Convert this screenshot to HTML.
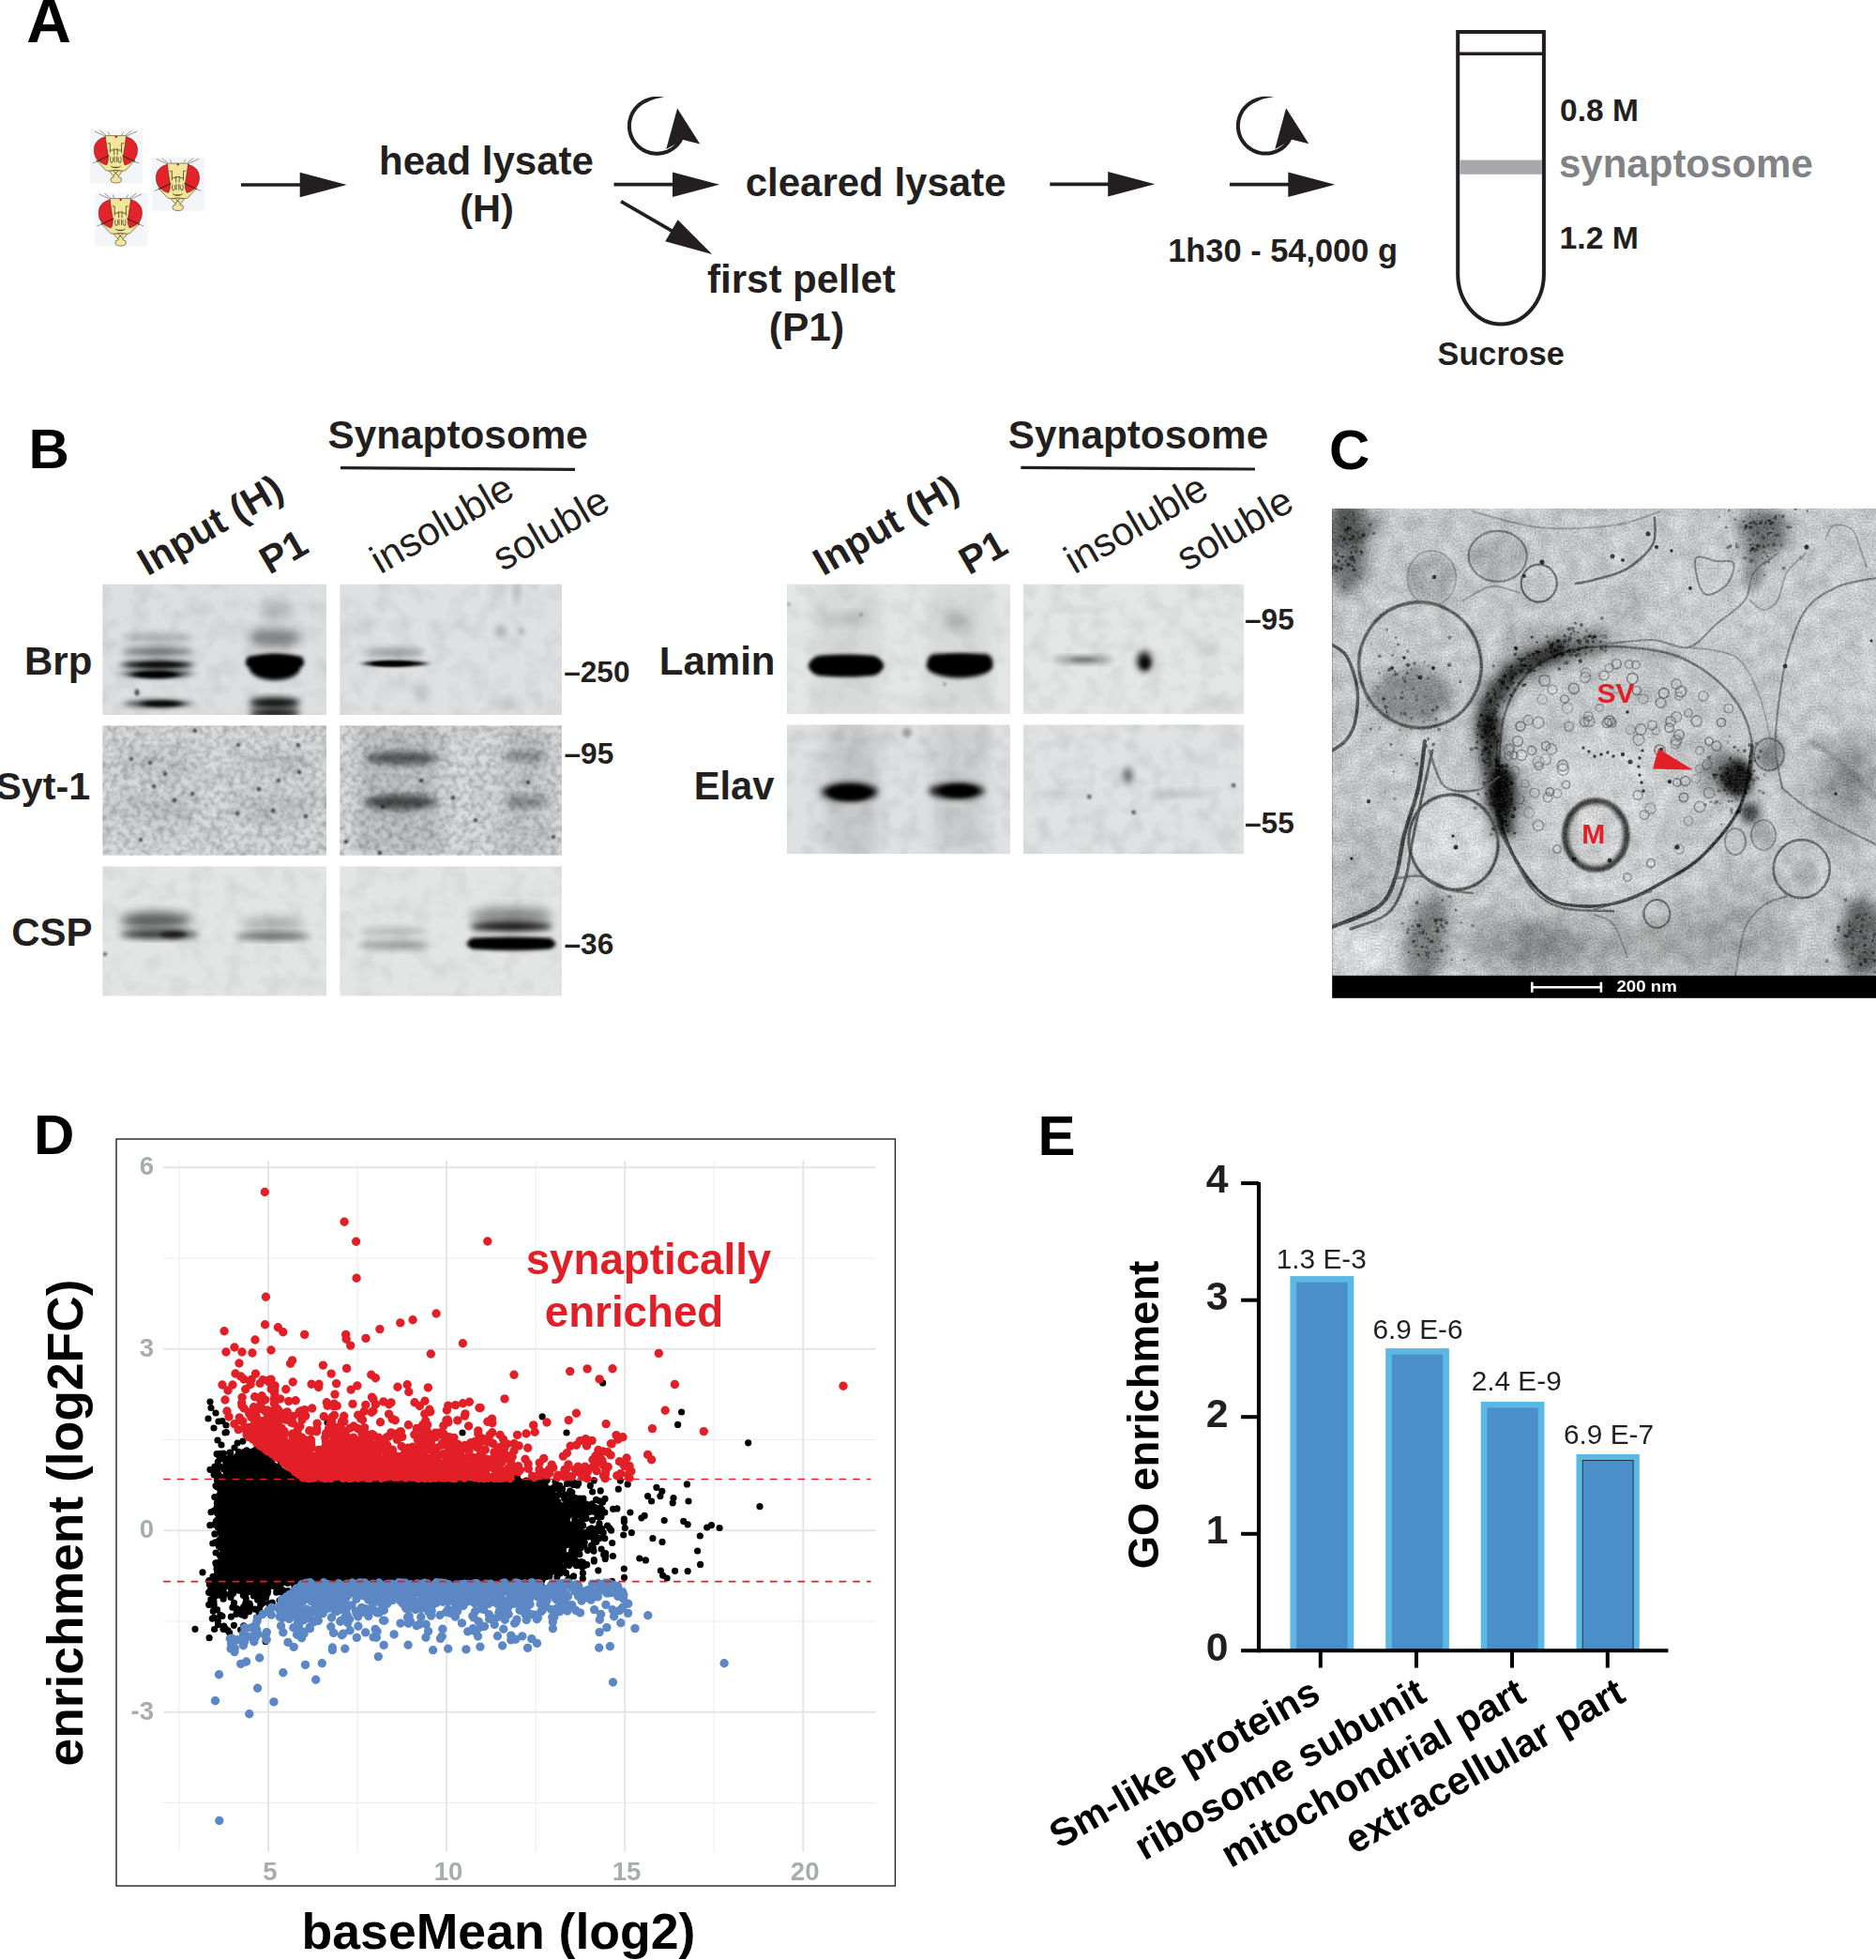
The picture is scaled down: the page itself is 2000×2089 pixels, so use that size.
<!DOCTYPE html>
<html><head><meta charset="utf-8"><title>Figure</title>
<style>
html,body{margin:0;padding:0;background:#fff;overflow:hidden;}
svg{display:block;font-family:"Liberation Sans",sans-serif;}
</style></head><body>
<svg width="2000" height="2089" viewBox="0 0 2000 2089">
<defs><filter id="b1" x="-50%" y="-50%" width="200%" height="200%"><feGaussianBlur stdDeviation="1.2"/></filter><filter id="b2" x="-50%" y="-50%" width="200%" height="200%"><feGaussianBlur stdDeviation="2.2"/></filter><filter id="b3" x="-50%" y="-50%" width="200%" height="200%"><feGaussianBlur stdDeviation="3.5"/></filter><filter id="b5" x="-50%" y="-50%" width="200%" height="200%"><feGaussianBlur stdDeviation="5.5"/></filter><filter id="b8" x="-50%" y="-50%" width="200%" height="200%"><feGaussianBlur stdDeviation="8"/></filter><filter id="b2x" x="-50%" y="-100%" width="200%" height="300%"><feGaussianBlur stdDeviation="4 1.8"/></filter><filter id="b3x" x="-50%" y="-100%" width="200%" height="300%"><feGaussianBlur stdDeviation="5 2.6"/></filter><filter id="nz" x="0" y="0" width="100%" height="100%">
<feTurbulence type="fractalNoise" baseFrequency="0.16" numOctaves="2" seed="7" result="t"/>
<feColorMatrix in="t" type="matrix" values="0 0 0 0 0  0 0 0 0 0  0 0 0 0 0  1.5 0 0 0 -0.55"/>
</filter><filter id="nz2" x="0" y="0" width="100%" height="100%">
<feTurbulence type="fractalNoise" baseFrequency="0.05" numOctaves="2" seed="3" result="t"/>
<feColorMatrix in="t" type="matrix" values="0 0 0 0 0  0 0 0 0 0  0 0 0 0 0  1.2 0 0 0 -0.5"/>
</filter><filter id="emn" x="0" y="0" width="100%" height="100%" color-interpolation-filters="sRGB">
<feTurbulence type="fractalNoise" baseFrequency="0.55" numOctaves="2" seed="11" result="t"/>
<feColorMatrix in="t" type="matrix" values="1 0 0 0 0  1 0 0 0 0  1 0 0 0 0  0 0 0 0 1" result="n"/>
<feTurbulence type="fractalNoise" baseFrequency="0.06" numOctaves="2" seed="5" result="t2"/>
<feColorMatrix in="t2" type="matrix" values="1 0 0 0 0  1 0 0 0 0  1 0 0 0 0  0 0 0 0 1" result="n2"/>
<feComposite in="SourceGraphic" in2="n" operator="arithmetic" k1="0" k2="1" k3="0.34" k4="-0.17" result="a"/>
<feComposite in="a" in2="n2" operator="arithmetic" k1="0" k2="1" k3="0.2" k4="-0.10"/>
</filter><filter id="e05" x="-50%" y="-50%" width="200%" height="200%"><feGaussianBlur stdDeviation="0.6"/></filter><filter id="e1" x="-50%" y="-50%" width="200%" height="200%"><feGaussianBlur stdDeviation="1.1"/></filter><filter id="e2" x="-50%" y="-50%" width="200%" height="200%"><feGaussianBlur stdDeviation="2.2"/></filter><filter id="e4" x="-50%" y="-50%" width="200%" height="200%"><feGaussianBlur stdDeviation="4"/></filter><filter id="e7" x="-50%" y="-50%" width="200%" height="200%"><feGaussianBlur stdDeviation="7"/></filter><filter id="e12" x="-50%" y="-50%" width="200%" height="200%"><feGaussianBlur stdDeviation="12"/></filter><filter id="e20" x="-50%" y="-50%" width="200%" height="200%"><feGaussianBlur stdDeviation="20"/></filter><clipPath id="emclip"><rect x="1420.2" y="542" width="580" height="498"/></clipPath></defs>
<rect width="2000" height="2089" fill="#fff"/>
<text x="28.2" y="44.5" font-size="66" font-weight="bold" fill="#000" text-anchor="start" >A</text><g transform="translate(96.1,138.1)"><rect width="56.2" height="57.2" fill="#f4f5f9"/><path d="M15.5,6.8 L4.7,1.8 M16.9,6.1 L10.4,1.1 M39.1,6.8 L49.9,1.8 M37.7,6.1 L44.2,1.1 M6.8,34.2 L2.5,35.8 M47.8,34.2 L52.1,35.8 M21,6 L19,2.5 M33.6,6 L35.6,2.5" stroke="#444" stroke-width="0.55" fill="none"/><path d="M16.2,6.5 L38.5,6.5 L40,20 L47.8,33 L37.8,43.5 L34.5,44.2 L29.6,50.5 L33,51.6 Q35,56.8 27.6,57 Q20.4,56.8 22.2,51.6 L25.6,50.5 L20.1,44.2 L16.8,43.5 L6.8,33 L14.6,20 Z" fill="#f3e59a" stroke="#3a3a2a" stroke-width="0.6"/><path d="M16.2,7.6 Q5.5,10.5 4.3,19.5 Q3.4,28.5 9,33.5 Q13,37 17.6,37.8 Q20.5,32 18.6,24 Q17,14 16.2,7.6 Z" fill="#e2232a" stroke="#3a1515" stroke-width="0.5"/><path d="M38.4,7.6 Q49.1,10.5 50.3,19.5 Q51.2,28.5 45.6,33.5 Q41.6,37 37,37.8 Q34.1,32 36,24 Q37.6,14 38.4,7.6 Z" fill="#e2232a" stroke="#3a1515" stroke-width="0.5"/><path d="M21.2,14.7 V24.8 M33.4,14.7 V24.8 M21.2,14.7 H18.5 M33.4,14.7 H36.1 M24.6,20.9 H30 M25.6,20.9 V27 M29,20.9 V27 M21.2,22 H25 M29.6,22 H33.4" stroke="#2a2a1a" stroke-width="0.7" fill="none"/><path d="M20.5,27.7 L6.8,34.2 M34.1,27.7 L47.8,34.2" stroke="#1a1a1a" stroke-width="0.9" fill="none"/><path d="M22,29 Q20.5,33 22.5,35.5 Q25,35 24.5,29.5 M26,28.5 V35 M28.6,28.5 V35 M32.6,29 Q34.1,33 32.1,35.5 Q29.6,35 30.1,29.5 M21.9,39 Q27.3,42.5 32.7,39 M24.5,40.2 H30.1 M24.8,43.8 L30,49.3 M29.8,43.8 L24.6,49.3 M20.1,44.2 Q27.3,42.5 34.5,44.2" stroke="#2a2a1a" stroke-width="0.7" fill="none"/><circle cx="27.6" cy="7.8" r="1.1" fill="#8e1b1b"/></g><g transform="translate(162.1,167.6)"><rect width="56.2" height="57.2" fill="#f4f5f9"/><path d="M15.5,6.8 L4.7,1.8 M16.9,6.1 L10.4,1.1 M39.1,6.8 L49.9,1.8 M37.7,6.1 L44.2,1.1 M6.8,34.2 L2.5,35.8 M47.8,34.2 L52.1,35.8 M21,6 L19,2.5 M33.6,6 L35.6,2.5" stroke="#444" stroke-width="0.55" fill="none"/><path d="M16.2,6.5 L38.5,6.5 L40,20 L47.8,33 L37.8,43.5 L34.5,44.2 L29.6,50.5 L33,51.6 Q35,56.8 27.6,57 Q20.4,56.8 22.2,51.6 L25.6,50.5 L20.1,44.2 L16.8,43.5 L6.8,33 L14.6,20 Z" fill="#f3e59a" stroke="#3a3a2a" stroke-width="0.6"/><path d="M16.2,7.6 Q5.5,10.5 4.3,19.5 Q3.4,28.5 9,33.5 Q13,37 17.6,37.8 Q20.5,32 18.6,24 Q17,14 16.2,7.6 Z" fill="#e2232a" stroke="#3a1515" stroke-width="0.5"/><path d="M38.4,7.6 Q49.1,10.5 50.3,19.5 Q51.2,28.5 45.6,33.5 Q41.6,37 37,37.8 Q34.1,32 36,24 Q37.6,14 38.4,7.6 Z" fill="#e2232a" stroke="#3a1515" stroke-width="0.5"/><path d="M21.2,14.7 V24.8 M33.4,14.7 V24.8 M21.2,14.7 H18.5 M33.4,14.7 H36.1 M24.6,20.9 H30 M25.6,20.9 V27 M29,20.9 V27 M21.2,22 H25 M29.6,22 H33.4" stroke="#2a2a1a" stroke-width="0.7" fill="none"/><path d="M20.5,27.7 L6.8,34.2 M34.1,27.7 L47.8,34.2" stroke="#1a1a1a" stroke-width="0.9" fill="none"/><path d="M22,29 Q20.5,33 22.5,35.5 Q25,35 24.5,29.5 M26,28.5 V35 M28.6,28.5 V35 M32.6,29 Q34.1,33 32.1,35.5 Q29.6,35 30.1,29.5 M21.9,39 Q27.3,42.5 32.7,39 M24.5,40.2 H30.1 M24.8,43.8 L30,49.3 M29.8,43.8 L24.6,49.3 M20.1,44.2 Q27.3,42.5 34.5,44.2" stroke="#2a2a1a" stroke-width="0.7" fill="none"/><circle cx="27.6" cy="7.8" r="1.1" fill="#8e1b1b"/></g><g transform="translate(101,205.1)"><rect width="56.2" height="57.2" fill="#f4f5f9"/><path d="M15.5,6.8 L4.7,1.8 M16.9,6.1 L10.4,1.1 M39.1,6.8 L49.9,1.8 M37.7,6.1 L44.2,1.1 M6.8,34.2 L2.5,35.8 M47.8,34.2 L52.1,35.8 M21,6 L19,2.5 M33.6,6 L35.6,2.5" stroke="#444" stroke-width="0.55" fill="none"/><path d="M16.2,6.5 L38.5,6.5 L40,20 L47.8,33 L37.8,43.5 L34.5,44.2 L29.6,50.5 L33,51.6 Q35,56.8 27.6,57 Q20.4,56.8 22.2,51.6 L25.6,50.5 L20.1,44.2 L16.8,43.5 L6.8,33 L14.6,20 Z" fill="#f3e59a" stroke="#3a3a2a" stroke-width="0.6"/><path d="M16.2,7.6 Q5.5,10.5 4.3,19.5 Q3.4,28.5 9,33.5 Q13,37 17.6,37.8 Q20.5,32 18.6,24 Q17,14 16.2,7.6 Z" fill="#e2232a" stroke="#3a1515" stroke-width="0.5"/><path d="M38.4,7.6 Q49.1,10.5 50.3,19.5 Q51.2,28.5 45.6,33.5 Q41.6,37 37,37.8 Q34.1,32 36,24 Q37.6,14 38.4,7.6 Z" fill="#e2232a" stroke="#3a1515" stroke-width="0.5"/><path d="M21.2,14.7 V24.8 M33.4,14.7 V24.8 M21.2,14.7 H18.5 M33.4,14.7 H36.1 M24.6,20.9 H30 M25.6,20.9 V27 M29,20.9 V27 M21.2,22 H25 M29.6,22 H33.4" stroke="#2a2a1a" stroke-width="0.7" fill="none"/><path d="M20.5,27.7 L6.8,34.2 M34.1,27.7 L47.8,34.2" stroke="#1a1a1a" stroke-width="0.9" fill="none"/><path d="M22,29 Q20.5,33 22.5,35.5 Q25,35 24.5,29.5 M26,28.5 V35 M28.6,28.5 V35 M32.6,29 Q34.1,33 32.1,35.5 Q29.6,35 30.1,29.5 M21.9,39 Q27.3,42.5 32.7,39 M24.5,40.2 H30.1 M24.8,43.8 L30,49.3 M29.8,43.8 L24.6,49.3 M20.1,44.2 Q27.3,42.5 34.5,44.2" stroke="#2a2a1a" stroke-width="0.7" fill="none"/><circle cx="27.6" cy="7.8" r="1.1" fill="#8e1b1b"/></g><line x1="257" y1="197" x2="323.7" y2="197" stroke="#231f20" stroke-width="3.7"/><polygon points="369.7,197 319.7,183.7 319.7,210.3" fill="#231f20"/><text x="518.5" y="185.8" font-size="42" font-weight="bold" fill="#231f20" text-anchor="middle" >head lysate</text><text x="519" y="236" font-size="41.5" font-weight="bold" fill="#231f20" text-anchor="middle" >(H)</text><polygon points="709.0,104.1 707.5,103.7 705.9,103.4 704.4,103.1 702.8,103.0 701.2,102.9 699.7,102.9 698.1,102.9 696.6,103.1 695.0,103.3 693.5,103.6 691.9,104.0 690.4,104.4 689.0,105.0 687.5,105.6 686.1,106.2 684.7,107.0 683.4,107.8 682.1,108.7 680.8,109.6 679.6,110.6 678.5,111.7 677.4,112.8 676.3,113.9 675.3,115.2 674.4,116.4 673.6,117.7 672.8,119.1 672.0,120.5 671.4,121.9 670.8,123.4 670.3,124.9 669.9,126.4 669.5,127.9 669.2,129.4 669.0,131.0 668.9,132.5 668.9,134.1 668.9,135.7 669.0,137.2 669.2,138.8 669.4,140.3 669.8,141.9 670.2,143.4 670.7,144.9 671.2,146.3 671.9,147.8 672.6,149.2 673.4,150.5 674.2,151.9 675.1,153.1 676.1,154.4 677.1,155.5 678.2,156.7 679.3,157.7 680.5,158.8 681.8,159.7 683.1,160.6 684.4,161.4 685.8,162.2 687.2,162.9 688.6,163.5 690.1,164.0 691.6,164.5 693.1,164.9 694.6,165.2 696.2,165.5 697.7,165.6 699.3,165.7 700.9,165.7 702.4,165.7 704.0,165.5 705.5,165.3 707.1,165.0 708.6,164.6 710.1,164.2 711.6,163.7 713.0,163.1 714.4,162.4 715.8,161.6 717.2,160.8 718.5,160.0 719.7,159.0 720.9,158.0 722.1,157.0 723.2,155.9 724.2,154.7 725.2,153.5 726.2,152.2 727.0,150.9 727.8,149.5 724.3,147.6 723.6,148.8 722.8,149.9 722.0,151.0 721.2,152.1 720.2,153.1 719.3,154.1 718.3,155.0 717.2,155.8 716.1,156.7 715.0,157.4 713.8,158.1 712.6,158.8 711.4,159.4 710.1,159.9 708.8,160.3 707.5,160.7 706.2,161.1 704.9,161.3 703.5,161.5 702.2,161.6 700.8,161.7 699.4,161.7 698.1,161.6 696.7,161.5 695.4,161.3 694.0,161.0 692.7,160.6 691.4,160.2 690.1,159.7 688.9,159.2 687.6,158.6 686.4,157.9 685.3,157.2 684.2,156.4 683.1,155.6 682.0,154.7 681.0,153.8 680.1,152.8 679.2,151.8 678.4,150.7 677.6,149.6 676.8,148.4 676.2,147.3 675.5,146.0 675.0,144.8 674.5,143.5 674.1,142.2 673.7,140.9 673.4,139.6 673.2,138.2 673.0,136.9 672.9,135.5 672.9,134.1 672.9,132.8 673.1,131.4 673.2,130.1 673.5,128.7 673.8,127.4 674.2,126.1 674.6,124.8 675.1,123.5 675.7,122.3 676.3,121.1 677.0,119.9 677.7,118.7 678.6,117.6 679.4,116.6 680.3,115.6 681.3,114.6 682.3,113.7 683.3,112.8 684.4,112.0 685.6,111.2 686.7,110.5 687.9,109.9 689.2,109.3 690.4,108.7 691.6,108.1 692.9,107.5 694.2,106.9 695.5,106.4 696.9,105.9 698.3,105.4 699.7,105.0 701.2,104.7 702.7,104.5 704.2,104.2 705.8,104.1 707.4,104.1 709.0,104.1" fill="#231f20"/><polygon points="722.1,115.4 710.2,159.0 728.3,148.9 746.3,153.4" fill="#231f20"/><line x1="654.5" y1="196.7" x2="721" y2="196.7" stroke="#231f20" stroke-width="3.7"/><polygon points="767,196.7 717,183.39999999999998 717,210.0" fill="#231f20"/><g transform="translate(662,214.6) rotate(30.1)"><line x1="0" y1="0" x2="66.3" y2="0" stroke="#231f20" stroke-width="3.7"/><polygon points="112.3,0 62.3,-13.3 62.3,13.3" fill="#231f20"/></g><text x="933.6" y="208.7" font-size="42" font-weight="bold" fill="#231f20" text-anchor="middle" >cleared lysate</text><text x="854.4" y="311.9" font-size="42" font-weight="bold" fill="#231f20" text-anchor="middle" >first pellet</text><text x="860" y="362.5" font-size="42.5" font-weight="bold" fill="#231f20" text-anchor="middle" >(P1)</text><line x1="1119.3" y1="196.3" x2="1185.2" y2="196.3" stroke="#231f20" stroke-width="3.7"/><polygon points="1231.2,196.3 1181.2,183.0 1181.2,209.60000000000002" fill="#231f20"/><polygon points="1358.0,104.0 1356.5,103.6 1354.9,103.3 1353.4,103.0 1351.8,102.9 1350.2,102.8 1348.7,102.8 1347.1,102.8 1345.6,103.0 1344.0,103.2 1342.5,103.5 1340.9,103.9 1339.4,104.3 1338.0,104.9 1336.5,105.5 1335.1,106.1 1333.7,106.9 1332.4,107.7 1331.1,108.6 1329.8,109.5 1328.6,110.5 1327.5,111.6 1326.4,112.7 1325.3,113.8 1324.3,115.1 1323.4,116.3 1322.6,117.6 1321.8,119.0 1321.0,120.4 1320.4,121.8 1319.8,123.3 1319.3,124.8 1318.9,126.3 1318.5,127.8 1318.2,129.3 1318.0,130.9 1317.9,132.4 1317.9,134.0 1317.9,135.6 1318.0,137.1 1318.2,138.7 1318.4,140.2 1318.8,141.8 1319.2,143.3 1319.7,144.8 1320.2,146.2 1320.9,147.7 1321.6,149.1 1322.4,150.4 1323.2,151.8 1324.1,153.0 1325.1,154.3 1326.1,155.4 1327.2,156.6 1328.3,157.6 1329.5,158.7 1330.8,159.6 1332.1,160.5 1333.4,161.3 1334.8,162.1 1336.2,162.8 1337.6,163.4 1339.1,163.9 1340.6,164.4 1342.1,164.8 1343.6,165.1 1345.2,165.4 1346.7,165.5 1348.3,165.6 1349.9,165.6 1351.4,165.6 1353.0,165.4 1354.5,165.2 1356.1,164.9 1357.6,164.5 1359.1,164.1 1360.6,163.6 1362.0,163.0 1363.4,162.3 1364.8,161.5 1366.2,160.7 1367.5,159.9 1368.7,158.9 1369.9,157.9 1371.1,156.9 1372.2,155.8 1373.2,154.6 1374.2,153.4 1375.2,152.1 1376.0,150.8 1376.8,149.4 1373.3,147.5 1372.6,148.7 1371.8,149.8 1371.0,150.9 1370.2,152.0 1369.2,153.0 1368.3,154.0 1367.3,154.9 1366.2,155.7 1365.1,156.6 1364.0,157.3 1362.8,158.0 1361.6,158.7 1360.4,159.3 1359.1,159.8 1357.8,160.2 1356.5,160.6 1355.2,161.0 1353.9,161.2 1352.5,161.4 1351.2,161.5 1349.8,161.6 1348.4,161.6 1347.1,161.5 1345.7,161.4 1344.4,161.2 1343.0,160.9 1341.7,160.5 1340.4,160.1 1339.1,159.6 1337.9,159.1 1336.6,158.5 1335.4,157.8 1334.3,157.1 1333.2,156.3 1332.1,155.5 1331.0,154.6 1330.0,153.7 1329.1,152.7 1328.2,151.7 1327.4,150.6 1326.6,149.5 1325.8,148.3 1325.2,147.2 1324.5,145.9 1324.0,144.7 1323.5,143.4 1323.1,142.1 1322.7,140.8 1322.4,139.5 1322.2,138.1 1322.0,136.8 1321.9,135.4 1321.9,134.0 1321.9,132.7 1322.1,131.3 1322.2,130.0 1322.5,128.6 1322.8,127.3 1323.2,126.0 1323.6,124.7 1324.1,123.4 1324.7,122.2 1325.3,121.0 1326.0,119.8 1326.7,118.6 1327.6,117.5 1328.4,116.5 1329.3,115.5 1330.3,114.5 1331.3,113.6 1332.3,112.7 1333.4,111.9 1334.6,111.1 1335.7,110.4 1336.9,109.8 1338.2,109.2 1339.4,108.6 1340.6,108.0 1341.9,107.4 1343.2,106.8 1344.5,106.3 1345.9,105.8 1347.3,105.3 1348.7,104.9 1350.2,104.6 1351.7,104.4 1353.2,104.1 1354.8,104.0 1356.4,104.0 1358.0,104.0" fill="#231f20"/><polygon points="1371.1,115.3 1359.2,158.9 1377.3,148.8 1395.3,153.3" fill="#231f20"/><line x1="1311" y1="196.7" x2="1377.3" y2="196.7" stroke="#231f20" stroke-width="3.7"/><polygon points="1423.3,196.7 1373.3,183.39999999999998 1373.3,210.0" fill="#231f20"/><text x="1367.6" y="278.6" font-size="34.4" font-weight="bold" fill="#231f20" text-anchor="middle" >1h30 - 54,000 g</text><path d="M1554.2,34 H1645.9 V292 A45.85,53.5 0 0 1 1554.2,292 Z" fill="none" stroke="#231f20" stroke-width="4"/><line x1="1554.2" y1="57.3" x2="1645.9" y2="57.3" stroke="#231f20" stroke-width="3.4"/><rect x="1556.2" y="170.6" width="87.7" height="15.2" fill="#a7a9ac"/><text x="1663.1" y="129" font-size="33.5" font-weight="bold" fill="#231f20" text-anchor="start" >0.8 M</text><text x="1662" y="188.7" font-size="42" font-weight="bold" fill="#808285" text-anchor="start" >synaptosome</text><text x="1662.5" y="264.7" font-size="33.8" font-weight="bold" fill="#231f20" text-anchor="start" >1.2 M</text><text x="1600.2" y="388.6" font-size="34.3" font-weight="bold" fill="#231f20" text-anchor="middle" >Sucrose</text><text x="30.5" y="498.7" font-size="60" font-weight="bold" fill="#000" text-anchor="start" >B</text><text x="488.2" y="478" font-size="42.3" font-weight="bold" fill="#231f20" text-anchor="middle" >Synaptosome</text><line x1="363" y1="498.7" x2="613" y2="500.4" stroke="#231f20" stroke-width="3.2"/><text transform="translate(157.2,614.4) rotate(-30)" font-size="41.5" font-weight="bold" fill="#231f20">Input (H)</text><text transform="translate(287.3,613) rotate(-30)" font-size="41.5" font-weight="bold" fill="#231f20">P1</text><text transform="translate(405.5,612.5) rotate(-30)" font-size="42.5" font-weight="normal" fill="#231f20">insoluble</text><text transform="translate(536,609.5) rotate(-30)" font-size="42.5" font-weight="normal" fill="#231f20">soluble</text><text x="98.3" y="718.9" font-size="42" font-weight="bold" fill="#231f20" text-anchor="end" >Brp</text><text x="96.3" y="852.1" font-size="41.3" font-weight="bold" fill="#231f20" text-anchor="end" >Syt-1</text><text x="98.6" y="1008.4" font-size="42" font-weight="bold" fill="#231f20" text-anchor="end" >CSP</text><text x="601.2" y="727.4" font-size="31.6" font-weight="bold" fill="#231f20" text-anchor="start" >–250</text><text x="601.5" y="813.7" font-size="31.6" font-weight="bold" fill="#231f20" text-anchor="start" >–95</text><text x="601.5" y="1017" font-size="31.6" font-weight="bold" fill="#231f20" text-anchor="start" >–36</text><clipPath id="cb1"><rect x="109.2" y="622.5" width="238.8" height="139.5"/></clipPath><g clip-path="url(#cb1)"><rect x="109.2" y="622.5" width="238.8" height="139.5" fill="#dcdee0"/><rect x="109.2" y="622.5" width="238.8" height="139.5" fill="#000" opacity="0.13" filter="url(#nz2)"/><ellipse cx="168" cy="679.5" rx="38" ry="5" fill="#000" opacity="0.22" filter="url(#b3)"/><ellipse cx="168" cy="694.5" rx="38" ry="4.5" fill="#000" opacity="0.5" filter="url(#b3)"/><ellipse cx="168" cy="708.5" rx="38" ry="5" fill="#000" opacity="0.85" filter="url(#b3x)"/><ellipse cx="170" cy="708.5" rx="24" ry="3" fill="#000" opacity="0.6" filter="url(#b2x)"/><ellipse cx="166" cy="719" rx="26" ry="4" fill="#000" opacity="1" filter="url(#b2x)"/><ellipse cx="168" cy="718" rx="38" ry="4.5" fill="#000" opacity="0.6" filter="url(#b3x)"/><ellipse cx="168" cy="750" rx="36" ry="5" fill="#000" opacity="0.55" filter="url(#b3x)"/><ellipse cx="172" cy="750" rx="22" ry="3.5" fill="#000" opacity="0.9" filter="url(#b2x)"/><ellipse cx="146" cy="738" rx="2.5" ry="3.5" fill="#000" opacity="0.6" filter="url(#b1)"/><ellipse cx="293" cy="650" rx="16" ry="12" fill="#000" opacity="0.15" filter="url(#b5)"/><ellipse cx="293" cy="680" rx="28" ry="10" fill="#000" opacity="0.42" filter="url(#b5)"/><ellipse cx="293" cy="706" rx="31" ry="9" fill="#000" opacity="1" filter="url(#b2)"/><ellipse cx="293" cy="712" rx="27" ry="13" fill="#000" opacity="1" filter="url(#b2)"/><rect x="264" y="700" width="58" height="10" rx="0" fill="#000" opacity="1" filter="url(#b2)"/><ellipse cx="293" cy="749" rx="27" ry="5.5" fill="#000" opacity="1" filter="url(#b3)"/><ellipse cx="293" cy="760" rx="27" ry="5" fill="#000" opacity="0.95" filter="url(#b3)"/></g><clipPath id="cb2"><rect x="362.2" y="622.5" width="236.8" height="139.5"/></clipPath><g clip-path="url(#cb2)"><rect x="362.2" y="622.5" width="236.8" height="139.5" fill="#dfe0e2"/><rect x="362.2" y="622.5" width="236.8" height="139.5" fill="#000" opacity="0.13" filter="url(#nz2)"/><ellipse cx="421" cy="695.5" rx="30" ry="5" fill="#000" opacity="0.3" filter="url(#b3)"/><ellipse cx="421" cy="707.3" rx="34" ry="3.2" fill="#000" opacity="1" filter="url(#b2x)"/><ellipse cx="418" cy="707.3" rx="22" ry="2.6" fill="#000" opacity="1" filter="url(#b1)"/><ellipse cx="534" cy="673" rx="6" ry="7" fill="#000" opacity="0.22" filter="url(#b3)"/><ellipse cx="556" cy="673" rx="3" ry="3" fill="#000" opacity="0.2" filter="url(#b2)"/><ellipse cx="551" cy="630" rx="3.5" ry="14" fill="#000" opacity="0.2" filter="url(#b3)"/><ellipse cx="390" cy="665" rx="8" ry="8" fill="#000" opacity="0.1" filter="url(#b5)"/><ellipse cx="450" cy="740" rx="8" ry="10" fill="#000" opacity="0.1" filter="url(#b5)"/><ellipse cx="540" cy="750" rx="20" ry="6" fill="#000" opacity="0.08" filter="url(#b5)"/></g><clipPath id="cb3"><rect x="109.2" y="773.2" width="238.8" height="138.6"/></clipPath><g clip-path="url(#cb3)"><rect x="109.2" y="773.2" width="238.8" height="138.6" fill="#d8dadc"/><rect x="109.2" y="773.2" width="238.8" height="138.6" fill="#000" opacity="0.13" filter="url(#nz2)"/><ellipse cx="168" cy="815" rx="45" ry="14" fill="#000" opacity="0.07" filter="url(#b8)"/><ellipse cx="168" cy="860" rx="45" ry="16" fill="#000" opacity="0.08" filter="url(#b8)"/><ellipse cx="293" cy="815" rx="40" ry="14" fill="#000" opacity="0.06" filter="url(#b8)"/><ellipse cx="293" cy="862" rx="40" ry="16" fill="#000" opacity="0.08" filter="url(#b8)"/><rect x="206.2" y="777.2" width="3.6" height="3.6" fill="#000" opacity="0.75" filter="url(#b1)"/><rect x="158.2" y="811.2" width="3.6" height="3.6" fill="#000" opacity="0.75" filter="url(#b1)"/><rect x="252.2" y="792.2" width="3.6" height="3.6" fill="#000" opacity="0.75" filter="url(#b1)"/><rect x="316.2" y="792.2" width="3.6" height="3.6" fill="#000" opacity="0.75" filter="url(#b1)"/><rect x="317.2" y="821.2" width="3.6" height="3.6" fill="#000" opacity="0.75" filter="url(#b1)"/><rect x="274.2" y="839.2" width="3.6" height="3.6" fill="#000" opacity="0.75" filter="url(#b1)"/><rect x="203.2" y="844.2" width="3.6" height="3.6" fill="#000" opacity="0.75" filter="url(#b1)"/><rect x="184.2" y="851.2" width="3.6" height="3.6" fill="#000" opacity="0.75" filter="url(#b1)"/><rect x="289.2" y="862.2" width="3.6" height="3.6" fill="#000" opacity="0.75" filter="url(#b1)"/><rect x="148.2" y="893.2" width="3.6" height="3.6" fill="#000" opacity="0.75" filter="url(#b1)"/><rect x="324.2" y="868.2" width="3.6" height="3.6" fill="#000" opacity="0.75" filter="url(#b1)"/><rect x="174.2" y="823.2" width="3.6" height="3.6" fill="#000" opacity="0.75" filter="url(#b1)"/><rect x="162.2" y="836.2" width="3.6" height="3.6" fill="#000" opacity="0.75" filter="url(#b1)"/><rect x="251.2" y="865.2" width="3.6" height="3.6" fill="#000" opacity="0.75" filter="url(#b1)"/><rect x="138.2" y="807.2" width="3.6" height="3.6" fill="#000" opacity="0.75" filter="url(#b1)"/><rect x="295.2" y="830.2" width="3.6" height="3.6" fill="#000" opacity="0.75" filter="url(#b1)"/><rect x="109.2" y="773.2" width="238.8" height="138.6" fill="#000" opacity="0.3" filter="url(#nz)"/></g><clipPath id="cb4"><rect x="362.2" y="773.2" width="236.8" height="138.6"/></clipPath><g clip-path="url(#cb4)"><rect x="362.2" y="773.2" width="236.8" height="138.6" fill="#d9dbdd"/><rect x="362.2" y="773.2" width="236.8" height="138.6" fill="#000" opacity="0.13" filter="url(#nz2)"/><rect x="384" y="773" width="86" height="139" rx="0" fill="#000" opacity="0.1" filter="url(#b8)"/><rect x="532" y="773" width="54" height="139" rx="0" fill="#000" opacity="0.07" filter="url(#b8)"/><ellipse cx="427" cy="808" rx="38" ry="7" fill="#000" opacity="0.55" filter="url(#b3)"/><ellipse cx="427" cy="855" rx="38" ry="8" fill="#000" opacity="0.62" filter="url(#b3)"/><ellipse cx="560" cy="806" rx="22" ry="6" fill="#000" opacity="0.3" filter="url(#b3)"/><ellipse cx="560" cy="855" rx="22" ry="7" fill="#000" opacity="0.3" filter="url(#b3)"/><rect x="367.2" y="895.2" width="3.6" height="3.6" fill="#000" opacity="0.8" filter="url(#b1)"/><rect x="406.2" y="858.2" width="3.6" height="3.6" fill="#000" opacity="0.8" filter="url(#b1)"/><rect x="561.2" y="832.2" width="3.6" height="3.6" fill="#000" opacity="0.8" filter="url(#b1)"/><rect x="588.2" y="890.2" width="3.6" height="3.6" fill="#000" opacity="0.8" filter="url(#b1)"/><rect x="505.2" y="872.2" width="3.6" height="3.6" fill="#000" opacity="0.8" filter="url(#b1)"/><rect x="481.2" y="848.2" width="3.6" height="3.6" fill="#000" opacity="0.8" filter="url(#b1)"/><rect x="403.2" y="907.2" width="3.6" height="3.6" fill="#000" opacity="0.8" filter="url(#b1)"/><rect x="447.2" y="830.2" width="3.6" height="3.6" fill="#000" opacity="0.8" filter="url(#b1)"/><rect x="362.2" y="773.2" width="236.8" height="138.6" fill="#000" opacity="0.3" filter="url(#nz)"/></g><clipPath id="cb5"><rect x="109.2" y="923.3" width="238.8" height="138.4"/></clipPath><g clip-path="url(#cb5)"><rect x="109.2" y="923.3" width="238.8" height="138.4" fill="#e3e4e4"/><rect x="109.2" y="923.3" width="238.8" height="138.4" fill="#000" opacity="0.1" filter="url(#nz2)"/><ellipse cx="166" cy="981" rx="38" ry="9" fill="#000" opacity="0.6" filter="url(#b5)"/><ellipse cx="170" cy="996" rx="42" ry="4.5" fill="#000" opacity="0.8" filter="url(#b3)"/><ellipse cx="185" cy="996" rx="14" ry="3.5" fill="#000" opacity="0.7" filter="url(#b2)"/><ellipse cx="291" cy="985" rx="34" ry="8" fill="#000" opacity="0.22" filter="url(#b5)"/><ellipse cx="291" cy="998" rx="40" ry="4" fill="#000" opacity="0.55" filter="url(#b3)"/><rect x="110.0" y="1015.0" width="4" height="4" fill="#000" opacity="0.5" filter="url(#b1)"/></g><clipPath id="cb6"><rect x="362.2" y="923.3" width="236.8" height="138.4"/></clipPath><g clip-path="url(#cb6)"><rect x="362.2" y="923.3" width="236.8" height="138.4" fill="#e3e4e4"/><rect x="362.2" y="923.3" width="236.8" height="138.4" fill="#000" opacity="0.1" filter="url(#nz2)"/><ellipse cx="420" cy="993" rx="36" ry="5" fill="#000" opacity="0.18" filter="url(#b3)"/><ellipse cx="420" cy="1007.5" rx="38" ry="4.5" fill="#000" opacity="0.32" filter="url(#b3)"/><ellipse cx="545" cy="976" rx="44" ry="9" fill="#000" opacity="0.4" filter="url(#b5)"/><ellipse cx="545" cy="987.5" rx="44" ry="5" fill="#000" opacity="0.95" filter="url(#b3)"/><ellipse cx="545" cy="1006" rx="48" ry="6.5" fill="#000" opacity="1" filter="url(#b2)"/><rect x="500" y="1000" width="90" height="11" rx="5" fill="#000" opacity="1" filter="url(#b2)"/></g><text x="1213.5" y="477.5" font-size="42.3" font-weight="bold" fill="#231f20" text-anchor="middle" >Synaptosome</text><line x1="1088.3" y1="498.3" x2="1338" y2="500" stroke="#231f20" stroke-width="3.2"/><text transform="translate(877.5,614.4) rotate(-30)" font-size="41.5" font-weight="bold" fill="#231f20">Input (H)</text><text transform="translate(1033,613.5) rotate(-30)" font-size="41.5" font-weight="bold" fill="#231f20">P1</text><text transform="translate(1145.5,612.5) rotate(-30)" font-size="42.5" font-weight="normal" fill="#231f20">insoluble</text><text transform="translate(1265,609.5) rotate(-30)" font-size="42.5" font-weight="normal" fill="#231f20">soluble</text><text x="826.5" y="718.9" font-size="42" font-weight="bold" fill="#231f20" text-anchor="end" >Lamin</text><text x="825.5" y="852" font-size="41.7" font-weight="bold" fill="#231f20" text-anchor="end" >Elav</text><text x="1327" y="671.3" font-size="31.6" font-weight="bold" fill="#231f20" text-anchor="start" >–95</text><text x="1327" y="888.2" font-size="31.6" font-weight="bold" fill="#231f20" text-anchor="start" >–55</text><clipPath id="cb7"><rect x="838.8" y="622.5" width="238.2" height="138.4"/></clipPath><g clip-path="url(#cb7)"><rect x="838.8" y="622.5" width="238.2" height="138.4" fill="#e4e5e5"/><rect x="838.8" y="622.5" width="238.2" height="138.4" fill="#000" opacity="0.1" filter="url(#nz2)"/><rect x="868" y="622" width="70" height="139" rx="0" fill="#000" opacity="0.05" filter="url(#b8)"/><rect x="990" y="622" width="66" height="139" rx="0" fill="#000" opacity="0.05" filter="url(#b8)"/><ellipse cx="901" cy="660" rx="30" ry="6" fill="#000" opacity="0.12" filter="url(#b5)"/><ellipse cx="1020" cy="662" rx="14" ry="9" fill="#000" opacity="0.2" filter="url(#b5)"/><rect x="864" y="699" width="76" height="21" rx="10" fill="#000" opacity="1" filter="url(#b2)"/><ellipse cx="902" cy="709.5" rx="40" ry="11" fill="#000" opacity="1" filter="url(#b2)"/><rect x="989" y="697" width="69" height="16" rx="8" fill="#000" opacity="1" filter="url(#b2)"/><ellipse cx="1023" cy="710" rx="35" ry="12.5" fill="#000" opacity="1" filter="url(#b2)"/><rect x="839.4" y="642.4" width="3.2" height="3.2" fill="#000" opacity="0.3" filter="url(#b1)"/><rect x="916.4" y="653.4" width="3.2" height="3.2" fill="#000" opacity="0.3" filter="url(#b1)"/><rect x="1005.4" y="727.4" width="3.2" height="3.2" fill="#000" opacity="0.3" filter="url(#b1)"/></g><clipPath id="cb8"><rect x="1091" y="622.5" width="235.2" height="138.4"/></clipPath><g clip-path="url(#cb8)"><rect x="1091" y="622.5" width="235.2" height="138.4" fill="#e4e5e5"/><rect x="1091" y="622.5" width="235.2" height="138.4" fill="#000" opacity="0.12" filter="url(#nz2)"/><ellipse cx="1155" cy="703.2" rx="32" ry="3.5" fill="#000" opacity="0.4" filter="url(#b3)"/><ellipse cx="1155" cy="703.2" rx="14" ry="2.5" fill="#000" opacity="0.3" filter="url(#b2)"/><ellipse cx="1220" cy="705" rx="8" ry="11" fill="#000" opacity="0.85" filter="url(#b3)"/><ellipse cx="1221" cy="707" rx="5" ry="6" fill="#000" opacity="0.8" filter="url(#b2)"/><ellipse cx="1285" cy="690" rx="10" ry="8" fill="#000" opacity="0.1" filter="url(#b5)"/><ellipse cx="1150" cy="650" rx="30" ry="3" fill="#000" opacity="0.06" filter="url(#b3)"/><ellipse cx="1290" cy="750" rx="14" ry="8" fill="#000" opacity="0.08" filter="url(#b5)"/></g><clipPath id="cb9"><rect x="838.8" y="772.2" width="238.2" height="138.1"/></clipPath><g clip-path="url(#cb9)"><rect x="838.8" y="772.2" width="238.2" height="138.1" fill="#dfe0e1"/><rect x="838.8" y="772.2" width="238.2" height="138.1" fill="#000" opacity="0.15" filter="url(#nz2)"/><rect x="880" y="772" width="56" height="139" rx="0" fill="#000" opacity="0.1" filter="url(#b8)"/><rect x="995" y="772" width="56" height="139" rx="0" fill="#000" opacity="0.08" filter="url(#b8)"/><ellipse cx="906" cy="844" rx="30" ry="9.5" fill="#000" opacity="1" filter="url(#b3)"/><ellipse cx="906" cy="845" rx="22" ry="8" fill="#000" opacity="1" filter="url(#b2)"/><ellipse cx="1020" cy="843" rx="30" ry="8" fill="#000" opacity="0.95" filter="url(#b3)"/><ellipse cx="1022" cy="843" rx="20" ry="7" fill="#000" opacity="1" filter="url(#b2)"/><ellipse cx="967" cy="781" rx="5" ry="5" fill="#000" opacity="0.3" filter="url(#b2)"/><ellipse cx="893" cy="785" rx="5" ry="5" fill="#000" opacity="0.12" filter="url(#b3)"/><ellipse cx="985" cy="790" rx="6" ry="5" fill="#000" opacity="0.12" filter="url(#b3)"/></g><clipPath id="cb10"><rect x="1091" y="772.2" width="235.2" height="138.1"/></clipPath><g clip-path="url(#cb10)"><rect x="1091" y="772.2" width="235.2" height="138.1" fill="#e0e1e2"/><rect x="1091" y="772.2" width="235.2" height="138.1" fill="#000" opacity="0.15" filter="url(#nz2)"/><ellipse cx="1202.7" cy="826.3" rx="5" ry="9" fill="#000" opacity="0.5" filter="url(#b3)"/><ellipse cx="1258" cy="846" rx="34" ry="3.5" fill="#000" opacity="0.14" filter="url(#b3)"/><ellipse cx="1140" cy="846" rx="30" ry="3.5" fill="#000" opacity="0.07" filter="url(#b3)"/><rect x="1159.3" y="847.2" width="4" height="4" fill="#000" opacity="0.6" filter="url(#b1)"/><rect x="1206.6" y="863.8" width="4" height="4" fill="#000" opacity="0.6" filter="url(#b1)"/><rect x="1313.1" y="835.0" width="4" height="4" fill="#000" opacity="0.6" filter="url(#b1)"/></g><text x="1417" y="499.5" font-size="60" font-weight="bold" fill="#000" text-anchor="start" >C</text><g clip-path="url(#emclip)"><g filter="url(#emn)"><rect x="1420.2" y="542" width="580" height="498" fill="#c3c5c6"/><ellipse cx="2010" cy="710" rx="100" ry="120" fill="#fff" opacity="0.08" filter="url(#e12)"/><ellipse cx="1790" cy="640" rx="120" ry="60" fill="#fff" opacity="0.08" filter="url(#e20)"/><ellipse cx="1436" cy="585" rx="22" ry="50" fill="#000" opacity="0.42" filter="url(#e7)"/><ellipse cx="1440" cy="560" rx="30" ry="22" fill="#000" opacity="0.3" filter="url(#e7)"/><ellipse cx="1505" cy="742" rx="44" ry="30" fill="#000" opacity="0.3" filter="url(#e7)"/><ellipse cx="1549" cy="897" rx="40" ry="44" fill="#fff" opacity="0.3" filter="url(#e7)"/><ellipse cx="1710" cy="840" rx="70" ry="60" fill="#fff" opacity="0.2" filter="url(#e12)"/><ellipse cx="1720" cy="930" rx="60" ry="25" fill="#fff" opacity="0.15" filter="url(#e7)"/><ellipse cx="1522" cy="1000" rx="22" ry="50" fill="#000" opacity="0.36" filter="url(#e7)" transform="rotate(12 1522 1000)"/><ellipse cx="1455" cy="1015" rx="35" ry="25" fill="#fff" opacity="0.25" filter="url(#e7)"/><ellipse cx="1768" cy="1010" rx="22" ry="25" fill="#fff" opacity="0.35" filter="url(#e7)"/><ellipse cx="1620" cy="1005" rx="60" ry="30" fill="#000" opacity="0.2" filter="url(#e12)"/><ellipse cx="1700" cy="1010" rx="90" ry="28" fill="#000" opacity="0.16" filter="url(#e12)"/><ellipse cx="1830" cy="1000" rx="80" ry="35" fill="#000" opacity="0.16" filter="url(#e12)"/><ellipse cx="1870" cy="950" rx="40" ry="25" fill="#000" opacity="0.08" filter="url(#e12)"/><ellipse cx="1960" cy="860" rx="35" ry="45" fill="#000" opacity="0.12" filter="url(#e12)"/><ellipse cx="1985" cy="1000" rx="24" ry="45" fill="#000" opacity="0.5" filter="url(#e7)"/><ellipse cx="1975" cy="820" rx="30" ry="40" fill="#000" opacity="0.22" filter="url(#e12)"/><ellipse cx="1880" cy="568" rx="26" ry="28" fill="#000" opacity="0.42" filter="url(#e7)"/><ellipse cx="1868" cy="610" rx="12" ry="20" fill="#000" opacity="0.25" filter="url(#e4)"/><ellipse cx="1460" cy="930" rx="30" ry="50" fill="#000" opacity="0.08" filter="url(#e12)"/><ellipse cx="1450" cy="1010" rx="30" ry="25" fill="#fff" opacity="0.2" filter="url(#e7)"/><ellipse cx="1526" cy="616" rx="25" ry="27" fill="#000" opacity="0.13" filter="url(#e4)"/><ellipse cx="1597" cy="593" rx="29" ry="25" fill="#000" opacity="0.1" filter="url(#e4)"/><ellipse cx="1735" cy="645" rx="30" ry="22" fill="#000" opacity="0.08" filter="url(#e7)"/><ellipse cx="1640" cy="690" rx="40" ry="30" fill="#000" opacity="0.08" filter="url(#e7)"/><path d="M1598.0,830.0 C1598.5,811.7 1598.0,783.7 1603.0,765.0 C1608.0,746.3 1617.2,729.7 1628.0,718.0 C1638.8,706.3 1652.7,699.8 1668.0,695.0 C1683.3,690.2 1699.7,688.2 1720.0,689.0 C1740.3,689.8 1769.2,691.5 1790.0,700.0 C1810.8,708.5 1832.0,724.2 1845.0,740.0 C1858.0,755.8 1866.3,775.0 1868.0,795.0 C1869.7,815.0 1863.8,840.5 1855.0,860.0 C1846.2,879.5 1828.3,898.8 1815.0,912.0 C1801.7,925.2 1788.8,931.0 1775.0,939.0 C1761.2,947.0 1746.2,955.5 1732.0,960.0 C1717.8,964.5 1703.7,966.5 1690.0,966.0 C1676.3,965.5 1662.0,964.7 1650.0,957.0 C1638.0,949.3 1626.3,933.7 1618.0,920.0 C1609.7,906.3 1603.3,890.0 1600.0,875.0 C1596.7,860.0 1597.5,848.3 1598.0,830.0Z" fill="none" stroke="#555" stroke-width="2.6" opacity="0.7" filter="url(#e05)" stroke-linecap="round"/><path d="M1868.0,795.0 C1865.8,805.8 1863.8,840.5 1855.0,860.0 C1846.2,879.5 1828.3,898.8 1815.0,912.0 C1801.7,925.2 1788.8,931.0 1775.0,939.0 C1761.2,947.0 1746.2,955.5 1732.0,960.0 C1717.8,964.5 1703.7,966.5 1690.0,966.0 C1676.3,965.5 1662.0,964.7 1650.0,957.0 C1638.0,949.3 1626.3,933.7 1618.0,920.0 C1609.7,906.3 1603.3,890.0 1600.0,875.0 C1596.7,860.0 1598.3,837.5 1598.0,830.0" fill="none" stroke="#3c3c3c" stroke-width="3.4" opacity="0.9" filter="url(#e05)" stroke-linecap="round"/><path d="M1596.0,790.0 C1596.0,803.3 1593.3,850.0 1596.0,870.0 C1598.7,890.0 1605.3,896.7 1612.0,910.0 C1618.7,923.3 1626.7,940.3 1636.0,950.0 C1645.3,959.7 1654.0,964.5 1668.0,968.0 C1682.0,971.5 1711.3,970.5 1720.0,971.0" fill="none" stroke="#555" stroke-width="2.5" opacity="0.8" filter="url(#e05)" stroke-linecap="round"/><path d="M1700.0,684.0 C1693.7,685.3 1676.2,686.7 1662.0,692.0 C1647.8,697.3 1627.5,705.5 1615.0,716.0 C1602.5,726.5 1591.5,741.0 1587.0,755.0 C1582.5,769.0 1586.2,785.3 1588.0,800.0 C1589.8,814.7 1595.3,829.3 1598.0,843.0 C1600.7,856.7 1603.0,875.5 1604.0,882.0" fill="none" stroke="#000" stroke-width="30" opacity="0.38" filter="url(#e7)" stroke-linecap="round"/><path d="M1662.0,692.0 C1654.2,696.0 1627.5,705.5 1615.0,716.0 C1602.5,726.5 1591.5,741.0 1587.0,755.0 C1582.5,769.0 1586.2,785.3 1588.0,800.0 C1589.8,814.7 1595.3,829.3 1598.0,843.0 C1600.7,856.7 1603.0,875.5 1604.0,882.0" fill="none" stroke="#000" stroke-width="16" opacity="0.55" filter="url(#e4)" stroke-linecap="round"/><ellipse cx="1601" cy="843" rx="14" ry="24" fill="#000" opacity="0.75" filter="url(#e4)"/><ellipse cx="1606" cy="845" rx="24" ry="34" fill="#000" opacity="0.22" filter="url(#e7)"/><ellipse cx="1590" cy="775" rx="10" ry="22" fill="#000" opacity="0.5" filter="url(#e4)"/><path d="M1668.0,695.0 C1676.7,694.0 1699.7,688.2 1720.0,689.0 C1740.3,689.8 1778.3,698.2 1790.0,700.0" fill="none" stroke="#000" stroke-width="8" opacity="0.25" filter="url(#e4)" stroke-linecap="round"/><circle cx="1600.4" cy="883.6" r="1.3" fill="#000" opacity="0.46"/><circle cx="1602.1" cy="727.4" r="2.2" fill="#000" opacity="0.44"/><circle cx="1614.7" cy="862.0" r="2.1" fill="#000" opacity="0.59"/><circle cx="1591.6" cy="734.4" r="1.4" fill="#000" opacity="0.46"/><circle cx="1584.2" cy="813.3" r="1.4" fill="#000" opacity="0.42"/><circle cx="1588.0" cy="745.5" r="1.6" fill="#000" opacity="0.33"/><circle cx="1589.0" cy="747.6" r="1.9" fill="#000" opacity="0.34"/><circle cx="1610.1" cy="856.7" r="1.8" fill="#000" opacity="0.33"/><circle cx="1587.7" cy="813.4" r="1.8" fill="#000" opacity="0.38"/><circle cx="1653.7" cy="687.3" r="2.3" fill="#000" opacity="0.38"/><circle cx="1587.8" cy="816.2" r="1.8" fill="#000" opacity="0.54"/><circle cx="1631.3" cy="714.7" r="2.4" fill="#000" opacity="0.40"/><circle cx="1597.6" cy="751.8" r="1.7" fill="#000" opacity="0.36"/><circle cx="1606.0" cy="837.8" r="2.3" fill="#000" opacity="0.57"/><circle cx="1654.1" cy="694.6" r="1.9" fill="#000" opacity="0.33"/><circle cx="1576.4" cy="773.3" r="1.8" fill="#000" opacity="0.50"/><circle cx="1677.7" cy="673.0" r="1.8" fill="#000" opacity="0.37"/><circle cx="1595.0" cy="813.0" r="1.3" fill="#000" opacity="0.33"/><circle cx="1682.2" cy="674.1" r="1.3" fill="#000" opacity="0.48"/><circle cx="1589.1" cy="745.7" r="2.3" fill="#000" opacity="0.46"/><circle cx="1680.2" cy="698.7" r="1.6" fill="#000" opacity="0.51"/><circle cx="1586.0" cy="767.6" r="1.4" fill="#000" opacity="0.35"/><circle cx="1621.8" cy="714.6" r="2.2" fill="#000" opacity="0.54"/><circle cx="1589.4" cy="795.8" r="1.8" fill="#000" opacity="0.56"/><circle cx="1610.9" cy="714.9" r="1.6" fill="#000" opacity="0.51"/><circle cx="1586.0" cy="781.1" r="1.8" fill="#000" opacity="0.29"/><circle cx="1605.9" cy="867.7" r="1.6" fill="#000" opacity="0.47"/><circle cx="1605.3" cy="829.3" r="1.3" fill="#000" opacity="0.58"/><circle cx="1633.2" cy="679.0" r="1.8" fill="#000" opacity="0.54"/><circle cx="1614.7" cy="888.1" r="1.7" fill="#000" opacity="0.51"/><circle cx="1598.6" cy="725.5" r="1.7" fill="#000" opacity="0.52"/><circle cx="1678.2" cy="694.6" r="1.6" fill="#000" opacity="0.48"/><circle cx="1594.9" cy="829.2" r="1.7" fill="#000" opacity="0.36"/><circle cx="1606.8" cy="733.5" r="2.1" fill="#000" opacity="0.56"/><circle cx="1589.7" cy="764.1" r="2.0" fill="#000" opacity="0.28"/><circle cx="1583.8" cy="781.0" r="2.4" fill="#000" opacity="0.42"/><circle cx="1605.4" cy="879.3" r="1.4" fill="#000" opacity="0.54"/><circle cx="1626.4" cy="710.0" r="1.2" fill="#000" opacity="0.51"/><circle cx="1606.8" cy="829.8" r="1.5" fill="#000" opacity="0.56"/><circle cx="1657.8" cy="693.2" r="1.8" fill="#000" opacity="0.48"/><circle cx="1590.5" cy="847.0" r="1.5" fill="#000" opacity="0.57"/><circle cx="1579.1" cy="762.5" r="2.1" fill="#000" opacity="0.58"/><circle cx="1656.4" cy="686.0" r="2.2" fill="#000" opacity="0.33"/><circle cx="1593.9" cy="755.5" r="1.6" fill="#000" opacity="0.42"/><circle cx="1611.5" cy="834.3" r="1.8" fill="#000" opacity="0.58"/><circle cx="1610.9" cy="846.9" r="1.6" fill="#000" opacity="0.44"/><circle cx="1595.1" cy="868.1" r="1.5" fill="#000" opacity="0.34"/><circle cx="1592.2" cy="776.7" r="1.6" fill="#000" opacity="0.54"/><circle cx="1634.7" cy="715.1" r="1.2" fill="#000" opacity="0.31"/><circle cx="1604.6" cy="838.5" r="2.4" fill="#000" opacity="0.40"/><circle cx="1589.4" cy="804.4" r="2.3" fill="#000" opacity="0.26"/><circle cx="1614.4" cy="735.6" r="2.1" fill="#000" opacity="0.25"/><circle cx="1672.1" cy="694.4" r="2.1" fill="#000" opacity="0.51"/><circle cx="1597.7" cy="870.6" r="1.4" fill="#000" opacity="0.56"/><circle cx="1592.3" cy="883.5" r="2.3" fill="#000" opacity="0.45"/><circle cx="1588.9" cy="843.5" r="2.1" fill="#000" opacity="0.47"/><circle cx="1603.5" cy="858.5" r="1.3" fill="#000" opacity="0.36"/><circle cx="1657.5" cy="699.9" r="2.1" fill="#000" opacity="0.57"/><circle cx="1605.3" cy="821.9" r="2.1" fill="#000" opacity="0.58"/><circle cx="1603.7" cy="747.6" r="1.5" fill="#000" opacity="0.28"/><circle cx="1589.2" cy="748.2" r="1.4" fill="#000" opacity="0.59"/><circle cx="1586.2" cy="739.2" r="1.7" fill="#000" opacity="0.59"/><circle cx="1595.1" cy="743.7" r="1.2" fill="#000" opacity="0.49"/><circle cx="1668.0" cy="677.3" r="1.6" fill="#000" opacity="0.50"/><circle cx="1619.2" cy="702.1" r="1.8" fill="#000" opacity="0.36"/><circle cx="1590.9" cy="833.0" r="2.1" fill="#000" opacity="0.43"/><circle cx="1673.5" cy="693.0" r="1.4" fill="#000" opacity="0.57"/><circle cx="1690.7" cy="697.0" r="1.5" fill="#000" opacity="0.31"/><circle cx="1593.5" cy="739.5" r="1.8" fill="#000" opacity="0.28"/><circle cx="1636.0" cy="714.7" r="1.4" fill="#000" opacity="0.48"/><circle cx="1683.0" cy="692.6" r="1.8" fill="#000" opacity="0.51"/><circle cx="1615.2" cy="717.7" r="2.1" fill="#000" opacity="0.46"/><circle cx="1588.1" cy="802.5" r="2.4" fill="#000" opacity="0.41"/><circle cx="1597.4" cy="863.8" r="1.9" fill="#000" opacity="0.45"/><circle cx="1589.7" cy="889.6" r="2.0" fill="#000" opacity="0.31"/><circle cx="1572.5" cy="861.3" r="2.0" fill="#000" opacity="0.33"/><circle cx="1582.6" cy="861.9" r="1.9" fill="#000" opacity="0.42"/><circle cx="1684.3" cy="686.1" r="1.3" fill="#000" opacity="0.57"/><circle cx="1622.4" cy="703.5" r="2.2" fill="#000" opacity="0.55"/><circle cx="1600.5" cy="817.5" r="1.9" fill="#000" opacity="0.51"/><circle cx="1630.3" cy="699.2" r="1.8" fill="#000" opacity="0.48"/><circle cx="1693.9" cy="678.2" r="1.6" fill="#000" opacity="0.57"/><circle cx="1607.4" cy="879.3" r="1.4" fill="#000" opacity="0.48"/><circle cx="1605.3" cy="875.3" r="1.6" fill="#000" opacity="0.50"/><circle cx="1602.3" cy="824.2" r="1.6" fill="#000" opacity="0.59"/><circle cx="1593.9" cy="838.3" r="1.7" fill="#000" opacity="0.53"/><circle cx="1640.1" cy="695.1" r="2.2" fill="#000" opacity="0.47"/><circle cx="1662.3" cy="696.6" r="1.7" fill="#000" opacity="0.27"/><circle cx="1628.7" cy="712.8" r="1.7" fill="#000" opacity="0.34"/><circle cx="1582.2" cy="835.0" r="1.9" fill="#000" opacity="0.43"/><circle cx="1590.6" cy="844.8" r="1.7" fill="#000" opacity="0.49"/><circle cx="1589.2" cy="856.3" r="2.3" fill="#000" opacity="0.38"/><circle cx="1691.2" cy="672.7" r="1.4" fill="#000" opacity="0.31"/><circle cx="1611.6" cy="710.3" r="2.0" fill="#000" opacity="0.46"/><circle cx="1596.9" cy="789.8" r="1.3" fill="#000" opacity="0.60"/><circle cx="1665.6" cy="690.2" r="2.1" fill="#000" opacity="0.44"/><circle cx="1593.2" cy="776.2" r="2.0" fill="#000" opacity="0.47"/><circle cx="1621.7" cy="708.9" r="1.6" fill="#000" opacity="0.41"/><circle cx="1638.3" cy="694.4" r="1.6" fill="#000" opacity="0.58"/><circle cx="1667.1" cy="697.6" r="1.4" fill="#000" opacity="0.53"/><circle cx="1589.1" cy="777.3" r="1.6" fill="#000" opacity="0.29"/><circle cx="1672.0" cy="687.8" r="1.3" fill="#000" opacity="0.32"/><circle cx="1586.2" cy="750.2" r="2.0" fill="#000" opacity="0.28"/><circle cx="1610.7" cy="740.8" r="1.7" fill="#000" opacity="0.32"/><circle cx="1597.7" cy="823.2" r="2.1" fill="#000" opacity="0.57"/><circle cx="1611.7" cy="852.9" r="2.0" fill="#000" opacity="0.38"/><circle cx="1681.8" cy="682.9" r="1.4" fill="#000" opacity="0.48"/><circle cx="1606.1" cy="816.1" r="2.2" fill="#000" opacity="0.55"/><circle cx="1698.0" cy="679.6" r="1.9" fill="#000" opacity="0.40"/><circle cx="1597.9" cy="830.6" r="1.8" fill="#000" opacity="0.45"/><circle cx="1575.1" cy="797.7" r="1.5" fill="#000" opacity="0.31"/><circle cx="1707.9" cy="659.0" r="2.0" fill="#000" opacity="0.36"/><circle cx="1611.1" cy="725.1" r="1.7" fill="#000" opacity="0.52"/><circle cx="1625.6" cy="709.2" r="2.3" fill="#000" opacity="0.60"/><circle cx="1649.0" cy="678.3" r="2.0" fill="#000" opacity="0.29"/><circle cx="1650.5" cy="684.4" r="1.8" fill="#000" opacity="0.37"/><circle cx="1601.0" cy="873.5" r="2.4" fill="#000" opacity="0.47"/><circle cx="1669.1" cy="706.6" r="2.4" fill="#000" opacity="0.26"/><circle cx="1597.8" cy="782.8" r="1.2" fill="#000" opacity="0.51"/><circle cx="1588.3" cy="784.4" r="2.0" fill="#000" opacity="0.54"/><circle cx="1695.5" cy="677.7" r="1.8" fill="#000" opacity="0.46"/><circle cx="1600.0" cy="734.2" r="1.4" fill="#000" opacity="0.30"/><circle cx="1698.7" cy="683.9" r="1.6" fill="#000" opacity="0.50"/><circle cx="1619.3" cy="728.2" r="1.6" fill="#000" opacity="0.27"/><circle cx="1596.7" cy="815.2" r="2.3" fill="#000" opacity="0.44"/><circle cx="1662.1" cy="689.7" r="2.0" fill="#000" opacity="0.50"/><circle cx="1690.9" cy="689.7" r="1.7" fill="#000" opacity="0.54"/><circle cx="1700.6" cy="678.4" r="2.0" fill="#000" opacity="0.31"/><circle cx="1587.9" cy="774.8" r="2.1" fill="#000" opacity="0.46"/><circle cx="1583.1" cy="773.8" r="2.0" fill="#000" opacity="0.30"/><circle cx="1584.7" cy="742.8" r="1.5" fill="#000" opacity="0.50"/><circle cx="1574.7" cy="791.0" r="1.7" fill="#000" opacity="0.42"/><circle cx="1601.2" cy="743.6" r="2.2" fill="#000" opacity="0.25"/><circle cx="1602.8" cy="721.8" r="1.6" fill="#000" opacity="0.31"/><circle cx="1594.2" cy="841.4" r="1.6" fill="#000" opacity="0.32"/><circle cx="1590.8" cy="771.2" r="1.7" fill="#000" opacity="0.50"/><circle cx="1674.9" cy="675.8" r="1.6" fill="#000" opacity="0.44"/><circle cx="1699.9" cy="678.5" r="1.8" fill="#000" opacity="0.56"/><circle cx="1580.1" cy="804.2" r="1.3" fill="#000" opacity="0.55"/><circle cx="1595.8" cy="808.7" r="1.6" fill="#000" opacity="0.53"/><circle cx="1601.8" cy="728.7" r="2.0" fill="#000" opacity="0.40"/><circle cx="1707.0" cy="678.1" r="1.2" fill="#000" opacity="0.32"/><circle cx="1597.5" cy="868.6" r="1.6" fill="#000" opacity="0.40"/><circle cx="1612.5" cy="720.9" r="1.5" fill="#000" opacity="0.28"/><circle cx="1597.1" cy="788.0" r="1.4" fill="#000" opacity="0.44"/><circle cx="1682.8" cy="697.6" r="2.4" fill="#000" opacity="0.33"/><circle cx="1593.2" cy="788.9" r="1.6" fill="#000" opacity="0.46"/><circle cx="1591.5" cy="857.5" r="2.3" fill="#000" opacity="0.35"/><circle cx="1674.7" cy="697.6" r="2.3" fill="#000" opacity="0.42"/><circle cx="1653.1" cy="701.6" r="1.4" fill="#000" opacity="0.46"/><circle cx="1584.3" cy="798.1" r="2.4" fill="#000" opacity="0.53"/><circle cx="1596.2" cy="811.4" r="1.6" fill="#000" opacity="0.53"/><circle cx="1592.3" cy="710.0" r="1.4" fill="#000" opacity="0.43"/><circle cx="1599.0" cy="833.8" r="2.1" fill="#000" opacity="0.34"/><circle cx="1589.7" cy="766.8" r="1.4" fill="#000" opacity="0.55"/><circle cx="1665.6" cy="697.6" r="2.4" fill="#000" opacity="0.51"/><circle cx="1586.1" cy="747.8" r="1.9" fill="#000" opacity="0.51"/><circle cx="1596.2" cy="815.0" r="2.4" fill="#000" opacity="0.57"/><circle cx="1604.3" cy="720.4" r="1.6" fill="#000" opacity="0.60"/><circle cx="1684.8" cy="704.5" r="2.2" fill="#000" opacity="0.58"/><circle cx="1672.5" cy="682.8" r="1.8" fill="#000" opacity="0.35"/><circle cx="1584.1" cy="845.7" r="1.6" fill="#000" opacity="0.41"/><circle cx="1607.6" cy="885.7" r="1.3" fill="#000" opacity="0.59"/><circle cx="1580.4" cy="785.6" r="2.1" fill="#000" opacity="0.59"/><circle cx="1596.0" cy="810.6" r="2.2" fill="#000" opacity="0.52"/><circle cx="1586.1" cy="763.7" r="1.8" fill="#000" opacity="0.54"/><circle cx="1676.5" cy="669.8" r="2.1" fill="#000" opacity="0.39"/><circle cx="1603.4" cy="856.5" r="1.6" fill="#000" opacity="0.34"/><circle cx="1583.5" cy="776.0" r="1.6" fill="#000" opacity="0.30"/><circle cx="1596.5" cy="857.9" r="1.3" fill="#000" opacity="0.43"/><circle cx="1653.4" cy="690.4" r="1.8" fill="#000" opacity="0.43"/><circle cx="1612.0" cy="722.2" r="2.0" fill="#000" opacity="0.60"/><circle cx="1579.2" cy="783.3" r="1.2" fill="#000" opacity="0.28"/><circle cx="1594.6" cy="851.0" r="1.4" fill="#000" opacity="0.48"/><circle cx="1592.9" cy="839.0" r="1.3" fill="#000" opacity="0.29"/><circle cx="1683.9" cy="683.4" r="2.1" fill="#000" opacity="0.55"/><circle cx="1595.1" cy="821.4" r="2.0" fill="#000" opacity="0.31"/><circle cx="1629.0" cy="696.7" r="1.7" fill="#000" opacity="0.33"/><circle cx="1601.9" cy="829.3" r="1.9" fill="#000" opacity="0.32"/><circle cx="1593.5" cy="858.4" r="2.0" fill="#000" opacity="0.31"/><circle cx="1706.3" cy="684.2" r="1.4" fill="#000" opacity="0.53"/><circle cx="1638.7" cy="684.9" r="1.4" fill="#000" opacity="0.47"/><circle cx="1586.6" cy="808.6" r="1.9" fill="#000" opacity="0.45"/><circle cx="1587.3" cy="772.1" r="2.2" fill="#000" opacity="0.29"/><circle cx="1615.5" cy="697.4" r="1.7" fill="#000" opacity="0.58"/><circle cx="1582.9" cy="812.6" r="1.4" fill="#000" opacity="0.52"/><circle cx="1591.6" cy="775.0" r="2.1" fill="#000" opacity="0.30"/><circle cx="1608.6" cy="864.6" r="1.2" fill="#000" opacity="0.38"/><circle cx="1661.4" cy="682.9" r="1.7" fill="#000" opacity="0.48"/><circle cx="1601.8" cy="816.8" r="2.2" fill="#000" opacity="0.60"/><circle cx="1711.3" cy="693.4" r="2.2" fill="#000" opacity="0.33"/><circle cx="1605.0" cy="837.6" r="1.3" fill="#000" opacity="0.51"/><circle cx="1689.8" cy="679.7" r="2.1" fill="#000" opacity="0.36"/><circle cx="1592.4" cy="760.7" r="1.7" fill="#000" opacity="0.49"/><circle cx="1581.7" cy="800.5" r="2.3" fill="#000" opacity="0.48"/><circle cx="1692.1" cy="683.8" r="2.0" fill="#000" opacity="0.55"/><circle cx="1622.2" cy="725.9" r="1.5" fill="#000" opacity="0.38"/><circle cx="1596.4" cy="751.2" r="1.5" fill="#000" opacity="0.31"/><circle cx="1591.0" cy="851.1" r="1.7" fill="#000" opacity="0.45"/><circle cx="1603.3" cy="852.5" r="1.5" fill="#000" opacity="0.45"/><circle cx="1619.9" cy="728.4" r="1.6" fill="#000" opacity="0.46"/><circle cx="1654.1" cy="687.6" r="1.7" fill="#000" opacity="0.30"/><circle cx="1594.7" cy="758.7" r="2.1" fill="#000" opacity="0.33"/><circle cx="1598.7" cy="864.8" r="2.0" fill="#000" opacity="0.56"/><circle cx="1707.4" cy="691.2" r="2.0" fill="#000" opacity="0.46"/><circle cx="1696.7" cy="693.2" r="1.7" fill="#000" opacity="0.35"/><circle cx="1593.7" cy="739.9" r="1.6" fill="#000" opacity="0.39"/><circle cx="1591.4" cy="782.2" r="2.2" fill="#000" opacity="0.51"/><circle cx="1583.5" cy="824.8" r="1.8" fill="#000" opacity="0.30"/><circle cx="1573.1" cy="797.0" r="1.5" fill="#000" opacity="0.50"/><circle cx="1586.7" cy="767.4" r="2.4" fill="#000" opacity="0.45"/><circle cx="1591.9" cy="767.6" r="1.5" fill="#000" opacity="0.53"/><circle cx="1673.7" cy="680.2" r="2.4" fill="#000" opacity="0.41"/><circle cx="1662.4" cy="713.1" r="1.8" fill="#000" opacity="0.53"/><circle cx="1641.5" cy="705.4" r="2.3" fill="#000" opacity="0.41"/><circle cx="1595.5" cy="767.9" r="1.7" fill="#000" opacity="0.34"/><circle cx="1575.0" cy="783.1" r="1.4" fill="#000" opacity="0.49"/><circle cx="1611.3" cy="851.0" r="1.8" fill="#000" opacity="0.47"/><circle cx="1672.6" cy="670.4" r="2.2" fill="#000" opacity="0.48"/><circle cx="1592.9" cy="855.5" r="1.4" fill="#000" opacity="0.51"/><circle cx="1602.3" cy="876.2" r="1.8" fill="#000" opacity="0.57"/><circle cx="1582.4" cy="796.3" r="2.0" fill="#000" opacity="0.36"/><circle cx="1664.6" cy="687.1" r="1.3" fill="#000" opacity="0.27"/><circle cx="1586.2" cy="803.5" r="1.3" fill="#000" opacity="0.26"/><circle cx="1611.5" cy="728.9" r="1.9" fill="#000" opacity="0.37"/><circle cx="1670.9" cy="706.5" r="1.8" fill="#000" opacity="0.34"/><circle cx="1631.5" cy="709.9" r="2.0" fill="#000" opacity="0.45"/><circle cx="1581.6" cy="810.7" r="1.8" fill="#000" opacity="0.42"/><circle cx="1596.1" cy="821.1" r="1.6" fill="#000" opacity="0.49"/><circle cx="1711.8" cy="689.6" r="1.4" fill="#000" opacity="0.52"/><circle cx="1600.5" cy="823.3" r="2.1" fill="#000" opacity="0.28"/><circle cx="1707.4" cy="689.2" r="1.8" fill="#000" opacity="0.32"/><circle cx="1634.3" cy="698.2" r="1.8" fill="#000" opacity="0.36"/><circle cx="1679.3" cy="664.2" r="1.4" fill="#000" opacity="0.47"/><circle cx="1586.7" cy="765.6" r="2.0" fill="#000" opacity="0.44"/><circle cx="1594.4" cy="785.4" r="2.3" fill="#000" opacity="0.44"/><circle cx="1625.4" cy="701.7" r="1.7" fill="#000" opacity="0.33"/><circle cx="1607.0" cy="734.1" r="2.0" fill="#000" opacity="0.28"/><circle cx="1668.2" cy="683.2" r="2.2" fill="#000" opacity="0.47"/><circle cx="1585.8" cy="790.1" r="2.3" fill="#000" opacity="0.56"/><circle cx="1610.2" cy="740.7" r="1.5" fill="#000" opacity="0.35"/><circle cx="1686.1" cy="666.2" r="2.1" fill="#000" opacity="0.45"/><circle cx="1648.0" cy="692.9" r="1.4" fill="#000" opacity="0.54"/><circle cx="1661.1" cy="683.7" r="2.1" fill="#000" opacity="0.55"/><circle cx="1626.1" cy="729.6" r="1.7" fill="#000" opacity="0.43"/><circle cx="1575.8" cy="846.3" r="1.3" fill="#000" opacity="0.53"/><circle cx="1641.8" cy="708.4" r="1.7" fill="#000" opacity="0.55"/><circle cx="1602.1" cy="726.5" r="1.9" fill="#000" opacity="0.58"/><circle cx="1613.6" cy="727.5" r="1.8" fill="#000" opacity="0.38"/><circle cx="1593.9" cy="736.6" r="1.5" fill="#000" opacity="0.37"/><circle cx="1577.2" cy="769.8" r="1.3" fill="#000" opacity="0.59"/><circle cx="1634.1" cy="697.0" r="1.2" fill="#000" opacity="0.50"/><circle cx="1602.0" cy="855.5" r="1.4" fill="#000" opacity="0.59"/><circle cx="1711.1" cy="678.4" r="2.3" fill="#000" opacity="0.27"/><circle cx="1612.1" cy="857.5" r="1.6" fill="#000" opacity="0.33"/><circle cx="1669.1" cy="678.7" r="1.3" fill="#000" opacity="0.29"/><circle cx="1624.0" cy="730.5" r="2.0" fill="#000" opacity="0.53"/><circle cx="1663.1" cy="683.9" r="1.6" fill="#000" opacity="0.29"/><circle cx="1687.0" cy="690.8" r="1.3" fill="#000" opacity="0.29"/><circle cx="1568.7" cy="798.5" r="2.2" fill="#000" opacity="0.38"/><circle cx="1822.4" cy="807.4" r="2.2" fill="#000" opacity="0.34"/><circle cx="1869.4" cy="831.6" r="2.0" fill="#000" opacity="0.33"/><circle cx="1827.5" cy="830.5" r="1.0" fill="#000" opacity="0.49"/><circle cx="1865.7" cy="794.1" r="2.1" fill="#000" opacity="0.48"/><circle cx="1826.9" cy="825.9" r="1.9" fill="#000" opacity="0.48"/><circle cx="1833.5" cy="818.6" r="2.2" fill="#000" opacity="0.32"/><circle cx="1842.0" cy="818.8" r="1.3" fill="#000" opacity="0.21"/><circle cx="1827.8" cy="855.4" r="1.7" fill="#000" opacity="0.21"/><circle cx="1830.4" cy="854.8" r="2.0" fill="#000" opacity="0.33"/><circle cx="1845.3" cy="869.4" r="1.0" fill="#000" opacity="0.34"/><circle cx="1869.7" cy="835.1" r="1.3" fill="#000" opacity="0.20"/><circle cx="1856.8" cy="820.4" r="1.7" fill="#000" opacity="0.25"/><circle cx="1841.2" cy="846.3" r="1.2" fill="#000" opacity="0.32"/><circle cx="1844.4" cy="833.5" r="1.5" fill="#000" opacity="0.47"/><circle cx="1830.8" cy="833.5" r="1.4" fill="#000" opacity="0.23"/><circle cx="1834.1" cy="843.0" r="1.0" fill="#000" opacity="0.27"/><circle cx="1855.9" cy="827.6" r="1.8" fill="#000" opacity="0.35"/><circle cx="1844.1" cy="784.6" r="1.0" fill="#000" opacity="0.48"/><circle cx="1845.9" cy="845.5" r="1.0" fill="#000" opacity="0.37"/><circle cx="1849.6" cy="841.5" r="1.9" fill="#000" opacity="0.45"/><circle cx="1855.3" cy="864.5" r="1.2" fill="#000" opacity="0.48"/><circle cx="1835.5" cy="831.3" r="1.5" fill="#000" opacity="0.41"/><circle cx="1847.0" cy="827.1" r="1.1" fill="#000" opacity="0.32"/><circle cx="1851.8" cy="835.8" r="1.3" fill="#000" opacity="0.30"/><circle cx="1835.1" cy="826.5" r="1.1" fill="#000" opacity="0.39"/><circle cx="1866.2" cy="812.1" r="2.0" fill="#000" opacity="0.45"/><circle cx="1844.7" cy="809.7" r="1.6" fill="#000" opacity="0.21"/><circle cx="1849.2" cy="796.4" r="1.3" fill="#000" opacity="0.30"/><circle cx="1880.0" cy="845.2" r="1.4" fill="#000" opacity="0.47"/><circle cx="1858.3" cy="828.7" r="1.8" fill="#000" opacity="0.35"/><circle cx="1855.7" cy="842.7" r="1.6" fill="#000" opacity="0.25"/><circle cx="1818.2" cy="857.9" r="1.7" fill="#000" opacity="0.41"/><circle cx="1870.8" cy="810.6" r="1.6" fill="#000" opacity="0.47"/><circle cx="1867.1" cy="825.8" r="2.0" fill="#000" opacity="0.45"/><circle cx="1855.7" cy="834.5" r="1.7" fill="#000" opacity="0.26"/><circle cx="1843.9" cy="829.0" r="1.7" fill="#000" opacity="0.47"/><circle cx="1858.5" cy="832.2" r="1.3" fill="#000" opacity="0.22"/><circle cx="1872.6" cy="866.7" r="1.0" fill="#000" opacity="0.30"/><circle cx="1853.1" cy="800.0" r="1.3" fill="#000" opacity="0.39"/><circle cx="1851.4" cy="865.8" r="1.6" fill="#000" opacity="0.40"/><circle cx="1843.2" cy="854.2" r="1.4" fill="#000" opacity="0.44"/><circle cx="1837.3" cy="827.8" r="1.7" fill="#000" opacity="0.26"/><circle cx="1874.6" cy="807.3" r="2.1" fill="#000" opacity="0.40"/><circle cx="1864.5" cy="839.7" r="2.0" fill="#000" opacity="0.33"/><circle cx="1853.4" cy="821.5" r="1.6" fill="#000" opacity="0.49"/><circle cx="1851.5" cy="830.5" r="1.9" fill="#000" opacity="0.28"/><circle cx="1840.8" cy="824.1" r="2.1" fill="#000" opacity="0.45"/><circle cx="1865.2" cy="806.0" r="1.3" fill="#000" opacity="0.48"/><circle cx="1821.9" cy="795.5" r="1.0" fill="#000" opacity="0.37"/><circle cx="1850.9" cy="852.4" r="2.1" fill="#000" opacity="0.20"/><circle cx="1845.9" cy="863.1" r="2.1" fill="#000" opacity="0.34"/><circle cx="1881.0" cy="825.7" r="1.8" fill="#000" opacity="0.23"/><circle cx="1838.1" cy="842.3" r="2.0" fill="#000" opacity="0.32"/><circle cx="1855.1" cy="836.4" r="1.0" fill="#000" opacity="0.23"/><circle cx="1847.3" cy="880.5" r="1.1" fill="#000" opacity="0.23"/><circle cx="1853.6" cy="818.3" r="1.4" fill="#000" opacity="0.45"/><circle cx="1830.9" cy="825.6" r="1.1" fill="#000" opacity="0.47"/><circle cx="1834.2" cy="856.2" r="1.2" fill="#000" opacity="0.23"/><circle cx="1872.6" cy="792.2" r="1.8" fill="#000" opacity="0.34"/><circle cx="1840.5" cy="837.2" r="1.3" fill="#000" opacity="0.28"/><circle cx="1875.5" cy="842.7" r="1.4" fill="#000" opacity="0.29"/><circle cx="1823.6" cy="869.6" r="1.1" fill="#000" opacity="0.29"/><circle cx="1843.2" cy="822.8" r="1.7" fill="#000" opacity="0.20"/><circle cx="1850.9" cy="830.2" r="1.9" fill="#000" opacity="0.45"/><circle cx="1837.3" cy="817.3" r="1.3" fill="#000" opacity="0.33"/><circle cx="1841.9" cy="835.0" r="1.2" fill="#000" opacity="0.26"/><circle cx="1866.0" cy="829.8" r="2.1" fill="#000" opacity="0.37"/><circle cx="1861.3" cy="845.8" r="1.7" fill="#000" opacity="0.48"/><circle cx="1849.5" cy="835.8" r="1.6" fill="#000" opacity="0.25"/><circle cx="1856.5" cy="863.0" r="1.0" fill="#000" opacity="0.35"/><circle cx="1859.0" cy="831.1" r="1.9" fill="#000" opacity="0.32"/><circle cx="1860.6" cy="822.9" r="2.0" fill="#000" opacity="0.26"/><circle cx="1835.9" cy="825.8" r="1.0" fill="#000" opacity="0.33"/><circle cx="1832.2" cy="843.1" r="1.8" fill="#000" opacity="0.41"/><circle cx="1829.1" cy="825.9" r="1.4" fill="#000" opacity="0.49"/><circle cx="1828.4" cy="828.2" r="2.0" fill="#000" opacity="0.45"/><circle cx="1835.4" cy="878.5" r="1.1" fill="#000" opacity="0.42"/><circle cx="1852.8" cy="845.8" r="1.2" fill="#000" opacity="0.50"/><circle cx="1877.1" cy="800.5" r="1.6" fill="#000" opacity="0.46"/><circle cx="1854.6" cy="832.0" r="2.1" fill="#000" opacity="0.47"/><circle cx="1869.9" cy="821.6" r="1.7" fill="#000" opacity="0.39"/><circle cx="1842.1" cy="791.0" r="1.9" fill="#000" opacity="0.22"/><circle cx="1846.4" cy="854.1" r="1.5" fill="#000" opacity="0.34"/><circle cx="1851.2" cy="825.9" r="1.3" fill="#000" opacity="0.47"/><circle cx="1853.6" cy="817.7" r="1.8" fill="#000" opacity="0.48"/><circle cx="1828.4" cy="846.4" r="1.0" fill="#000" opacity="0.23"/><circle cx="1851.4" cy="838.5" r="1.6" fill="#000" opacity="0.33"/><circle cx="1853.6" cy="865.1" r="2.2" fill="#000" opacity="0.50"/><circle cx="1847.5" cy="812.4" r="1.6" fill="#000" opacity="0.24"/><circle cx="1849.4" cy="843.5" r="1.2" fill="#000" opacity="0.44"/><circle cx="1835.3" cy="827.5" r="2.2" fill="#000" opacity="0.49"/><circle cx="1823.9" cy="854.6" r="1.3" fill="#000" opacity="0.37"/><circle cx="1877.8" cy="843.1" r="1.4" fill="#000" opacity="0.21"/><circle cx="1854.3" cy="826.4" r="1.8" fill="#000" opacity="0.33"/><circle cx="1845.3" cy="820.5" r="1.3" fill="#000" opacity="0.44"/><circle cx="1860.0" cy="800.3" r="1.9" fill="#000" opacity="0.47"/><circle cx="1842.0" cy="815.3" r="1.0" fill="#000" opacity="0.39"/><circle cx="1844.5" cy="807.8" r="1.6" fill="#000" opacity="0.45"/><circle cx="1859.4" cy="814.3" r="1.5" fill="#000" opacity="0.28"/><circle cx="1849.1" cy="795.9" r="1.8" fill="#000" opacity="0.31"/><circle cx="1822.2" cy="829.0" r="1.0" fill="#000" opacity="0.29"/><circle cx="1864.7" cy="828.9" r="1.8" fill="#000" opacity="0.48"/><circle cx="1863.9" cy="834.1" r="1.1" fill="#000" opacity="0.34"/><circle cx="1861.5" cy="835.5" r="1.4" fill="#000" opacity="0.45"/><circle cx="1840.8" cy="818.7" r="1.6" fill="#000" opacity="0.43"/><circle cx="1863.0" cy="822.7" r="1.1" fill="#000" opacity="0.44"/><circle cx="1852.7" cy="830.5" r="1.4" fill="#000" opacity="0.40"/><circle cx="1873.8" cy="829.4" r="2.2" fill="#000" opacity="0.28"/><circle cx="1846.2" cy="866.2" r="1.2" fill="#000" opacity="0.39"/><circle cx="1867.9" cy="874.0" r="1.1" fill="#000" opacity="0.49"/><circle cx="1868.0" cy="534.0" r="1.7" fill="#000" opacity="0.31"/><circle cx="1886.7" cy="595.8" r="1.2" fill="#000" opacity="0.45"/><circle cx="1885.2" cy="568.7" r="1.8" fill="#000" opacity="0.47"/><circle cx="1880.8" cy="560.1" r="1.1" fill="#000" opacity="0.24"/><circle cx="1860.7" cy="561.8" r="1.1" fill="#000" opacity="0.46"/><circle cx="1842.2" cy="583.5" r="2.1" fill="#000" opacity="0.36"/><circle cx="1887.1" cy="554.9" r="1.8" fill="#000" opacity="0.23"/><circle cx="1877.2" cy="534.8" r="1.4" fill="#000" opacity="0.30"/><circle cx="1884.3" cy="593.2" r="1.2" fill="#000" opacity="0.32"/><circle cx="1871.0" cy="587.6" r="1.1" fill="#000" opacity="0.34"/><circle cx="1911.0" cy="540.5" r="2.0" fill="#000" opacity="0.27"/><circle cx="1892.7" cy="586.7" r="1.1" fill="#000" opacity="0.33"/><circle cx="1878.3" cy="554.7" r="1.1" fill="#000" opacity="0.26"/><circle cx="1893.0" cy="550.2" r="1.8" fill="#000" opacity="0.29"/><circle cx="1866.6" cy="562.1" r="2.2" fill="#000" opacity="0.28"/><circle cx="1889.9" cy="557.1" r="1.4" fill="#000" opacity="0.41"/><circle cx="1867.8" cy="597.2" r="2.0" fill="#000" opacity="0.20"/><circle cx="1883.4" cy="539.5" r="2.1" fill="#000" opacity="0.45"/><circle cx="1868.5" cy="584.6" r="2.0" fill="#000" opacity="0.44"/><circle cx="1879.3" cy="571.1" r="1.4" fill="#000" opacity="0.31"/><circle cx="1873.6" cy="581.7" r="2.1" fill="#000" opacity="0.36"/><circle cx="1866.5" cy="561.6" r="1.1" fill="#000" opacity="0.35"/><circle cx="1886.2" cy="598.9" r="1.0" fill="#000" opacity="0.45"/><circle cx="1893.1" cy="523.6" r="1.9" fill="#000" opacity="0.46"/><circle cx="1860.8" cy="563.7" r="2.0" fill="#000" opacity="0.24"/><circle cx="1875.0" cy="581.7" r="1.8" fill="#000" opacity="0.35"/><circle cx="1880.2" cy="573.6" r="1.9" fill="#000" opacity="0.38"/><circle cx="1899.2" cy="581.1" r="1.9" fill="#000" opacity="0.26"/><circle cx="1909.1" cy="562.1" r="1.1" fill="#000" opacity="0.50"/><circle cx="1887.9" cy="558.0" r="1.8" fill="#000" opacity="0.44"/><circle cx="1895.7" cy="570.4" r="2.1" fill="#000" opacity="0.33"/><circle cx="1872.1" cy="558.6" r="1.6" fill="#000" opacity="0.38"/><circle cx="1861.2" cy="560.7" r="2.0" fill="#000" opacity="0.34"/><circle cx="1865.3" cy="575.5" r="2.1" fill="#000" opacity="0.23"/><circle cx="1890.1" cy="563.3" r="1.4" fill="#000" opacity="0.33"/><circle cx="1866.3" cy="557.5" r="1.8" fill="#000" opacity="0.46"/><circle cx="1880.7" cy="588.2" r="1.8" fill="#000" opacity="0.27"/><circle cx="1883.6" cy="563.3" r="1.0" fill="#000" opacity="0.28"/><circle cx="1870.0" cy="556.4" r="1.7" fill="#000" opacity="0.49"/><circle cx="1862.1" cy="560.7" r="1.4" fill="#000" opacity="0.36"/><circle cx="1900.8" cy="550.5" r="2.0" fill="#000" opacity="0.42"/><circle cx="1844.8" cy="581.9" r="1.8" fill="#000" opacity="0.43"/><circle cx="1890.9" cy="580.6" r="1.8" fill="#000" opacity="0.37"/><circle cx="1893.5" cy="524.8" r="1.8" fill="#000" opacity="0.47"/><circle cx="1882.6" cy="557.1" r="1.4" fill="#000" opacity="0.42"/><circle cx="1869.1" cy="585.1" r="1.7" fill="#000" opacity="0.47"/><circle cx="1893.0" cy="553.1" r="1.5" fill="#000" opacity="0.30"/><circle cx="1872.8" cy="585.7" r="1.4" fill="#000" opacity="0.49"/><circle cx="1843.3" cy="543.9" r="1.1" fill="#000" opacity="0.43"/><circle cx="1880.9" cy="600.3" r="1.7" fill="#000" opacity="0.38"/><circle cx="1892.2" cy="570.5" r="1.4" fill="#000" opacity="0.21"/><circle cx="1868.8" cy="580.1" r="1.7" fill="#000" opacity="0.29"/><circle cx="1866.2" cy="580.7" r="1.3" fill="#000" opacity="0.49"/><circle cx="1849.6" cy="553.9" r="1.4" fill="#000" opacity="0.29"/><circle cx="1880.2" cy="582.5" r="1.9" fill="#000" opacity="0.40"/><circle cx="1892.2" cy="551.7" r="1.7" fill="#000" opacity="0.27"/><circle cx="1874.9" cy="582.7" r="1.9" fill="#000" opacity="0.28"/><circle cx="1906.4" cy="562.0" r="2.0" fill="#000" opacity="0.40"/><circle cx="1877.1" cy="557.2" r="1.9" fill="#000" opacity="0.47"/><circle cx="1896.6" cy="549.0" r="1.1" fill="#000" opacity="0.37"/><circle cx="1880.8" cy="613.2" r="1.1" fill="#000" opacity="0.45"/><circle cx="1869.4" cy="569.8" r="2.2" fill="#000" opacity="0.20"/><circle cx="1840.2" cy="562.1" r="1.7" fill="#000" opacity="0.39"/><circle cx="1914.2" cy="542.0" r="2.1" fill="#000" opacity="0.49"/><circle cx="1888.1" cy="567.8" r="1.5" fill="#000" opacity="0.30"/><circle cx="1884.1" cy="599.0" r="1.2" fill="#000" opacity="0.46"/><circle cx="1866.0" cy="519.2" r="1.9" fill="#000" opacity="0.38"/><circle cx="1875.1" cy="548.0" r="1.3" fill="#000" opacity="0.30"/><circle cx="1926.7" cy="544.6" r="1.3" fill="#000" opacity="0.38"/><circle cx="1866.3" cy="586.8" r="1.5" fill="#000" opacity="0.49"/><circle cx="1901.6" cy="605.8" r="2.0" fill="#000" opacity="0.37"/><circle cx="1860.2" cy="594.9" r="2.1" fill="#000" opacity="0.23"/><circle cx="1853.4" cy="608.8" r="1.2" fill="#000" opacity="0.21"/><circle cx="1865.5" cy="550.7" r="1.1" fill="#000" opacity="0.23"/><circle cx="1866.5" cy="598.3" r="2.1" fill="#000" opacity="0.25"/><circle cx="1894.7" cy="539.5" r="1.2" fill="#000" opacity="0.21"/><circle cx="1858.9" cy="555.7" r="1.3" fill="#000" opacity="0.34"/><circle cx="1851.0" cy="579.8" r="1.2" fill="#000" opacity="0.38"/><circle cx="1865.0" cy="561.9" r="1.3" fill="#000" opacity="0.37"/><circle cx="1888.7" cy="517.0" r="1.2" fill="#000" opacity="0.45"/><circle cx="1885.9" cy="555.1" r="1.3" fill="#000" opacity="0.46"/><circle cx="1919.7" cy="594.5" r="2.2" fill="#000" opacity="0.29"/><circle cx="1878.6" cy="594.7" r="1.2" fill="#000" opacity="0.32"/><circle cx="1833.2" cy="551.0" r="1.1" fill="#000" opacity="0.44"/><circle cx="1851.9" cy="582.8" r="2.0" fill="#000" opacity="0.37"/><circle cx="1885.9" cy="526.7" r="1.3" fill="#000" opacity="0.22"/><circle cx="1873.9" cy="568.4" r="1.7" fill="#000" opacity="0.30"/><circle cx="1867.2" cy="508.2" r="2.0" fill="#000" opacity="0.27"/><circle cx="1883.0" cy="590.5" r="1.2" fill="#000" opacity="0.24"/><circle cx="1885.5" cy="580.4" r="1.2" fill="#000" opacity="0.48"/><circle cx="1434.5" cy="552.1" r="1.5" fill="#000" opacity="0.27"/><circle cx="1407.8" cy="582.0" r="1.4" fill="#000" opacity="0.27"/><circle cx="1441.7" cy="603.3" r="1.4" fill="#000" opacity="0.37"/><circle cx="1422.3" cy="602.0" r="1.5" fill="#000" opacity="0.31"/><circle cx="1439.0" cy="562.9" r="2.1" fill="#000" opacity="0.40"/><circle cx="1421.0" cy="605.2" r="2.1" fill="#000" opacity="0.43"/><circle cx="1446.1" cy="576.1" r="1.2" fill="#000" opacity="0.39"/><circle cx="1434.0" cy="565.9" r="1.3" fill="#000" opacity="0.38"/><circle cx="1451.1" cy="616.7" r="1.3" fill="#000" opacity="0.30"/><circle cx="1436.4" cy="562.9" r="1.9" fill="#000" opacity="0.23"/><circle cx="1427.2" cy="597.2" r="1.1" fill="#000" opacity="0.39"/><circle cx="1412.8" cy="564.0" r="1.0" fill="#000" opacity="0.41"/><circle cx="1431.1" cy="582.4" r="1.5" fill="#000" opacity="0.28"/><circle cx="1437.7" cy="601.7" r="2.0" fill="#000" opacity="0.48"/><circle cx="1413.5" cy="571.0" r="2.0" fill="#000" opacity="0.32"/><circle cx="1442.0" cy="536.5" r="1.3" fill="#000" opacity="0.43"/><circle cx="1414.4" cy="578.0" r="1.7" fill="#000" opacity="0.36"/><circle cx="1427.7" cy="598.4" r="1.6" fill="#000" opacity="0.40"/><circle cx="1441.7" cy="593.4" r="1.6" fill="#000" opacity="0.44"/><circle cx="1424.5" cy="608.5" r="1.6" fill="#000" opacity="0.40"/><circle cx="1445.6" cy="588.1" r="1.9" fill="#000" opacity="0.34"/><circle cx="1418.5" cy="584.1" r="2.1" fill="#000" opacity="0.37"/><circle cx="1411.9" cy="591.6" r="1.9" fill="#000" opacity="0.32"/><circle cx="1436.0" cy="602.1" r="2.2" fill="#000" opacity="0.23"/><circle cx="1460.7" cy="559.4" r="1.6" fill="#000" opacity="0.40"/><circle cx="1450.0" cy="573.5" r="2.2" fill="#000" opacity="0.25"/><circle cx="1432.2" cy="625.6" r="1.6" fill="#000" opacity="0.23"/><circle cx="1437.8" cy="563.2" r="1.5" fill="#000" opacity="0.32"/><circle cx="1428.1" cy="593.1" r="1.1" fill="#000" opacity="0.42"/><circle cx="1413.4" cy="575.7" r="2.2" fill="#000" opacity="0.29"/><circle cx="1450.0" cy="605.4" r="1.1" fill="#000" opacity="0.24"/><circle cx="1429.9" cy="605.5" r="2.1" fill="#000" opacity="0.36"/><circle cx="1429.8" cy="571.7" r="1.6" fill="#000" opacity="0.35"/><circle cx="1451.8" cy="589.7" r="1.9" fill="#000" opacity="0.28"/><circle cx="1443.6" cy="598.3" r="1.4" fill="#000" opacity="0.46"/><circle cx="1442.9" cy="548.1" r="1.9" fill="#000" opacity="0.22"/><circle cx="1442.0" cy="571.1" r="1.4" fill="#000" opacity="0.39"/><circle cx="1408.8" cy="609.1" r="2.0" fill="#000" opacity="0.43"/><circle cx="1409.8" cy="552.5" r="2.1" fill="#000" opacity="0.39"/><circle cx="1440.2" cy="588.8" r="1.2" fill="#000" opacity="0.47"/><circle cx="1453.6" cy="570.5" r="2.2" fill="#000" opacity="0.44"/><circle cx="1441.8" cy="583.3" r="1.5" fill="#000" opacity="0.28"/><circle cx="1413.1" cy="586.6" r="1.9" fill="#000" opacity="0.50"/><circle cx="1434.6" cy="552.7" r="1.2" fill="#000" opacity="0.35"/><circle cx="1426.2" cy="588.9" r="1.3" fill="#000" opacity="0.40"/><circle cx="1431.9" cy="593.5" r="1.3" fill="#000" opacity="0.39"/><circle cx="1389.8" cy="605.6" r="1.9" fill="#000" opacity="0.28"/><circle cx="1431.0" cy="601.9" r="1.6" fill="#000" opacity="0.32"/><circle cx="1436.4" cy="572.8" r="1.1" fill="#000" opacity="0.22"/><circle cx="1445.4" cy="583.2" r="1.4" fill="#000" opacity="0.24"/><circle cx="1443.5" cy="607.4" r="2.1" fill="#000" opacity="0.44"/><circle cx="1418.5" cy="569.0" r="1.6" fill="#000" opacity="0.25"/><circle cx="1379.1" cy="626.4" r="1.4" fill="#000" opacity="0.49"/><circle cx="1440.7" cy="596.1" r="2.2" fill="#000" opacity="0.34"/><circle cx="1434.5" cy="598.0" r="1.5" fill="#000" opacity="0.31"/><circle cx="1424.8" cy="591.6" r="2.0" fill="#000" opacity="0.44"/><circle cx="1443.2" cy="595.8" r="1.6" fill="#000" opacity="0.36"/><circle cx="1405.4" cy="607.1" r="1.2" fill="#000" opacity="0.43"/><circle cx="1439.5" cy="574.4" r="1.7" fill="#000" opacity="0.41"/><circle cx="1412.1" cy="578.9" r="1.6" fill="#000" opacity="0.30"/><circle cx="1419.0" cy="611.3" r="2.1" fill="#000" opacity="0.40"/><circle cx="1447.1" cy="567.9" r="2.0" fill="#000" opacity="0.20"/><circle cx="1438.1" cy="594.2" r="2.0" fill="#000" opacity="0.25"/><circle cx="1436.2" cy="564.0" r="2.0" fill="#000" opacity="0.23"/><circle cx="1420.5" cy="595.2" r="1.7" fill="#000" opacity="0.30"/><circle cx="1423.1" cy="587.1" r="1.8" fill="#000" opacity="0.22"/><circle cx="1452.0" cy="577.7" r="1.5" fill="#000" opacity="0.32"/><circle cx="1451.1" cy="588.1" r="1.6" fill="#000" opacity="0.44"/><circle cx="1435.4" cy="579.6" r="1.7" fill="#000" opacity="0.34"/><circle cx="1434.9" cy="565.4" r="1.7" fill="#000" opacity="0.31"/><circle cx="1464.4" cy="568.5" r="1.7" fill="#000" opacity="0.40"/><circle cx="1443.3" cy="554.7" r="1.4" fill="#000" opacity="0.39"/><circle cx="1424.7" cy="604.4" r="2.2" fill="#000" opacity="0.47"/><circle cx="1449.2" cy="614.6" r="1.1" fill="#000" opacity="0.39"/><circle cx="1426.6" cy="606.4" r="1.1" fill="#000" opacity="0.36"/><circle cx="1430.2" cy="606.8" r="1.0" fill="#000" opacity="0.43"/><circle cx="1442.6" cy="572.9" r="2.1" fill="#000" opacity="0.43"/><circle cx="1430.6" cy="593.5" r="1.7" fill="#000" opacity="0.39"/><circle cx="1433.2" cy="574.4" r="2.0" fill="#000" opacity="0.46"/><circle cx="1426.2" cy="597.6" r="1.3" fill="#000" opacity="0.38"/><circle cx="1972.0" cy="993.6" r="2.1" fill="#000" opacity="0.45"/><circle cx="1966.5" cy="1007.9" r="1.0" fill="#000" opacity="0.23"/><circle cx="2003.3" cy="1014.1" r="1.5" fill="#000" opacity="0.42"/><circle cx="1980.2" cy="978.1" r="1.1" fill="#000" opacity="0.46"/><circle cx="1975.6" cy="1006.5" r="2.0" fill="#000" opacity="0.27"/><circle cx="1998.7" cy="1036.0" r="1.7" fill="#000" opacity="0.31"/><circle cx="1989.0" cy="998.3" r="1.1" fill="#000" opacity="0.27"/><circle cx="1983.7" cy="1027.9" r="2.1" fill="#000" opacity="0.44"/><circle cx="1988.0" cy="1007.7" r="1.9" fill="#000" opacity="0.47"/><circle cx="1967.6" cy="959.2" r="2.0" fill="#000" opacity="0.37"/><circle cx="1985.7" cy="979.9" r="2.0" fill="#000" opacity="0.33"/><circle cx="1988.7" cy="1024.7" r="1.9" fill="#000" opacity="0.42"/><circle cx="1982.7" cy="1020.0" r="2.1" fill="#000" opacity="0.25"/><circle cx="1988.3" cy="999.4" r="2.2" fill="#000" opacity="0.29"/><circle cx="1975.0" cy="999.9" r="1.3" fill="#000" opacity="0.40"/><circle cx="1959.9" cy="988.4" r="2.1" fill="#000" opacity="0.47"/><circle cx="1975.1" cy="1017.3" r="1.7" fill="#000" opacity="0.40"/><circle cx="1971.7" cy="986.8" r="1.5" fill="#000" opacity="0.33"/><circle cx="1956.5" cy="1001.3" r="1.2" fill="#000" opacity="0.36"/><circle cx="1960.0" cy="991.9" r="1.6" fill="#000" opacity="0.49"/><circle cx="1970.6" cy="1030.0" r="1.5" fill="#000" opacity="0.39"/><circle cx="1991.5" cy="1001.1" r="1.0" fill="#000" opacity="0.44"/><circle cx="1996.3" cy="1003.0" r="1.4" fill="#000" opacity="0.42"/><circle cx="1969.7" cy="997.3" r="2.2" fill="#000" opacity="0.32"/><circle cx="1979.8" cy="1006.4" r="1.8" fill="#000" opacity="0.28"/><circle cx="1990.2" cy="991.9" r="1.2" fill="#000" opacity="0.38"/><circle cx="1979.9" cy="1009.8" r="1.2" fill="#000" opacity="0.32"/><circle cx="1988.4" cy="1022.3" r="1.9" fill="#000" opacity="0.21"/><circle cx="1997.2" cy="1015.3" r="1.9" fill="#000" opacity="0.48"/><circle cx="1993.9" cy="966.9" r="1.5" fill="#000" opacity="0.22"/><circle cx="1966.8" cy="997.6" r="1.8" fill="#000" opacity="0.47"/><circle cx="1947.6" cy="1024.3" r="2.0" fill="#000" opacity="0.34"/><circle cx="2008.1" cy="975.4" r="1.9" fill="#000" opacity="0.48"/><circle cx="1983.8" cy="993.4" r="1.5" fill="#000" opacity="0.28"/><circle cx="1998.4" cy="1023.7" r="2.1" fill="#000" opacity="0.37"/><circle cx="1993.6" cy="978.2" r="1.1" fill="#000" opacity="0.30"/><circle cx="1997.6" cy="998.9" r="1.2" fill="#000" opacity="0.22"/><circle cx="1976.1" cy="991.2" r="2.0" fill="#000" opacity="0.32"/><circle cx="1985.4" cy="987.1" r="2.0" fill="#000" opacity="0.35"/><circle cx="1988.1" cy="1015.1" r="1.3" fill="#000" opacity="0.45"/><circle cx="1971.7" cy="982.9" r="1.1" fill="#000" opacity="0.26"/><circle cx="2005.8" cy="1008.0" r="1.7" fill="#000" opacity="0.31"/><circle cx="2003.3" cy="1013.2" r="1.5" fill="#000" opacity="0.29"/><circle cx="1975.0" cy="1010.8" r="2.1" fill="#000" opacity="0.48"/><circle cx="1982.3" cy="975.8" r="1.7" fill="#000" opacity="0.22"/><circle cx="1998.1" cy="995.9" r="1.8" fill="#000" opacity="0.49"/><circle cx="1989.5" cy="974.5" r="1.7" fill="#000" opacity="0.30"/><circle cx="1968.8" cy="998.5" r="1.3" fill="#000" opacity="0.48"/><circle cx="1979.1" cy="978.2" r="1.0" fill="#000" opacity="0.47"/><circle cx="1984.1" cy="992.1" r="1.6" fill="#000" opacity="0.29"/><circle cx="1517.1" cy="994.6" r="1.9" fill="#000" opacity="0.48"/><circle cx="1539.6" cy="980.9" r="1.2" fill="#000" opacity="0.41"/><circle cx="1516.1" cy="1009.1" r="1.7" fill="#000" opacity="0.48"/><circle cx="1536.4" cy="980.4" r="2.1" fill="#000" opacity="0.46"/><circle cx="1500.5" cy="994.0" r="1.5" fill="#000" opacity="0.34"/><circle cx="1560.9" cy="1023.2" r="1.1" fill="#000" opacity="0.41"/><circle cx="1532.5" cy="992.6" r="2.1" fill="#000" opacity="0.47"/><circle cx="1529.9" cy="988.1" r="1.8" fill="#000" opacity="0.21"/><circle cx="1569.8" cy="986.7" r="1.9" fill="#000" opacity="0.34"/><circle cx="1538.5" cy="988.4" r="2.0" fill="#000" opacity="0.32"/><circle cx="1515.3" cy="986.6" r="1.2" fill="#000" opacity="0.38"/><circle cx="1505.6" cy="987.3" r="1.8" fill="#000" opacity="0.28"/><circle cx="1508.7" cy="981.4" r="1.6" fill="#000" opacity="0.25"/><circle cx="1521.1" cy="995.1" r="1.3" fill="#000" opacity="0.39"/><circle cx="1536.5" cy="986.0" r="1.6" fill="#000" opacity="0.44"/><circle cx="1533.5" cy="1014.1" r="1.0" fill="#000" opacity="0.29"/><circle cx="1520.8" cy="1024.6" r="1.1" fill="#000" opacity="0.25"/><circle cx="1502.8" cy="981.0" r="1.3" fill="#000" opacity="0.23"/><circle cx="1523.1" cy="1014.7" r="1.5" fill="#000" opacity="0.28"/><circle cx="1532.8" cy="989.0" r="1.8" fill="#000" opacity="0.38"/><circle cx="1521.5" cy="1017.2" r="2.2" fill="#000" opacity="0.38"/><circle cx="1532.9" cy="1021.7" r="1.5" fill="#000" opacity="0.33"/><circle cx="1545.2" cy="955.5" r="2.0" fill="#000" opacity="0.35"/><circle cx="1557.8" cy="983.2" r="1.3" fill="#000" opacity="0.37"/><circle cx="1529.9" cy="980.9" r="2.1" fill="#000" opacity="0.37"/><circle cx="1509.4" cy="1008.2" r="1.2" fill="#000" opacity="0.39"/><circle cx="1507.0" cy="1003.2" r="1.6" fill="#000" opacity="0.47"/><circle cx="1495.4" cy="983.9" r="1.5" fill="#000" opacity="0.29"/><circle cx="1541.3" cy="992.4" r="1.9" fill="#000" opacity="0.25"/><circle cx="1510.6" cy="962.2" r="2.1" fill="#000" opacity="0.40"/><circle cx="1513.5" cy="987.6" r="1.0" fill="#000" opacity="0.35"/><circle cx="1512.3" cy="1017.3" r="1.6" fill="#000" opacity="0.36"/><circle cx="1523.0" cy="1020.3" r="1.3" fill="#000" opacity="0.43"/><circle cx="1537.6" cy="959.4" r="1.4" fill="#000" opacity="0.34"/><circle cx="1514.2" cy="994.4" r="1.3" fill="#000" opacity="0.28"/><circle cx="1521.0" cy="1009.6" r="1.7" fill="#000" opacity="0.32"/><circle cx="1532.6" cy="980.6" r="2.1" fill="#000" opacity="0.33"/><circle cx="1502.0" cy="1014.9" r="1.3" fill="#000" opacity="0.37"/><circle cx="1525.6" cy="979.5" r="1.4" fill="#000" opacity="0.21"/><circle cx="1529.2" cy="992.3" r="1.1" fill="#000" opacity="0.33"/><circle cx="1534.8" cy="1003.2" r="1.2" fill="#000" opacity="0.27"/><circle cx="1512.1" cy="986.1" r="2.2" fill="#000" opacity="0.49"/><circle cx="1536.9" cy="1013.2" r="1.7" fill="#000" opacity="0.45"/><circle cx="1531.2" cy="984.4" r="1.2" fill="#000" opacity="0.34"/><circle cx="1518.9" cy="999.9" r="1.1" fill="#000" opacity="0.34"/><circle cx="1514.6" cy="980.7" r="1.2" fill="#000" opacity="0.49"/><circle cx="1547.8" cy="1023.1" r="1.1" fill="#000" opacity="0.36"/><circle cx="1542.0" cy="983.5" r="2.0" fill="#000" opacity="0.43"/><circle cx="1543.1" cy="1008.6" r="1.6" fill="#000" opacity="0.25"/><circle cx="1524.5" cy="1003.1" r="2.1" fill="#000" opacity="0.21"/><circle cx="1532.9" cy="999.9" r="1.0" fill="#000" opacity="0.21"/><circle cx="1501.4" cy="990.7" r="1.7" fill="#000" opacity="0.39"/><circle cx="1530.7" cy="1014.8" r="1.0" fill="#000" opacity="0.45"/><circle cx="1530.5" cy="982.3" r="1.2" fill="#000" opacity="0.37"/><circle cx="1526.6" cy="1003.6" r="2.1" fill="#000" opacity="0.39"/><circle cx="1488.7" cy="1008.4" r="1.5" fill="#000" opacity="0.21"/><circle cx="1517.5" cy="991.7" r="1.6" fill="#000" opacity="0.35"/><circle cx="1522.5" cy="1000.3" r="1.2" fill="#000" opacity="0.48"/><circle cx="1519.5" cy="1014.0" r="1.5" fill="#000" opacity="0.35"/><circle cx="1552.1" cy="969.9" r="1.3" fill="#000" opacity="0.49"/><circle cx="1487.1" cy="851.3" r="1.9" fill="#000" opacity="0.32"/><circle cx="1486.2" cy="719.3" r="2.0" fill="#000" opacity="0.33"/><circle cx="1528.2" cy="793.4" r="1.8" fill="#000" opacity="0.46"/><circle cx="1518.6" cy="706.1" r="1.8" fill="#000" opacity="0.22"/><circle cx="1474.8" cy="744.8" r="1.4" fill="#000" opacity="0.31"/><circle cx="1510.6" cy="814.2" r="2.1" fill="#000" opacity="0.42"/><circle cx="1556.8" cy="726.5" r="1.6" fill="#000" opacity="0.49"/><circle cx="1520.3" cy="795.2" r="1.9" fill="#000" opacity="0.49"/><circle cx="1486.0" cy="822.5" r="1.2" fill="#000" opacity="0.30"/><circle cx="1470.8" cy="777.2" r="1.2" fill="#000" opacity="0.24"/><circle cx="1475.3" cy="744.7" r="1.5" fill="#000" opacity="0.47"/><circle cx="1507.6" cy="808.8" r="1.2" fill="#000" opacity="0.31"/><circle cx="1510.5" cy="742.0" r="1.8" fill="#000" opacity="0.25"/><circle cx="1524.3" cy="775.5" r="1.1" fill="#000" opacity="0.36"/><circle cx="1461.4" cy="777.0" r="1.4" fill="#000" opacity="0.43"/><circle cx="1510.4" cy="720.0" r="1.0" fill="#000" opacity="0.40"/><circle cx="1468.6" cy="732.5" r="1.8" fill="#000" opacity="0.22"/><circle cx="1490.6" cy="686.9" r="1.5" fill="#000" opacity="0.48"/><circle cx="1497.6" cy="732.6" r="1.0" fill="#000" opacity="0.23"/><circle cx="1495.0" cy="738.4" r="1.4" fill="#000" opacity="0.38"/><circle cx="1457.9" cy="752.1" r="1.5" fill="#000" opacity="0.36"/><circle cx="1505.1" cy="764.8" r="1.3" fill="#000" opacity="0.21"/><circle cx="1478.1" cy="758.8" r="1.2" fill="#000" opacity="0.46"/><circle cx="1478.6" cy="670.9" r="1.5" fill="#000" opacity="0.40"/><circle cx="1477.5" cy="753.7" r="2.2" fill="#000" opacity="0.36"/><circle cx="1483.0" cy="793.6" r="1.8" fill="#000" opacity="0.39"/><circle cx="1486.6" cy="769.7" r="1.2" fill="#000" opacity="0.41"/><circle cx="1479.3" cy="763.2" r="1.9" fill="#000" opacity="0.35"/><circle cx="1545.6" cy="679.4" r="2.1" fill="#000" opacity="0.34"/><circle cx="1522.7" cy="787.5" r="1.7" fill="#000" opacity="0.45"/><circle cx="1500.8" cy="694.2" r="1.9" fill="#000" opacity="0.37"/><circle cx="1500.2" cy="717.4" r="1.7" fill="#000" opacity="0.37"/><circle cx="1494.5" cy="743.8" r="1.9" fill="#000" opacity="0.45"/><circle cx="1487.5" cy="744.2" r="1.8" fill="#000" opacity="0.21"/><circle cx="1531.1" cy="766.7" r="2.0" fill="#000" opacity="0.30"/><circle cx="1493.9" cy="760.4" r="1.3" fill="#000" opacity="0.32"/><circle cx="1484.6" cy="698.4" r="1.6" fill="#000" opacity="0.37"/><circle cx="1497.8" cy="760.8" r="2.1" fill="#000" opacity="0.39"/><circle cx="1501.5" cy="709.1" r="2.1" fill="#000" opacity="0.36"/><circle cx="1534.3" cy="777.5" r="2.1" fill="#000" opacity="0.30"/><circle cx="1517.0" cy="760.1" r="1.6" fill="#000" opacity="0.21"/><circle cx="1532.0" cy="753.8" r="1.8" fill="#000" opacity="0.44"/><circle cx="1500.6" cy="708.5" r="2.1" fill="#000" opacity="0.33"/><circle cx="1504.9" cy="713.6" r="1.3" fill="#000" opacity="0.36"/><circle cx="1545.0" cy="708.8" r="2.2" fill="#000" opacity="0.46"/><circle cx="1504.7" cy="777.3" r="1.5" fill="#000" opacity="0.31"/><circle cx="1507.9" cy="707.1" r="1.9" fill="#000" opacity="0.37"/><circle cx="1504.7" cy="766.1" r="1.3" fill="#000" opacity="0.29"/><circle cx="1517.9" cy="769.2" r="1.8" fill="#000" opacity="0.22"/><circle cx="1488.9" cy="718.4" r="2.1" fill="#000" opacity="0.45"/><circle cx="1522.9" cy="722.8" r="2.1" fill="#000" opacity="0.28"/><circle cx="1488.0" cy="679.4" r="1.3" fill="#000" opacity="0.44"/><circle cx="1461.8" cy="686.1" r="1.1" fill="#000" opacity="0.25"/><circle cx="1531.9" cy="756.6" r="2.1" fill="#000" opacity="0.22"/><circle cx="1510.5" cy="745.9" r="1.8" fill="#000" opacity="0.22"/><circle cx="1522.7" cy="709.6" r="1.2" fill="#000" opacity="0.24"/><circle cx="1506.8" cy="733.9" r="1.8" fill="#000" opacity="0.23"/><circle cx="1492.5" cy="777.4" r="1.2" fill="#000" opacity="0.33"/><circle cx="1516.7" cy="757.4" r="1.5" fill="#000" opacity="0.23"/><circle cx="1527.5" cy="756.8" r="1.7" fill="#000" opacity="0.48"/><circle cx="1481.0" cy="713.8" r="2.0" fill="#000" opacity="0.46"/><circle cx="1494.1" cy="804.9" r="1.4" fill="#000" opacity="0.37"/><circle cx="1500.1" cy="784.1" r="1.1" fill="#000" opacity="0.34"/><circle cx="1496.5" cy="723.0" r="2.0" fill="#000" opacity="0.28"/><circle cx="1471.1" cy="774.8" r="1.1" fill="#000" opacity="0.35"/><circle cx="1470.5" cy="717.4" r="1.4" fill="#000" opacity="0.32"/><circle cx="1498.0" cy="726.2" r="1.8" fill="#000" opacity="0.38"/><circle cx="1486.9" cy="715.5" r="1.1" fill="#000" opacity="0.50"/><circle cx="1519.7" cy="742.4" r="1.2" fill="#000" opacity="0.24"/><circle cx="1470.7" cy="699.2" r="1.8" fill="#000" opacity="0.43"/><circle cx="1751" cy="800" r="1.7" fill="#111" opacity="0.75" filter="url(#e05)"/><circle cx="1748" cy="808" r="1.7" fill="#111" opacity="0.75" filter="url(#e05)"/><circle cx="1747" cy="817" r="1.7" fill="#111" opacity="0.75" filter="url(#e05)"/><circle cx="1748" cy="826" r="1.7" fill="#111" opacity="0.75" filter="url(#e05)"/><circle cx="1750" cy="834" r="1.7" fill="#111" opacity="0.75" filter="url(#e05)"/><circle cx="1752" cy="843" r="1.7" fill="#111" opacity="0.75" filter="url(#e05)"/><circle cx="1688" cy="797" r="1.7" fill="#111" opacity="0.75" filter="url(#e05)"/><circle cx="1694" cy="801" r="1.7" fill="#111" opacity="0.75" filter="url(#e05)"/><circle cx="1700" cy="806" r="1.7" fill="#111" opacity="0.75" filter="url(#e05)"/><circle cx="1707" cy="804" r="1.7" fill="#111" opacity="0.75" filter="url(#e05)"/><circle cx="1714" cy="802" r="1.7" fill="#111" opacity="0.75" filter="url(#e05)"/><circle cx="1720" cy="806" r="1.7" fill="#111" opacity="0.75" filter="url(#e05)"/><circle cx="1776" cy="806" r="1.7" fill="#111" opacity="0.75" filter="url(#e05)"/><circle cx="1782" cy="811" r="1.7" fill="#111" opacity="0.75" filter="url(#e05)"/><circle cx="1787" cy="814" r="1.7" fill="#111" opacity="0.75" filter="url(#e05)"/><ellipse cx="1852" cy="830" rx="17" ry="20" fill="#000" opacity="0.8" filter="url(#e4)"/><ellipse cx="1836" cy="822" rx="22" ry="24" fill="#000" opacity="0.35" filter="url(#e7)"/><ellipse cx="1866" cy="866" rx="10" ry="12" fill="#000" opacity="0.65" filter="url(#e4)"/><ellipse cx="1886" cy="804" rx="16" ry="17" fill="#000" opacity="0.32" filter="url(#e4)"/><ellipse cx="1886" cy="804" rx="16" ry="17" fill="none" stroke="#444" stroke-width="2" opacity="0.6" filter="url(#e05)"/><ellipse cx="1880" cy="890" rx="13" ry="16" fill="none" stroke="#555" stroke-width="2" opacity="0.5" filter="url(#e05)"/><ellipse cx="1880" cy="890" rx="12" ry="15" fill="#000" opacity="0.12" filter="url(#e2)"/><ellipse cx="1850" cy="897" rx="11" ry="14" fill="none" stroke="#555" stroke-width="2" opacity="0.5" filter="url(#e05)"/><ellipse cx="1701.3" cy="890" rx="33" ry="36.5" fill="none" stroke="#3c3c3c" stroke-width="6.5" opacity="0.95" filter="url(#e1)"/><ellipse cx="1701.3" cy="890" rx="29" ry="32.5" fill="none" stroke="#777" stroke-width="3" opacity="0.5" filter="url(#e1)"/><ellipse cx="1514" cy="708.7" rx="65" ry="67" fill="none" stroke="#505050" stroke-width="3.4" opacity="0.9" filter="url(#e05)" transform="rotate(-15 1514 708.7)"/><path d="M1420.0,687.0 C1422.7,689.2 1431.5,692.0 1436.0,700.0 C1440.5,708.0 1445.7,723.0 1447.0,735.0 C1448.3,747.0 1446.2,762.8 1444.0,772.0 C1441.8,781.2 1438.0,785.3 1434.0,790.0 C1430.0,794.7 1422.3,798.3 1420.0,800.0" fill="none" stroke="#4a4a4a" stroke-width="3.5" opacity="0.9" filter="url(#e05)" stroke-linecap="round"/><path d="M1519.0,790.0 C1517.8,798.3 1515.7,823.3 1512.0,840.0 C1508.3,856.7 1501.0,874.3 1497.0,890.0 C1493.0,905.7 1492.5,921.3 1488.0,934.0 C1483.5,946.7 1481.3,957.0 1470.0,966.0 C1458.7,975.0 1428.3,984.3 1420.0,988.0" fill="none" stroke="#3a3a3a" stroke-width="4.2" opacity="0.9" filter="url(#e05)" stroke-linecap="round"/><path d="M1527.0,800.0 C1523.7,815.0 1511.8,867.0 1507.0,890.0 C1502.2,913.0 1502.5,924.2 1498.0,938.0 C1493.5,951.8 1489.7,964.3 1480.0,973.0 C1470.3,981.7 1446.7,987.2 1440.0,990.0" fill="none" stroke="#444" stroke-width="3" opacity="0.8" filter="url(#e05)" stroke-linecap="round"/><ellipse cx="1549.5" cy="897.6" rx="47" ry="51" fill="none" stroke="#4a4a4a" stroke-width="3.2" opacity="0.9" filter="url(#e05)" transform="rotate(-20 1549.5 897.6)"/><path d="M1524.0,800.0 C1526.7,806.3 1531.5,831.0 1540.0,838.0 C1548.5,845.0 1565.3,843.7 1575.0,842.0 C1584.7,840.3 1594.2,830.3 1598.0,828.0" fill="none" stroke="#555" stroke-width="2.5" opacity="0.7" filter="url(#e05)" stroke-linecap="round"/><path d="M1490.0,936.0 C1494.2,935.7 1505.8,932.0 1515.0,934.0 C1524.2,936.0 1535.8,945.0 1545.0,948.0 C1554.2,951.0 1565.8,951.3 1570.0,952.0" fill="none" stroke="#555" stroke-width="2.5" opacity="0.7" filter="url(#e05)" stroke-linecap="round"/><ellipse cx="1596.7" cy="592.8" rx="31" ry="27" fill="none" stroke="#666" stroke-width="2.2" opacity="0.8" filter="url(#e05)"/><ellipse cx="1640.7" cy="621.6" rx="19" ry="20" fill="none" stroke="#555" stroke-width="2.2" opacity="0.85" filter="url(#e05)"/><ellipse cx="1526.3" cy="616" rx="26" ry="29" fill="none" stroke="#777" stroke-width="1.6" opacity="0.6" filter="url(#e05)"/><path d="M1764.0,552.0 C1763.7,556.7 1766.8,571.0 1762.0,580.0 C1757.2,589.0 1745.3,599.7 1735.0,606.0 C1724.7,612.3 1709.2,615.3 1700.0,618.0 C1690.8,620.7 1683.3,621.3 1680.0,622.0" fill="none" stroke="#555" stroke-width="2.6" opacity="0.85" filter="url(#e05)" stroke-linecap="round"/><path d="M1560.0,640.0 C1565.0,637.5 1580.0,626.3 1590.0,625.0 C1600.0,623.7 1615.0,630.8 1620.0,632.0" fill="none" stroke="#777" stroke-width="1.8" opacity="0.6" filter="url(#e05)" stroke-linecap="round"/><path d="M1570.0,545.0 C1581.7,547.8 1615.0,559.5 1640.0,562.0 C1665.0,564.5 1698.3,562.8 1720.0,560.0 C1741.7,557.2 1761.7,547.5 1770.0,545.0" fill="none" stroke="#777" stroke-width="2" opacity="0.55" filter="url(#e05)" stroke-linecap="round"/><path d="M1808.0,595.0 C1805.0,599.5 1809.7,618.5 1812.0,625.0 C1814.3,631.5 1817.0,634.5 1822.0,634.0 C1827.0,633.5 1837.7,627.7 1842.0,622.0 C1846.3,616.3 1850.0,604.0 1848.0,600.0 C1846.0,596.0 1836.7,598.8 1830.0,598.0 C1823.3,597.2 1811.0,590.5 1808.0,595.0Z" fill="none" stroke="#666" stroke-width="2" opacity="0.7" filter="url(#e05)" stroke-linecap="round"/><path d="M1700.0,688.0 C1710.0,687.0 1743.3,681.7 1760.0,682.0 C1776.7,682.3 1788.3,692.8 1800.0,690.0 C1811.7,687.2 1820.0,673.3 1830.0,665.0 C1840.0,656.7 1853.3,649.2 1860.0,640.0 C1866.7,630.8 1864.2,618.3 1870.0,610.0 C1875.8,601.7 1890.8,593.3 1895.0,590.0" fill="none" stroke="#666" stroke-width="2" opacity="0.7" filter="url(#e05)" stroke-linecap="round"/><path d="M1866.0,640.0 C1868.3,641.7 1875.2,650.0 1880.0,650.0 C1884.8,650.0 1890.8,646.7 1895.0,640.0 C1899.2,633.3 1900.0,618.3 1905.0,610.0 C1910.0,601.7 1921.7,593.3 1925.0,590.0" fill="none" stroke="#777" stroke-width="1.8" opacity="0.6" filter="url(#e05)" stroke-linecap="round"/><path d="M2000.0,616.0 C1993.3,617.5 1972.5,619.3 1960.0,625.0 C1947.5,630.7 1934.2,637.5 1925.0,650.0 C1915.8,662.5 1910.0,681.7 1905.0,700.0 C1900.0,718.3 1897.0,743.3 1895.0,760.0 C1893.0,776.7 1892.2,786.7 1893.0,800.0 C1893.8,813.3 1898.8,833.3 1900.0,840.0" fill="none" stroke="#666" stroke-width="2.2" opacity="0.75" filter="url(#e05)" stroke-linecap="round"/><path d="M1946.0,575.0 C1947.5,572.5 1950.2,561.7 1955.0,560.0 C1959.8,558.3 1970.0,560.0 1975.0,565.0 C1980.0,570.0 1982.5,583.3 1985.0,590.0 C1987.5,596.7 1989.2,602.5 1990.0,605.0" fill="none" stroke="#777" stroke-width="1.8" opacity="0.6" filter="url(#e05)" stroke-linecap="round"/><path d="M1800.0,690.0 C1808.3,691.7 1837.5,691.7 1850.0,700.0 C1862.5,708.3 1868.7,725.0 1875.0,740.0 C1881.3,755.0 1885.8,781.7 1888.0,790.0" fill="none" stroke="#777" stroke-width="1.8" opacity="0.55" filter="url(#e05)" stroke-linecap="round"/><path d="M1900.0,840.0 C1904.2,843.3 1915.0,853.3 1925.0,860.0 C1935.0,866.7 1947.5,873.3 1960.0,880.0 C1972.5,886.7 1993.3,896.7 2000.0,900.0" fill="none" stroke="#666" stroke-width="2.2" opacity="0.7" filter="url(#e05)" stroke-linecap="round"/><path d="M1930.0,790.0 C1935.0,793.3 1950.0,801.7 1960.0,810.0 C1970.0,818.3 1983.3,833.3 1990.0,840.0 C1996.7,846.7 1998.3,848.3 2000.0,850.0" fill="none" stroke="#555" stroke-width="4" opacity="0.45" filter="url(#e2)" stroke-linecap="round"/><ellipse cx="1920.7" cy="926" rx="30" ry="31" fill="none" stroke="#5a5a5a" stroke-width="2.6" opacity="0.85" filter="url(#e05)"/><ellipse cx="1925" cy="930" rx="14" ry="14" fill="#000" opacity="0.12" filter="url(#e2)"/><ellipse cx="1766.4" cy="974" rx="14" ry="15" fill="none" stroke="#5a5a5a" stroke-width="2.2" opacity="0.8" filter="url(#e05)"/><path d="M1700.0,969.0 C1705.8,967.2 1725.0,961.2 1735.0,958.0 C1745.0,954.8 1755.8,951.3 1760.0,950.0" fill="none" stroke="#555" stroke-width="2.5" opacity="0.7" filter="url(#e05)" stroke-linecap="round"/><path d="M1850.0,1040.0 C1851.7,1031.7 1855.0,1002.5 1860.0,990.0 C1865.0,977.5 1872.5,970.8 1880.0,965.0 C1887.5,959.2 1900.8,956.7 1905.0,955.0" fill="none" stroke="#666" stroke-width="2.2" opacity="0.6" filter="url(#e05)" stroke-linecap="round"/><path d="M1700.0,975.0 C1703.3,976.7 1714.2,977.5 1720.0,985.0 C1725.8,992.5 1732.5,1014.2 1735.0,1020.0" fill="none" stroke="#666" stroke-width="2" opacity="0.55" filter="url(#e05)" stroke-linecap="round"/><circle cx="1693.4" cy="763.5" r="4.8" fill="none" stroke="#5a5a5a" stroke-width="1.6" opacity="0.49" filter="url(#e05)"/><circle cx="1654.0" cy="798.5" r="5.6" fill="none" stroke="#5a5a5a" stroke-width="1.6" opacity="0.52" filter="url(#e05)"/><circle cx="1609.7" cy="797.0" r="4.3" fill="none" stroke="#5a5a5a" stroke-width="1.6" opacity="0.37" filter="url(#e05)"/><circle cx="1786.1" cy="793.1" r="5.0" fill="none" stroke="#5a5a5a" stroke-width="1.6" opacity="0.38" filter="url(#e05)"/><circle cx="1660.1" cy="845.6" r="4.6" fill="none" stroke="#5a5a5a" stroke-width="1.6" opacity="0.43" filter="url(#e05)"/><circle cx="1690.7" cy="716.8" r="4.9" fill="none" stroke="#5a5a5a" stroke-width="1.6" opacity="0.36" filter="url(#e05)"/><circle cx="1671.0" cy="754.7" r="5.7" fill="none" stroke="#5a5a5a" stroke-width="1.6" opacity="0.36" filter="url(#e05)"/><circle cx="1808.7" cy="768.6" r="5.7" fill="none" stroke="#5a5a5a" stroke-width="1.6" opacity="0.59" filter="url(#e05)"/><circle cx="1647.7" cy="809.5" r="5.5" fill="none" stroke="#5a5a5a" stroke-width="1.6" opacity="0.40" filter="url(#e05)"/><circle cx="1652.3" cy="844.0" r="4.2" fill="none" stroke="#5a5a5a" stroke-width="1.6" opacity="0.65" filter="url(#e05)"/><circle cx="1765.4" cy="779.1" r="4.0" fill="none" stroke="#5a5a5a" stroke-width="1.6" opacity="0.41" filter="url(#e05)"/><circle cx="1666.3" cy="820.2" r="6.0" fill="none" stroke="#5a5a5a" stroke-width="1.6" opacity="0.47" filter="url(#e05)"/><circle cx="1672.7" cy="774.2" r="4.9" fill="none" stroke="#5a5a5a" stroke-width="1.6" opacity="0.53" filter="url(#e05)"/><circle cx="1759.3" cy="861.9" r="5.7" fill="none" stroke="#5a5a5a" stroke-width="1.6" opacity="0.40" filter="url(#e05)"/><circle cx="1761.5" cy="772.9" r="4.8" fill="none" stroke="#5a5a5a" stroke-width="1.6" opacity="0.57" filter="url(#e05)"/><circle cx="1747.0" cy="788.3" r="5.9" fill="none" stroke="#5a5a5a" stroke-width="1.6" opacity="0.43" filter="url(#e05)"/><circle cx="1779.6" cy="775.7" r="4.8" fill="none" stroke="#5a5a5a" stroke-width="1.6" opacity="0.68" filter="url(#e05)"/><circle cx="1736.6" cy="707.9" r="4.3" fill="none" stroke="#5a5a5a" stroke-width="1.6" opacity="0.49" filter="url(#e05)"/><circle cx="1718.5" cy="770.4" r="4.6" fill="none" stroke="#5a5a5a" stroke-width="1.6" opacity="0.54" filter="url(#e05)"/><circle cx="1629.1" cy="767.6" r="5.1" fill="none" stroke="#5a5a5a" stroke-width="1.6" opacity="0.45" filter="url(#e05)"/><circle cx="1773.8" cy="738.8" r="5.4" fill="none" stroke="#5a5a5a" stroke-width="1.6" opacity="0.69" filter="url(#e05)"/><circle cx="1621.0" cy="774.1" r="4.9" fill="none" stroke="#5a5a5a" stroke-width="1.6" opacity="0.69" filter="url(#e05)"/><circle cx="1677.9" cy="733.8" r="5.6" fill="none" stroke="#5a5a5a" stroke-width="1.6" opacity="0.61" filter="url(#e05)"/><circle cx="1608.7" cy="799.3" r="5.3" fill="none" stroke="#5a5a5a" stroke-width="1.6" opacity="0.50" filter="url(#e05)"/><circle cx="1796.7" cy="832.5" r="5.1" fill="none" stroke="#5a5a5a" stroke-width="1.6" opacity="0.63" filter="url(#e05)"/><circle cx="1772.2" cy="812.9" r="4.2" fill="none" stroke="#5a5a5a" stroke-width="1.6" opacity="0.69" filter="url(#e05)"/><circle cx="1738.6" cy="777.8" r="5.0" fill="none" stroke="#5a5a5a" stroke-width="1.6" opacity="0.35" filter="url(#e05)"/><circle cx="1746.1" cy="847.5" r="4.9" fill="none" stroke="#5a5a5a" stroke-width="1.6" opacity="0.52" filter="url(#e05)"/><circle cx="1715.6" cy="711.8" r="4.4" fill="none" stroke="#5a5a5a" stroke-width="1.6" opacity="0.40" filter="url(#e05)"/><circle cx="1608.4" cy="805.9" r="4.1" fill="none" stroke="#5a5a5a" stroke-width="1.6" opacity="0.57" filter="url(#e05)"/><circle cx="1694.3" cy="768.9" r="5.6" fill="none" stroke="#5a5a5a" stroke-width="1.6" opacity="0.49" filter="url(#e05)"/><circle cx="1723.4" cy="707.6" r="5.1" fill="none" stroke="#5a5a5a" stroke-width="1.6" opacity="0.60" filter="url(#e05)"/><circle cx="1787.8" cy="834.0" r="4.1" fill="none" stroke="#5a5a5a" stroke-width="1.6" opacity="0.61" filter="url(#e05)"/><circle cx="1770.5" cy="749.0" r="5.3" fill="none" stroke="#5a5a5a" stroke-width="1.6" opacity="0.61" filter="url(#e05)"/><circle cx="1753.1" cy="868.5" r="4.8" fill="none" stroke="#5a5a5a" stroke-width="1.6" opacity="0.49" filter="url(#e05)"/><circle cx="1666.0" cy="816.0" r="5.7" fill="none" stroke="#5a5a5a" stroke-width="1.6" opacity="0.63" filter="url(#e05)"/><circle cx="1669.5" cy="836.3" r="4.1" fill="none" stroke="#5a5a5a" stroke-width="1.6" opacity="0.58" filter="url(#e05)"/><circle cx="1740.4" cy="723.2" r="5.8" fill="none" stroke="#5a5a5a" stroke-width="1.6" opacity="0.68" filter="url(#e05)"/><circle cx="1789.8" cy="741.9" r="4.1" fill="none" stroke="#5a5a5a" stroke-width="1.6" opacity="0.46" filter="url(#e05)"/><circle cx="1714.7" cy="768.1" r="5.4" fill="none" stroke="#5a5a5a" stroke-width="1.6" opacity="0.43" filter="url(#e05)"/><circle cx="1614.1" cy="805.1" r="4.1" fill="none" stroke="#5a5a5a" stroke-width="1.6" opacity="0.66" filter="url(#e05)"/><circle cx="1640.6" cy="816.3" r="4.2" fill="none" stroke="#5a5a5a" stroke-width="1.6" opacity="0.52" filter="url(#e05)"/><circle cx="1787.0" cy="789.2" r="5.5" fill="none" stroke="#5a5a5a" stroke-width="1.6" opacity="0.45" filter="url(#e05)"/><circle cx="1644.1" cy="745.4" r="5.1" fill="none" stroke="#5a5a5a" stroke-width="1.6" opacity="0.35" filter="url(#e05)"/><circle cx="1812.0" cy="819.3" r="4.3" fill="none" stroke="#5a5a5a" stroke-width="1.6" opacity="0.36" filter="url(#e05)"/><circle cx="1744.0" cy="708.6" r="4.2" fill="none" stroke="#5a5a5a" stroke-width="1.6" opacity="0.51" filter="url(#e05)"/><circle cx="1787.2" cy="729.2" r="5.3" fill="none" stroke="#5a5a5a" stroke-width="1.6" opacity="0.53" filter="url(#e05)"/><circle cx="1749.3" cy="777.6" r="5.7" fill="none" stroke="#5a5a5a" stroke-width="1.6" opacity="0.51" filter="url(#e05)"/><circle cx="1787.2" cy="764.2" r="5.4" fill="none" stroke="#5a5a5a" stroke-width="1.6" opacity="0.52" filter="url(#e05)"/><circle cx="1723.6" cy="734.5" r="4.1" fill="none" stroke="#5a5a5a" stroke-width="1.6" opacity="0.38" filter="url(#e05)"/><circle cx="1769.4" cy="799.5" r="5.5" fill="none" stroke="#5a5a5a" stroke-width="1.6" opacity="0.67" filter="url(#e05)"/><circle cx="1716.5" cy="768.4" r="5.4" fill="none" stroke="#5a5a5a" stroke-width="1.6" opacity="0.67" filter="url(#e05)"/><circle cx="1713.1" cy="770.6" r="5.0" fill="none" stroke="#5a5a5a" stroke-width="1.6" opacity="0.62" filter="url(#e05)"/><circle cx="1689.4" cy="769.5" r="4.8" fill="none" stroke="#5a5a5a" stroke-width="1.6" opacity="0.53" filter="url(#e05)"/><circle cx="1646.7" cy="725.3" r="5.9" fill="none" stroke="#5a5a5a" stroke-width="1.6" opacity="0.59" filter="url(#e05)"/><circle cx="1705.0" cy="754.7" r="4.0" fill="none" stroke="#5a5a5a" stroke-width="1.6" opacity="0.40" filter="url(#e05)"/><circle cx="1618.0" cy="790.0" r="5.4" fill="none" stroke="#5a5a5a" stroke-width="1.6" opacity="0.59" filter="url(#e05)"/><circle cx="1622.0" cy="805.0" r="5.6" fill="none" stroke="#5a5a5a" stroke-width="1.6" opacity="0.65" filter="url(#e05)"/><circle cx="1615.0" cy="822.0" r="5.1" fill="none" stroke="#5a5a5a" stroke-width="1.6" opacity="0.44" filter="url(#e05)"/><circle cx="1626.0" cy="835.0" r="4.0" fill="none" stroke="#5a5a5a" stroke-width="1.6" opacity="0.37" filter="url(#e05)"/><circle cx="1620.0" cy="852.0" r="4.8" fill="none" stroke="#5a5a5a" stroke-width="1.6" opacity="0.45" filter="url(#e05)"/><circle cx="1630.0" cy="866.0" r="5.6" fill="none" stroke="#5a5a5a" stroke-width="1.6" opacity="0.36" filter="url(#e05)"/><circle cx="1640.0" cy="812.0" r="5.8" fill="none" stroke="#5a5a5a" stroke-width="1.6" opacity="0.37" filter="url(#e05)"/><circle cx="1636.0" cy="845.0" r="4.8" fill="none" stroke="#5a5a5a" stroke-width="1.6" opacity="0.50" filter="url(#e05)"/><circle cx="1648.0" cy="795.0" r="4.5" fill="none" stroke="#5a5a5a" stroke-width="1.6" opacity="0.65" filter="url(#e05)"/><circle cx="1812.0" cy="800.0" r="4.3" fill="none" stroke="#5a5a5a" stroke-width="1.6" opacity="0.47" filter="url(#e05)"/><circle cx="1820.0" cy="815.0" r="5.0" fill="none" stroke="#5a5a5a" stroke-width="1.6" opacity="0.57" filter="url(#e05)"/><circle cx="1808.0" cy="830.0" r="4.6" fill="none" stroke="#5a5a5a" stroke-width="1.6" opacity="0.36" filter="url(#e05)"/><circle cx="1822.0" cy="845.0" r="5.7" fill="none" stroke="#5a5a5a" stroke-width="1.6" opacity="0.54" filter="url(#e05)"/><circle cx="1812.0" cy="860.0" r="5.7" fill="none" stroke="#5a5a5a" stroke-width="1.6" opacity="0.60" filter="url(#e05)"/><circle cx="1800.0" cy="875.0" r="4.7" fill="none" stroke="#5a5a5a" stroke-width="1.6" opacity="0.41" filter="url(#e05)"/><circle cx="1830.0" cy="795.0" r="5.1" fill="none" stroke="#5a5a5a" stroke-width="1.6" opacity="0.63" filter="url(#e05)"/><circle cx="1795.0" cy="850.0" r="4.7" fill="none" stroke="#5a5a5a" stroke-width="1.6" opacity="0.69" filter="url(#e05)"/><circle cx="1745.0" cy="736.0" r="4.6" fill="none" stroke="#5a5a5a" stroke-width="1.6" opacity="0.66" filter="url(#e05)"/><circle cx="1752.0" cy="745.0" r="4.9" fill="none" stroke="#5a5a5a" stroke-width="1.6" opacity="0.36" filter="url(#e05)"/><circle cx="1792.0" cy="737.0" r="5.7" fill="none" stroke="#5a5a5a" stroke-width="1.6" opacity="0.69" filter="url(#e05)"/><circle cx="1816.0" cy="742.0" r="5.2" fill="none" stroke="#5a5a5a" stroke-width="1.6" opacity="0.50" filter="url(#e05)"/><circle cx="1800.0" cy="760.0" r="4.2" fill="none" stroke="#5a5a5a" stroke-width="1.6" opacity="0.52" filter="url(#e05)"/><circle cx="1781.0" cy="769.0" r="5.3" fill="none" stroke="#5a5a5a" stroke-width="1.6" opacity="0.60" filter="url(#e05)"/><circle cx="1790.0" cy="783.0" r="5.3" fill="none" stroke="#5a5a5a" stroke-width="1.6" opacity="0.62" filter="url(#e05)"/><circle cx="1835.0" cy="770.0" r="4.5" fill="none" stroke="#5a5a5a" stroke-width="1.6" opacity="0.69" filter="url(#e05)"/><circle cx="1843.0" cy="755.0" r="4.7" fill="none" stroke="#5a5a5a" stroke-width="1.6" opacity="0.51" filter="url(#e05)"/><circle cx="1822.0" cy="790.0" r="4.2" fill="none" stroke="#5a5a5a" stroke-width="1.6" opacity="0.69" filter="url(#e05)"/><circle cx="1655.0" cy="735.0" r="4.9" fill="none" stroke="#5a5a5a" stroke-width="1.6" opacity="0.50" filter="url(#e05)"/><circle cx="1668.0" cy="745.0" r="4.3" fill="none" stroke="#5a5a5a" stroke-width="1.6" opacity="0.67" filter="url(#e05)"/><circle cx="1690.0" cy="722.0" r="5.5" fill="none" stroke="#5a5a5a" stroke-width="1.6" opacity="0.45" filter="url(#e05)"/><circle cx="1710.0" cy="720.0" r="5.0" fill="none" stroke="#5a5a5a" stroke-width="1.6" opacity="0.55" filter="url(#e05)"/><circle cx="1640.0" cy="770.0" r="6.0" fill="none" stroke="#5a5a5a" stroke-width="1.6" opacity="0.52" filter="url(#e05)"/><circle cx="1633.0" cy="800.0" r="4.6" fill="none" stroke="#5a5a5a" stroke-width="1.6" opacity="0.64" filter="url(#e05)"/><circle cx="1650.0" cy="850.0" r="4.7" fill="none" stroke="#5a5a5a" stroke-width="1.6" opacity="0.55" filter="url(#e05)"/><circle cx="1640.0" cy="880.0" r="5.6" fill="none" stroke="#5a5a5a" stroke-width="1.6" opacity="0.55" filter="url(#e05)"/><circle cx="1660.0" cy="905.0" r="4.2" fill="none" stroke="#5a5a5a" stroke-width="1.6" opacity="0.64" filter="url(#e05)"/><circle cx="1735.0" cy="935.0" r="4.2" fill="none" stroke="#5a5a5a" stroke-width="1.6" opacity="0.57" filter="url(#e05)"/><circle cx="1760.0" cy="920.0" r="4.4" fill="none" stroke="#5a5a5a" stroke-width="1.6" opacity="0.66" filter="url(#e05)"/><circle cx="1790.0" cy="905.0" r="4.9" fill="none" stroke="#5a5a5a" stroke-width="1.6" opacity="0.49" filter="url(#e05)"/><circle cx="1735" cy="759" r="1.8" fill="#111" opacity="0.8" filter="url(#e05)"/><circle cx="1782" cy="587" r="1.8" fill="#111" opacity="0.8" filter="url(#e05)"/><circle cx="1766" cy="583" r="2.1" fill="#111" opacity="0.8" filter="url(#e05)"/><circle cx="1757" cy="569" r="2.5" fill="#111" opacity="0.8" filter="url(#e05)"/><circle cx="1730" cy="597" r="2.0" fill="#111" opacity="0.8" filter="url(#e05)"/><circle cx="1719" cy="593" r="2.4" fill="#111" opacity="0.8" filter="url(#e05)"/><circle cx="1529" cy="615" r="2.2" fill="#111" opacity="0.8" filter="url(#e05)"/><circle cx="1625" cy="614" r="1.9" fill="#111" opacity="0.8" filter="url(#e05)"/><circle cx="1616" cy="691" r="2.2" fill="#111" opacity="0.8" filter="url(#e05)"/><circle cx="1644" cy="599" r="2.5" fill="#111" opacity="0.8" filter="url(#e05)"/><circle cx="1613" cy="870" r="2.3" fill="#111" opacity="0.8" filter="url(#e05)"/><circle cx="1549" cy="891" r="1.7" fill="#111" opacity="0.8" filter="url(#e05)"/><circle cx="1552" cy="903" r="2.5" fill="#111" opacity="0.8" filter="url(#e05)"/><circle cx="1459" cy="854" r="2.2" fill="#111" opacity="0.8" filter="url(#e05)"/><circle cx="1441" cy="915" r="1.7" fill="#111" opacity="0.8" filter="url(#e05)"/><circle cx="1730" cy="804" r="2.2" fill="#111" opacity="0.8" filter="url(#e05)"/><circle cx="1738" cy="812" r="2.5" fill="#111" opacity="0.8" filter="url(#e05)"/><circle cx="1903" cy="710" r="2.4" fill="#111" opacity="0.8" filter="url(#e05)"/><circle cx="1926" cy="583" r="2.6" fill="#111" opacity="0.8" filter="url(#e05)"/><circle cx="1995" cy="683" r="1.6" fill="#111" opacity="0.8" filter="url(#e05)"/><circle cx="1802" cy="627" r="1.9" fill="#111" opacity="0.8" filter="url(#e05)"/><circle cx="1771" cy="799" r="2.2" fill="#111" opacity="0.8" filter="url(#e05)"/><circle cx="1780" cy="833" r="2.2" fill="#111" opacity="0.8" filter="url(#e05)"/><circle cx="1716" cy="917" r="2.4" fill="#111" opacity="0.8" filter="url(#e05)"/><circle cx="1678" cy="916" r="2.5" fill="#111" opacity="0.8" filter="url(#e05)"/><circle cx="1788" cy="903" r="2.5" fill="#111" opacity="0.8" filter="url(#e05)"/><circle cx="1957" cy="846" r="1.7" fill="#111" opacity="0.8" filter="url(#e05)"/><circle cx="1484" cy="712" r="2.0" fill="#111" opacity="0.8" filter="url(#e05)"/><circle cx="1497" cy="701" r="1.8" fill="#111" opacity="0.8" filter="url(#e05)"/><circle cx="1528" cy="712" r="1.9" fill="#111" opacity="0.8" filter="url(#e05)"/><circle cx="1514" cy="722" r="2.5" fill="#111" opacity="0.8" filter="url(#e05)"/></g></g><text x="1702.5" y="749" font-size="30" font-weight="bold" fill="#e21f26" text-anchor="start" >SV</text><text x="1686.3" y="898.7" font-size="30" font-weight="bold" fill="#e21f26" text-anchor="start" >M</text><polygon points="1768,798 1762,819.6 1804.7,820.4" fill="#e21f26"/><rect x="1420.2" y="1039.8" width="580" height="24" fill="#000"/><path d="M1631.9,1052.3 H1708.3 M1633.3,1046.8 V1057.8 M1706.9,1046.8 V1057.8" stroke="#fff" stroke-width="2.6" fill="none"/><text x="1723.4" y="1057.2" font-size="17" font-weight="bold" fill="#fff" text-anchor="start" textLength="64.5" lengthAdjust="spacingAndGlyphs">200 nm</text><text x="36" y="1230" font-size="60" font-weight="bold" fill="#000" text-anchor="start" >D</text><rect x="124" y="1214" width="830.4" height="796" fill="#fff" stroke="#222" stroke-width="1.4"/><line x1="174.2" x2="933.8" y1="1341.0" y2="1341.0" stroke="#ebebeb" stroke-width="1"/><line x1="174.2" x2="933.8" y1="1534.5" y2="1534.5" stroke="#ebebeb" stroke-width="1"/><line x1="174.2" x2="933.8" y1="1728.0" y2="1728.0" stroke="#ebebeb" stroke-width="1"/><line x1="174.2" x2="933.8" y1="1921.5" y2="1921.5" stroke="#ebebeb" stroke-width="1"/><line y1="1237" y2="1973.8" x1="190.9" x2="190.9" stroke="#ebebeb" stroke-width="1"/><line y1="1237" y2="1973.8" x1="381.1" x2="381.1" stroke="#ebebeb" stroke-width="1"/><line y1="1237" y2="1973.8" x1="571.2" x2="571.2" stroke="#ebebeb" stroke-width="1"/><line y1="1237" y2="1973.8" x1="761.2" x2="761.2" stroke="#ebebeb" stroke-width="1"/><line x1="174.2" x2="933.8" y1="1244.3" y2="1244.3" stroke="#e4e4e4" stroke-width="1.9"/><line x1="174.2" x2="933.8" y1="1437.8" y2="1437.8" stroke="#e4e4e4" stroke-width="1.9"/><line x1="174.2" x2="933.8" y1="1631.3" y2="1631.3" stroke="#e4e4e4" stroke-width="1.9"/><line x1="174.2" x2="933.8" y1="1824.8" y2="1824.8" stroke="#e4e4e4" stroke-width="1.9"/><line y1="1237" y2="1973.8" x1="286.0" x2="286.0" stroke="#e4e4e4" stroke-width="1.9"/><line y1="1237" y2="1973.8" x1="476.1" x2="476.1" stroke="#e4e4e4" stroke-width="1.9"/><line y1="1237" y2="1973.8" x1="666.2" x2="666.2" stroke="#e4e4e4" stroke-width="1.9"/><line y1="1237" y2="1973.8" x1="856.3" x2="856.3" stroke="#e4e4e4" stroke-width="1.9"/><text x="164" y="1252.0" font-size="27.6" font-weight="bold" fill="#a9acae" text-anchor="end" >6</text><text x="164" y="1445.5" font-size="27.6" font-weight="bold" fill="#a9acae" text-anchor="end" >3</text><text x="164" y="1639.0" font-size="27.6" font-weight="bold" fill="#a9acae" text-anchor="end" >0</text><text x="164" y="1832.5" font-size="27.6" font-weight="bold" fill="#a9acae" text-anchor="end" >-3</text><text x="287.9" y="2003.5" font-size="27.6" font-weight="bold" fill="#a9acae" text-anchor="middle" >5</text><text x="478.0" y="2003.5" font-size="27.6" font-weight="bold" fill="#a9acae" text-anchor="middle" >10</text><text x="668.1" y="2003.5" font-size="27.6" font-weight="bold" fill="#a9acae" text-anchor="middle" >15</text><text x="858.2" y="2003.5" font-size="27.6" font-weight="bold" fill="#a9acae" text-anchor="middle" >20</text><polygon points="237.3,1682.9 235.8,1582.9 239.6,1563.6 253.7,1547.5 278.4,1547.5 297.4,1561.6 320.2,1577.1 578.8,1578.4 590.2,1592.6 595.9,1631.3 590.2,1676.5 578.8,1685.5 324.0,1685.5 293.6,1689.3 263.2,1689.3" fill="#000"/><path d="M239.3,1659.5h0M240.6,1662.3h0M233.4,1615.6h0M236.0,1598.2h0M237.5,1670.2h0M238.6,1639.6h0M238.3,1658.5h0M234.8,1588.0h0M235.9,1675.8h0M237.7,1592.3h0M234.8,1602.4h0M236.7,1662.2h0M236.1,1681.1h0M237.3,1621.6h0M236.8,1667.2h0M235.4,1605.8h0M237.7,1628.5h0M239.1,1653.4h0M239.5,1591.0h0M238.6,1613.6h0M236.0,1594.4h0M232.9,1612.3h0M237.9,1650.4h0M236.5,1672.2h0M237.5,1597.7h0M237.3,1591.3h0M237.5,1663.3h0M237.6,1615.9h0M233.4,1673.1h0M237.5,1601.4h0M236.1,1663.1h0M238.2,1627.6h0M236.4,1611.5h0M231.3,1602.0h0M234.6,1604.6h0M237.2,1666.2h0M235.6,1609.0h0M235.5,1612.0h0M239.5,1634.5h0M236.8,1656.1h0M238.9,1677.5h0M238.0,1662.9h0M235.8,1669.2h0M236.5,1638.7h0M240.2,1634.1h0M233.3,1582.7h0M237.2,1577.8h0M237.6,1576.4h0M232.9,1571.0h0M236.7,1574.7h0M241.1,1569.0h0M241.0,1566.7h0M237.5,1574.8h0M243.1,1558.9h0M245.5,1554.5h0M240.9,1559.7h0M240.9,1565.0h0M244.5,1562.5h0M245.8,1554.6h0M238.4,1555.2h0M245.7,1548.8h0M251.1,1554.2h0M254.5,1547.3h0M260.4,1547.3h0M276.7,1547.0h0M280.7,1548.0h0M264.4,1547.1h0M273.2,1544.7h0M272.7,1548.4h0M255.4,1548.8h0M272.9,1547.7h0M269.6,1546.8h0M257.5,1548.6h0M284.9,1551.8h0M299.6,1559.8h0M278.8,1548.6h0M290.6,1554.6h0M286.9,1547.7h0M282.1,1549.8h0M283.3,1550.5h0M283.6,1554.0h0M279.7,1545.4h0M279.3,1551.1h0M299.2,1558.5h0M310.9,1573.7h0M316.9,1578.9h0M321.4,1575.0h0M315.8,1578.6h0M319.1,1575.0h0M321.8,1579.4h0M314.5,1572.8h0M312.8,1570.8h0M319.6,1571.5h0M309.0,1570.2h0M313.9,1573.3h0M550.6,1577.1h0M478.1,1577.1h0M469.7,1577.9h0M354.2,1577.3h0M556.2,1579.6h0M472.1,1578.1h0M440.7,1581.3h0M561.0,1578.0h0M432.4,1578.6h0M574.5,1577.9h0M409.7,1574.3h0M543.3,1580.0h0M399.2,1577.6h0M393.0,1577.8h0M436.6,1579.9h0M524.8,1580.9h0M336.9,1579.1h0M444.4,1578.1h0M507.2,1578.5h0M518.1,1577.3h0M450.9,1577.5h0M334.7,1577.2h0M568.7,1579.7h0M554.6,1580.5h0M390.3,1577.4h0M530.6,1571.6h0M541.9,1574.2h0M542.2,1576.0h0M370.0,1577.1h0M561.6,1580.0h0M401.6,1579.3h0M326.8,1576.6h0M484.7,1574.5h0M405.9,1578.0h0M380.3,1576.5h0M489.1,1576.6h0M351.1,1579.4h0M569.7,1578.0h0M475.6,1578.7h0M357.8,1579.4h0M513.9,1579.1h0M347.7,1575.7h0M418.8,1580.3h0M335.5,1574.4h0M393.4,1575.7h0M403.4,1578.2h0M366.7,1577.0h0M476.5,1575.2h0M429.6,1579.1h0M519.8,1580.4h0M404.8,1580.7h0M393.9,1575.4h0M447.5,1575.0h0M435.0,1577.6h0M367.0,1575.8h0M375.8,1575.0h0M374.8,1578.9h0M458.9,1575.0h0M524.0,1580.3h0M449.8,1578.4h0M524.7,1579.5h0M538.8,1579.9h0M521.6,1575.7h0M485.5,1579.3h0M404.2,1581.7h0M366.6,1576.0h0M351.9,1580.9h0M535.9,1576.8h0M543.0,1581.2h0M374.2,1577.8h0M533.7,1577.8h0M568.4,1577.4h0M358.3,1580.3h0M425.0,1578.5h0M491.4,1578.4h0M575.2,1579.3h0M552.5,1577.7h0M411.5,1579.9h0M452.4,1573.7h0M568.8,1578.0h0M575.7,1577.1h0M537.0,1577.8h0M566.9,1576.0h0M340.7,1577.1h0M549.6,1576.6h0M385.7,1575.6h0M566.6,1578.8h0M347.4,1583.5h0M514.2,1578.4h0M479.7,1578.6h0M366.9,1581.9h0M548.3,1573.2h0M507.6,1581.4h0M322.0,1574.3h0M414.3,1577.7h0M526.1,1576.9h0M507.0,1575.5h0M451.5,1581.1h0M329.7,1577.1h0M549.8,1578.7h0M432.9,1577.4h0M340.0,1577.6h0M349.3,1576.1h0M551.5,1575.1h0M359.7,1580.5h0M324.9,1573.6h0M530.7,1576.5h0M328.5,1579.1h0M523.3,1577.9h0M380.4,1578.2h0M443.9,1582.1h0M384.7,1579.5h0M419.5,1577.1h0M510.1,1577.8h0M351.8,1578.1h0M536.8,1579.2h0M491.3,1572.4h0M583.2,1577.6h0M580.3,1579.0h0M588.9,1588.9h0M596.0,1593.1h0M586.5,1589.8h0M585.3,1586.8h0M577.4,1586.0h0M581.1,1582.2h0M588.3,1596.1h0M594.3,1618.6h0M594.9,1600.5h0M589.2,1591.0h0M592.8,1628.1h0M596.6,1627.5h0M593.6,1617.4h0M592.4,1596.1h0M592.3,1605.7h0M591.9,1603.7h0M594.2,1618.0h0M596.2,1617.8h0M591.7,1596.1h0M594.9,1623.8h0M589.2,1607.7h0M597.7,1621.9h0M596.0,1619.9h0M591.2,1663.5h0M589.4,1664.6h0M597.2,1662.1h0M591.7,1654.6h0M592.0,1657.4h0M594.5,1659.9h0M591.4,1665.8h0M594.3,1631.0h0M592.8,1638.3h0M591.8,1649.5h0M592.3,1662.6h0M596.4,1641.6h0M594.2,1642.2h0M587.0,1671.6h0M591.8,1657.0h0M590.9,1669.2h0M597.0,1631.9h0M591.6,1660.1h0M594.0,1645.7h0M594.2,1646.6h0M576.9,1683.0h0M588.5,1675.2h0M580.8,1680.7h0M585.9,1680.0h0M580.1,1680.9h0M582.1,1680.4h0M352.3,1686.7h0M539.4,1685.4h0M503.7,1684.1h0M454.9,1687.6h0M405.7,1686.6h0M339.4,1683.6h0M398.6,1683.1h0M363.8,1681.8h0M349.8,1689.9h0M354.1,1685.0h0M392.7,1683.4h0M467.9,1686.8h0M544.8,1684.5h0M502.4,1680.9h0M478.1,1684.6h0M558.7,1683.4h0M364.9,1684.0h0M550.0,1685.2h0M344.7,1680.4h0M451.0,1686.7h0M375.6,1686.8h0M505.1,1687.7h0M558.2,1685.4h0M411.5,1685.7h0M506.7,1681.7h0M497.4,1688.4h0M384.0,1686.7h0M493.5,1688.9h0M521.3,1684.5h0M472.3,1687.8h0M545.4,1687.3h0M413.6,1682.1h0M450.4,1685.4h0M517.2,1684.9h0M371.3,1683.9h0M441.5,1688.7h0M562.9,1682.2h0M557.8,1683.5h0M412.2,1686.7h0M368.4,1686.9h0M466.0,1684.0h0M357.7,1688.9h0M390.3,1684.8h0M547.9,1684.9h0M386.0,1686.5h0M330.1,1684.6h0M567.3,1688.2h0M394.4,1690.2h0M450.8,1687.1h0M329.6,1682.0h0M421.5,1685.0h0M370.3,1684.1h0M564.8,1683.0h0M577.8,1684.5h0M463.0,1682.8h0M332.9,1686.2h0M489.6,1686.5h0M562.8,1687.7h0M387.1,1685.0h0M371.8,1689.4h0M364.7,1682.2h0M365.7,1686.8h0M548.6,1685.1h0M494.2,1689.2h0M481.3,1684.8h0M393.4,1688.3h0M388.9,1688.2h0M447.0,1686.0h0M425.3,1687.2h0M480.4,1681.7h0M436.3,1679.3h0M347.7,1689.1h0M524.8,1688.7h0M408.0,1684.4h0M576.9,1687.7h0M467.9,1687.5h0M337.8,1685.6h0M538.1,1688.0h0M454.9,1691.8h0M504.9,1683.1h0M557.0,1685.2h0M518.2,1690.1h0M422.7,1684.3h0M544.6,1682.6h0M561.6,1686.3h0M444.8,1682.5h0M552.4,1688.2h0M409.9,1686.1h0M453.5,1684.6h0M347.3,1687.6h0M345.7,1682.1h0M494.8,1684.7h0M560.7,1687.7h0M437.0,1687.4h0M376.3,1684.0h0M575.7,1685.6h0M348.6,1682.8h0M435.0,1683.3h0M567.1,1686.7h0M387.2,1689.0h0M420.5,1689.3h0M360.5,1684.6h0M483.8,1685.7h0M563.7,1686.6h0M355.8,1686.3h0M570.4,1685.1h0M377.5,1687.0h0M571.1,1685.8h0M479.4,1682.4h0M436.3,1686.1h0M447.2,1690.5h0M415.9,1683.2h0M522.8,1686.5h0M500.9,1683.9h0M524.4,1685.6h0M315.9,1688.3h0M299.1,1689.0h0M310.8,1685.1h0M300.5,1686.7h0M322.3,1680.7h0M297.4,1688.6h0M296.4,1693.8h0M313.0,1687.3h0M318.8,1687.9h0M306.9,1686.8h0M321.2,1685.3h0M313.8,1690.0h0M306.7,1686.8h0M267.7,1689.1h0M271.9,1690.3h0M289.4,1690.2h0M265.6,1687.1h0M267.5,1690.0h0M271.6,1687.5h0M274.4,1688.1h0M278.4,1687.4h0M285.9,1690.4h0M294.4,1688.2h0M286.0,1684.7h0M285.1,1690.5h0M289.1,1689.4h0M242.4,1684.3h0M258.1,1690.7h0M238.9,1682.6h0M246.4,1684.9h0M242.7,1682.8h0M250.4,1686.6h0M245.5,1685.4h0M238.6,1682.3h0M245.1,1682.6h0M254.5,1688.7h0M256.7,1687.1h0M241.0,1682.2h0M224.0,1709.0h0M222.6,1697.3h0M255.6,1684.3h0M244.7,1740.3h0M276.2,1719.6h0M228.1,1724.1h0M260.1,1694.3h0M257.6,1720.8h0M260.6,1692.9h0M305.0,1685.2h0M288.0,1689.3h0M238.5,1701.1h0M273.5,1724.4h0M243.1,1686.3h0M280.2,1707.9h0M266.0,1713.6h0M227.3,1717.2h0M271.8,1715.1h0M323.3,1684.7h0M232.6,1699.9h0M286.7,1709.1h0M267.8,1685.4h0M251.1,1693.6h0M226.3,1725.1h0M226.9,1710.7h0M228.2,1710.8h0M259.8,1732.9h0M256.7,1715.5h0M246.7,1694.6h0M244.5,1691.1h0M250.0,1691.7h0M255.6,1686.9h0M249.4,1732.3h0M324.6,1683.6h0M241.0,1685.3h0M272.7,1684.9h0M248.5,1698.3h0M294.7,1697.2h0M277.7,1710.9h0M237.1,1699.2h0M270.5,1701.0h0M237.0,1722.5h0M282.5,1700.1h0M290.2,1708.2h0M285.2,1698.2h0M234.2,1697.9h0M250.3,1688.1h0M240.2,1735.5h0M224.0,1695.0h0M290.7,1689.3h0M248.0,1686.3h0M251.8,1683.7h0M285.7,1696.0h0M261.7,1709.2h0M240.3,1683.5h0M247.2,1689.5h0M258.4,1692.5h0M255.2,1692.2h0M238.4,1683.1h0M238.1,1694.9h0M247.9,1713.2h0M227.4,1699.4h0M271.0,1689.8h0M263.9,1697.1h0M260.3,1686.2h0M246.4,1723.2h0M301.8,1694.9h0M233.3,1689.0h0M264.8,1690.4h0M265.6,1717.6h0M262.1,1714.8h0M306.8,1687.3h0M238.7,1733.2h0M280.0,1692.8h0M252.6,1714.5h0M242.4,1684.4h0M251.1,1714.2h0M232.5,1691.8h0M319.4,1689.2h0M279.8,1708.8h0M246.0,1702.5h0M303.8,1686.2h0M257.3,1690.8h0M262.2,1703.6h0M279.0,1701.8h0M263.7,1715.8h0M288.0,1685.8h0M307.2,1695.5h0M243.7,1683.0h0M273.3,1699.2h0M238.1,1704.2h0M298.1,1705.8h0M222.7,1684.9h0M234.8,1721.4h0M228.0,1707.4h0M259.8,1691.0h0M245.1,1683.8h0M278.8,1706.1h0M240.7,1685.4h0M245.0,1699.1h0M247.0,1684.9h0M229.3,1694.2h0M263.9,1688.8h0M279.7,1701.6h0M223.8,1684.3h0M228.7,1692.8h0M277.4,1697.2h0M280.9,1695.2h0M263.8,1694.2h0M249.5,1708.3h0M281.1,1693.2h0M269.1,1696.7h0M236.2,1693.9h0M285.4,1691.7h0M299.7,1688.0h0M232.3,1727.8h0M231.2,1683.5h0M224.9,1704.7h0M298.7,1691.8h0M233.7,1694.8h0M257.5,1695.1h0M266.0,1709.2h0M222.7,1710.3h0M259.5,1685.4h0M251.8,1720.3h0M277.1,1720.3h0M271.3,1684.0h0M228.6,1736.5h0M231.5,1715.6h0M232.4,1731.6h0M238.9,1698.3h0M263.1,1686.9h0M263.0,1713.8h0M250.0,1684.2h0M239.5,1683.1h0M261.2,1698.7h0M300.4,1697.2h0M243.0,1737.8h0M234.2,1684.5h0M238.0,1736.3h0M240.8,1684.2h0M276.8,1716.8h0M223.3,1688.7h0M256.6,1737.0h0M260.9,1722.1h0M293.1,1689.9h0M259.7,1712.5h0M266.6,1711.1h0M232.9,1694.1h0M250.6,1688.3h0M283.7,1702.5h0M241.3,1683.1h0M227.7,1689.8h0M240.1,1687.0h0M274.6,1705.1h0M292.4,1690.8h0M281.1,1685.6h0M264.6,1690.7h0M273.3,1693.2h0M253.7,1685.4h0M226.6,1695.4h0M248.9,1686.7h0M271.2,1692.0h0M299.4,1693.4h0M272.2,1696.9h0M262.4,1683.2h0M239.0,1690.3h0M285.7,1683.9h0M259.3,1700.3h0M254.5,1695.2h0M243.6,1565.8h0M244.2,1562.2h0M233.6,1552.0h0M261.3,1561.1h0M231.1,1549.7h0M249.6,1556.4h0M261.6,1552.4h0M257.6,1554.1h0M253.1,1538.0h0M261.8,1552.4h0M234.6,1549.4h0M232.3,1558.2h0M263.0,1545.9h0M224.0,1566.3h0M241.8,1565.9h0M238.7,1565.8h0M242.2,1554.8h0M238.2,1549.2h0M254.1,1560.1h0M241.3,1526.7h0M258.1,1559.5h0M252.7,1552.2h0M258.9,1536.1h0M244.3,1562.2h0M261.7,1559.8h0M254.8,1565.4h0M236.9,1514.7h0M262.8,1564.5h0M252.8,1559.9h0M229.9,1563.3h0M235.1,1625.0h0M231.1,1668.4h0M235.2,1619.4h0M234.1,1593.1h0M233.0,1684.1h0M236.2,1673.5h0M234.8,1624.0h0M235.9,1605.1h0M234.3,1581.8h0M235.9,1588.3h0M235.7,1627.2h0M228.0,1610.3h0M233.7,1611.6h0M235.9,1660.9h0M234.8,1649.3h0M235.0,1601.9h0M226.8,1645.0h0M232.8,1611.2h0M224.8,1696.2h0M231.5,1583.7h0M235.6,1664.8h0M232.3,1627.7h0M229.9,1609.2h0M231.0,1672.3h0M232.3,1575.6h0M231.5,1567.9h0M228.8,1595.6h0M231.6,1612.8h0M234.5,1657.8h0M236.0,1589.8h0M228.1,1571.8h0M233.0,1642.9h0M234.7,1657.6h0M231.6,1572.6h0M234.9,1648.7h0M236.0,1606.1h0M230.3,1699.9h0M232.7,1612.8h0M233.2,1647.7h0M233.8,1700.2h0M234.4,1641.2h0M229.6,1643.8h0M226.7,1688.7h0M236.4,1616.0h0M232.9,1612.9h0M234.2,1574.9h0M232.2,1575.7h0M234.0,1606.3h0M230.1,1655.0h0M233.3,1601.1h0M235.7,1691.1h0M234.5,1640.6h0M234.9,1563.3h0M229.9,1665.9h0M231.6,1620.0h0M234.7,1681.7h0M233.4,1681.2h0M235.6,1624.3h0M234.0,1600.0h0M234.1,1603.5h0M231.3,1693.8h0M231.6,1585.0h0M230.6,1667.4h0M230.3,1621.7h0M231.4,1577.6h0M229.0,1563.1h0M228.8,1685.3h0M233.4,1674.5h0M236.4,1598.5h0M233.6,1642.2h0M225.0,1611.6h0M229.9,1690.1h0M236.5,1676.8h0M231.2,1606.5h0M228.2,1568.8h0M231.7,1675.8h0M227.0,1680.3h0M236.3,1696.2h0M235.6,1641.9h0M229.0,1701.6h0M228.9,1634.9h0M223.9,1625.7h0M233.1,1600.9h0M231.6,1597.3h0M235.2,1630.4h0M234.4,1630.2h0M231.1,1695.2h0M230.0,1699.8h0M235.4,1634.2h0M231.1,1665.6h0M236.3,1576.0h0M232.5,1583.8h0M232.8,1646.4h0M234.6,1671.1h0M232.3,1619.6h0M232.3,1602.3h0M234.9,1605.3h0M236.1,1669.4h0M236.6,1639.5h0M236.1,1697.5h0M236.3,1688.8h0M232.8,1598.0h0M234.8,1692.8h0M233.5,1609.2h0M230.8,1682.5h0M230.0,1583.6h0M228.4,1625.0h0M234.8,1595.2h0M231.6,1686.7h0M236.2,1643.5h0M612.8,1642.9h0M605.8,1615.7h0M604.2,1621.7h0M615.4,1583.2h0M643.7,1656.9h0M645.0,1597.4h0M626.0,1607.3h0M632.3,1649.6h0M651.6,1631.2h0M612.8,1619.8h0M615.3,1654.3h0M593.9,1647.0h0M621.1,1642.8h0M609.0,1640.3h0M626.5,1652.3h0M632.9,1640.2h0M609.8,1590.6h0M607.9,1630.7h0M605.8,1610.5h0M608.0,1661.2h0M625.0,1633.8h0M598.1,1614.4h0M601.5,1615.9h0M594.8,1607.6h0M641.0,1616.6h0M607.5,1592.1h0M594.1,1668.3h0M641.4,1630.2h0M607.7,1606.5h0M613.6,1624.0h0M593.9,1680.8h0M623.3,1668.4h0M609.9,1648.8h0M591.7,1625.2h0M606.3,1577.9h0M642.0,1609.0h0M616.6,1614.7h0M615.2,1601.0h0M618.0,1631.9h0M607.6,1628.1h0M616.5,1648.7h0M605.9,1644.2h0M591.8,1622.1h0M614.6,1668.7h0M603.7,1627.4h0M601.7,1640.0h0M594.3,1661.7h0M609.7,1661.9h0M631.6,1590.0h0M616.1,1647.5h0M608.8,1637.8h0M596.8,1664.0h0M604.5,1620.1h0M612.4,1635.5h0M591.6,1674.7h0M612.0,1631.9h0M596.4,1588.0h0M606.4,1685.3h0M604.8,1634.3h0M608.3,1581.1h0M602.7,1657.7h0M627.6,1611.7h0M631.5,1620.3h0M602.5,1635.4h0M596.5,1615.1h0M617.0,1648.3h0M634.5,1636.7h0M625.0,1633.4h0M611.3,1652.4h0M619.7,1623.5h0M665.5,1681.3h0M595.6,1619.4h0M595.4,1586.7h0M618.6,1647.9h0M592.4,1649.4h0M634.3,1606.5h0M602.5,1619.4h0M595.2,1628.1h0M629.3,1583.4h0M612.3,1644.4h0M639.0,1623.8h0M590.8,1630.8h0M625.7,1667.7h0M614.2,1605.5h0M617.1,1632.9h0M620.6,1640.8h0M652.7,1644.5h0M618.1,1605.4h0M638.6,1613.8h0M596.8,1612.3h0M610.6,1602.2h0M596.3,1651.2h0M608.3,1610.6h0M603.2,1620.6h0M592.2,1605.4h0M593.8,1663.6h0M597.7,1633.4h0M613.0,1596.3h0M596.1,1665.6h0M621.4,1639.5h0M621.3,1682.4h0M614.4,1652.8h0M623.2,1644.0h0M595.2,1613.0h0M614.2,1623.0h0M633.3,1663.9h0M621.7,1616.8h0M609.5,1644.9h0M599.9,1631.7h0M591.2,1647.1h0M602.8,1636.6h0M598.1,1611.5h0M598.1,1609.8h0M601.4,1641.6h0M628.2,1630.1h0M638.2,1617.0h0M597.0,1643.4h0M603.8,1604.0h0M595.2,1614.5h0M623.0,1635.3h0M596.9,1677.0h0M620.7,1670.3h0M596.1,1646.7h0M644.8,1639.6h0M612.6,1611.5h0M603.0,1635.7h0M594.0,1649.3h0M605.5,1683.5h0M606.4,1613.1h0M595.4,1629.5h0M592.8,1609.3h0M601.2,1604.5h0M657.9,1607.9h0M603.7,1627.3h0M669.2,1581.9h0M653.6,1608.3h0M593.1,1614.2h0M653.4,1658.5h0M640.0,1607.1h0M600.0,1633.6h0M591.8,1625.3h0M610.5,1598.7h0M625.0,1618.3h0M598.4,1615.1h0M599.3,1641.8h0M633.0,1653.1h0M602.4,1643.7h0M619.7,1607.6h0M633.2,1577.9h0M639.4,1611.9h0M597.1,1646.0h0M611.8,1645.7h0M604.6,1601.0h0M600.7,1620.3h0M633.4,1643.0h0M639.0,1639.7h0M624.2,1615.1h0M620.1,1623.6h0M604.2,1627.5h0M601.6,1637.8h0M613.2,1615.2h0M596.2,1643.7h0M609.3,1661.6h0M590.8,1610.5h0M605.7,1645.1h0M595.7,1653.9h0M591.7,1621.4h0M636.9,1616.3h0M597.5,1664.3h0M606.8,1668.3h0M620.0,1620.3h0M606.5,1627.3h0M596.7,1614.6h0M591.6,1636.7h0M598.0,1629.1h0M650.0,1628.8h0M616.0,1637.7h0M594.6,1629.1h0M594.0,1631.3h0M630.5,1628.8h0M597.4,1612.2h0M622.5,1608.7h0M630.6,1647.1h0M603.4,1676.4h0M605.1,1609.5h0M609.4,1625.1h0M590.4,1617.1h0M614.8,1643.1h0M595.3,1617.7h0M644.8,1612.0h0M640.2,1588.9h0M600.6,1671.4h0M613.4,1638.7h0M633.8,1632.6h0M599.8,1610.9h0M600.5,1653.7h0M603.4,1646.8h0M600.9,1641.0h0M609.1,1629.4h0M606.7,1682.2h0M608.9,1606.0h0M637.8,1673.8h0M599.4,1616.4h0M615.1,1640.2h0M606.8,1640.7h0M611.5,1679.9h0M602.7,1618.9h0M599.8,1658.6h0M596.8,1630.8h0M601.7,1634.2h0M603.3,1625.6h0M633.3,1662.7h0M659.3,1587.2h0M611.5,1582.4h0M614.7,1634.1h0M609.6,1642.3h0M604.0,1664.3h0M607.4,1614.5h0M608.1,1645.7h0M600.1,1659.1h0M637.0,1628.6h0M621.6,1625.9h0M630.0,1605.1h0M594.9,1659.1h0M605.0,1608.8h0M596.7,1583.4h0M604.2,1606.5h0M635.6,1598.3h0M591.1,1606.0h0M607.1,1641.0h0M605.3,1643.6h0M612.2,1649.0h0M620.0,1622.1h0M631.2,1631.7h0M612.9,1627.3h0M607.4,1602.6h0M621.3,1665.2h0M621.9,1597.2h0M595.1,1633.6h0M606.8,1599.7h0M621.7,1610.5h0M614.1,1624.6h0M599.5,1586.9h0M617.9,1608.7h0M619.2,1621.8h0M618.0,1597.0h0M607.7,1589.0h0M591.9,1637.4h0M611.9,1580.0h0M612.1,1641.4h0M614.1,1663.9h0M595.9,1621.1h0M604.5,1641.7h0M635.8,1643.3h0M621.7,1640.7h0M630.2,1610.2h0M602.1,1658.4h0M608.2,1593.0h0M616.7,1581.1h0M643.2,1633.4h0M645.2,1661.4h0M605.6,1640.6h0M600.2,1617.3h0M623.5,1635.6h0M596.4,1640.1h0M596.8,1640.6h0M594.6,1635.5h0M598.9,1646.4h0M594.7,1659.1h0M593.3,1653.0h0M596.6,1614.7h0M618.9,1647.4h0M636.3,1632.3h0M630.8,1635.5h0M619.0,1649.9h0M602.4,1593.2h0M601.7,1597.0h0M636.2,1632.1h0M600.3,1646.8h0M645.6,1655.6h0M596.7,1604.3h0M625.2,1603.0h0M596.9,1636.9h0M613.7,1645.3h0M608.5,1638.9h0M616.4,1614.7h0M604.4,1605.2h0M621.4,1602.9h0M641.2,1632.3h0M595.5,1617.0h0M665.4,1621.9h0M608.0,1656.6h0M604.6,1632.3h0M611.9,1629.9h0M602.5,1634.2h0M597.5,1670.6h0M599.3,1605.0h0M596.8,1617.0h0M601.6,1620.8h0M666.3,1628.5h0M600.5,1670.4h0M612.5,1601.7h0M619.8,1664.5h0M615.8,1648.8h0M598.2,1650.4h0M606.6,1640.0h0M590.4,1636.0h0M609.6,1638.4h0M639.1,1599.8h0M612.3,1658.4h0M627.0,1638.0h0M619.1,1621.7h0M623.1,1648.0h0M618.7,1642.5h0M645.7,1658.4h0M590.8,1584.8h0M632.8,1611.2h0M605.8,1607.5h0M593.5,1603.1h0M601.4,1608.6h0M629.9,1606.9h0M590.3,1615.8h0M598.6,1608.3h0M595.3,1622.1h0M614.4,1635.6h0M591.5,1604.4h0M619.8,1610.4h0M641.1,1651.0h0M608.7,1666.3h0M640.3,1616.1h0M600.2,1651.4h0M602.1,1612.1h0M604.5,1581.5h0M593.7,1618.8h0M617.9,1656.6h0M595.8,1631.8h0M621.4,1676.7h0M592.3,1600.9h0M591.3,1603.5h0M592.0,1579.1h0M613.0,1631.5h0M641.2,1629.1h0M647.6,1626.1h0M609.7,1652.5h0M592.2,1616.3h0M631.3,1602.9h0M602.2,1603.4h0M618.9,1629.2h0M601.7,1641.6h0M595.9,1628.9h0M594.0,1620.7h0M593.9,1649.5h0M609.4,1609.1h0M612.1,1628.6h0M599.5,1636.8h0M615.5,1640.3h0M599.0,1648.0h0M598.2,1659.1h0M597.5,1626.1h0M642.4,1601.2h0M225.0,1500.5h0M230.0,1506.0h0M222.0,1512.0h0M233.0,1515.0h0M228.0,1522.0h0M240.0,1527.0h0M232.0,1535.0h0M236.0,1540.0h0M245.0,1548.0h0M250.0,1543.0h0M224.0,1494.0h0M241.0,1519.0h0M661.3,1578.1h0M732.4,1581.9h0M699.9,1585.3h0M705.8,1589.3h0M703.9,1594.6h0M690.6,1594.6h0M694.6,1600.0h0M718.0,1596.5h0M717.2,1601.8h0M734.0,1600.0h0M810.0,1605.6h0M671.9,1612.0h0M665.3,1619.2h0M687.1,1615.4h0M683.9,1617.8h0M708.2,1620.5h0M728.7,1621.3h0M733.2,1624.8h0M753.7,1628.0h0M758.5,1625.6h0M767.1,1628.5h0M746.3,1637.0h0M673.3,1633.6h0M664.7,1636.0h0M695.9,1639.7h0M706.0,1643.4h0M743.6,1653.0h0M746.6,1667.4h0M681.8,1661.0h0M688.4,1662.9h0M733.2,1674.6h0M719.6,1674.3h0M704.4,1674.0h0M706.6,1679.1h0M711.1,1682.0h0M665.3,1672.0h0M652.5,1685.3h0M642.6,1473.9h0M726.6,1505.0h0M722.6,1518.4h0M797.7,1537.8h0M578.1,1509.8h0M349.0,1516.0h0M493.0,1527.0h0M604.0,1527.0h0M208.0,1736.3h0M223.1,1745.7h0M283.1,1749.4h0M216.0,1675.8h0" stroke="#000" stroke-width="7.2" stroke-linecap="round" fill="none"/><path d="M580.6,1695.2h0M490.8,1706.1h0M527.8,1690.3h0M391.7,1690.0h0M319.8,1705.3h0M475.2,1700.0h0M532.6,1716.8h0M587.4,1697.7h0M639.3,1726.2h0M428.3,1692.6h0M580.7,1705.2h0M417.5,1691.8h0M458.6,1693.3h0M528.9,1704.3h0M323.8,1726.8h0M576.2,1709.7h0M519.6,1696.3h0M506.0,1708.6h0M305.5,1708.8h0M537.8,1686.9h0M582.4,1702.3h0M468.9,1721.5h0M486.9,1689.0h0M503.9,1722.4h0M488.9,1703.2h0M617.2,1694.3h0M408.2,1696.6h0M532.5,1689.6h0M393.6,1694.9h0M654.6,1722.7h0M512.3,1734.2h0M588.8,1723.6h0M650.4,1754.7h0M440.2,1699.5h0M578.7,1700.5h0M305.2,1715.8h0M477.3,1707.3h0M389.0,1693.9h0M517.3,1697.7h0M320.1,1708.4h0M592.8,1701.4h0M454.2,1731.3h0M582.0,1698.8h0M589.3,1728.7h0M542.6,1689.6h0M356.1,1715.3h0M384.6,1686.9h0M460.2,1716.7h0M596.7,1717.7h0M572.6,1688.5h0M564.6,1692.3h0M636.9,1696.4h0M331.4,1693.0h0M560.5,1710.4h0M450.8,1688.3h0M448.3,1691.8h0M531.9,1718.8h0M335.3,1692.1h0M471.3,1689.7h0M492.9,1692.1h0M534.8,1696.7h0M427.0,1730.1h0M353.5,1724.0h0M373.9,1689.3h0M436.5,1693.0h0M603.8,1686.9h0M487.5,1692.4h0M337.8,1726.8h0M395.6,1715.6h0M513.4,1691.7h0M537.9,1693.6h0M299.6,1732.9h0M568.9,1692.6h0M328.6,1691.4h0M423.8,1695.4h0M543.1,1690.3h0M456.9,1692.6h0M560.7,1695.7h0M370.5,1696.7h0M524.3,1691.7h0M605.0,1711.8h0M616.8,1690.5h0M383.1,1689.4h0M524.2,1702.9h0M492.4,1729.9h0M402.1,1738.8h0M388.7,1693.6h0M350.0,1697.4h0M555.2,1714.2h0M515.5,1693.8h0M381.9,1733.3h0M474.1,1687.4h0M507.7,1703.1h0M448.4,1688.5h0M602.0,1702.3h0M471.3,1692.9h0M557.0,1711.9h0M368.8,1716.5h0M593.4,1691.2h0M398.2,1690.2h0M301.8,1739.9h0M553.0,1695.6h0M418.6,1705.5h0M638.9,1693.9h0M409.4,1716.3h0M600.9,1696.5h0M471.1,1744.1h0M333.1,1705.2h0M506.6,1717.5h0M432.3,1687.3h0M495.1,1698.6h0M418.5,1698.2h0M480.2,1693.0h0M509.7,1694.2h0M485.4,1723.1h0M521.3,1720.6h0M305.4,1701.8h0M446.9,1731.4h0M319.5,1699.4h0M494.3,1689.3h0M563.4,1702.3h0M358.9,1691.6h0M397.4,1710.1h0M327.0,1691.7h0M383.4,1693.9h0M531.2,1708.2h0M506.9,1700.5h0M354.7,1709.6h0M534.7,1710.1h0M539.4,1718.1h0M633.6,1715.6h0M359.3,1697.1h0M304.9,1703.1h0M414.5,1692.8h0M413.8,1701.5h0M519.6,1696.4h0M479.6,1719.1h0M600.3,1691.7h0M301.0,1724.5h0M481.0,1706.1h0M585.6,1699.8h0M599.3,1707.5h0M408.6,1727.1h0M469.9,1699.9h0M534.9,1694.9h0M477.5,1716.8h0M547.9,1709.3h0M596.6,1701.4h0M439.4,1690.2h0M380.6,1690.6h0M448.8,1697.8h0M653.1,1715.8h0M363.4,1727.4h0M347.8,1695.0h0M406.0,1692.9h0M396.3,1691.9h0M334.7,1697.5h0M323.9,1688.7h0M444.0,1714.2h0M395.7,1702.7h0M590.8,1723.8h0M589.2,1687.4h0M388.0,1700.9h0M534.0,1694.5h0M574.9,1687.6h0M583.3,1699.5h0M337.5,1693.4h0M562.9,1699.9h0M397.9,1693.1h0M460.5,1689.9h0M555.7,1693.6h0M331.6,1687.6h0M316.4,1716.5h0M344.2,1719.6h0M593.3,1688.0h0M360.0,1692.7h0M546.8,1690.5h0M514.2,1703.3h0M510.7,1692.0h0M348.7,1697.7h0M350.7,1688.6h0M427.0,1706.5h0M536.2,1689.4h0M450.6,1699.2h0M561.2,1715.4h0M664.5,1704.0h0M525.7,1698.3h0M347.7,1704.4h0M325.1,1688.4h0M551.4,1695.3h0M343.7,1713.4h0M587.6,1689.5h0M400.0,1706.3h0M447.0,1693.5h0M416.5,1701.5h0M594.6,1688.4h0M525.7,1725.1h0M406.5,1709.0h0M459.5,1693.3h0M380.0,1692.8h0M534.7,1703.7h0M390.9,1694.2h0M374.3,1691.1h0M425.0,1686.8h0M513.4,1714.1h0M549.6,1686.9h0M502.5,1688.7h0M488.1,1692.5h0M536.8,1736.2h0M471.8,1688.5h0M370.5,1699.6h0M437.5,1694.8h0M369.3,1698.3h0M300.8,1711.5h0M538.4,1722.8h0M367.8,1717.5h0M345.3,1710.0h0M307.0,1750.4h0M335.1,1706.6h0M445.9,1694.7h0M402.6,1717.4h0M663.7,1713.2h0M349.2,1701.9h0M605.4,1701.4h0M504.4,1737.6h0M330.7,1704.6h0M405.0,1689.0h0M372.6,1725.7h0M340.9,1714.7h0M499.5,1693.7h0M413.5,1694.7h0M402.1,1696.6h0M430.9,1703.0h0M582.1,1695.0h0M515.7,1715.4h0M306.5,1703.6h0M423.1,1693.8h0M516.9,1695.6h0M481.4,1703.2h0M439.8,1712.1h0M551.2,1693.5h0M409.5,1689.6h0M578.9,1703.6h0M418.5,1705.2h0M565.4,1695.6h0M427.5,1696.0h0M341.1,1691.5h0M403.0,1697.5h0M506.7,1687.9h0M444.3,1697.3h0M464.8,1707.0h0M553.1,1701.3h0M447.9,1698.4h0M463.2,1691.4h0M606.6,1687.0h0M409.8,1727.2h0M437.5,1728.0h0M528.3,1703.3h0M469.5,1696.7h0M574.2,1693.2h0M355.6,1740.4h0M537.9,1709.8h0M565.0,1710.0h0M559.7,1720.1h0M448.0,1690.1h0M404.3,1690.1h0M573.0,1694.6h0M589.4,1735.7h0M613.2,1696.2h0M340.6,1699.0h0M489.8,1689.7h0M364.4,1742.7h0M548.6,1730.1h0M340.3,1701.2h0M395.8,1689.0h0M371.2,1697.4h0M548.3,1689.8h0M516.9,1702.5h0M578.5,1704.5h0M415.7,1699.2h0M547.2,1708.8h0M478.3,1688.8h0M401.4,1745.2h0M508.8,1705.1h0M460.0,1703.8h0M352.8,1733.8h0M584.6,1697.9h0M452.6,1705.6h0M460.1,1698.8h0M306.5,1719.6h0M384.5,1716.1h0M585.6,1698.8h0M326.9,1695.3h0M450.0,1694.2h0M356.1,1689.5h0M535.6,1754.0h0M394.0,1691.1h0M326.1,1689.9h0M458.7,1693.2h0M381.7,1723.0h0M468.0,1702.7h0M511.5,1695.7h0M593.7,1705.2h0M413.5,1699.9h0M596.9,1699.9h0M297.6,1715.3h0M572.1,1688.0h0M405.4,1702.0h0M394.5,1701.5h0M583.0,1705.9h0M496.9,1757.9h0M418.4,1691.7h0M397.8,1690.0h0M349.2,1697.5h0M381.2,1696.4h0M454.0,1745.2h0M604.2,1699.4h0M445.0,1707.3h0M480.1,1700.8h0M472.1,1707.3h0M324.6,1690.5h0M463.7,1700.7h0M439.6,1703.4h0M477.6,1715.5h0M561.3,1726.5h0M536.0,1687.5h0M472.6,1695.7h0M569.9,1690.7h0M410.3,1702.6h0M361.7,1706.1h0M560.5,1710.8h0M392.8,1722.5h0M462.2,1705.3h0M316.1,1717.8h0M361.0,1687.8h0M646.7,1698.0h0M507.3,1702.8h0M465.4,1691.0h0M658.9,1700.0h0M501.5,1690.2h0M660.5,1716.5h0M444.1,1711.1h0M409.2,1753.4h0M549.9,1729.0h0M500.4,1704.8h0M366.5,1710.2h0M455.2,1700.0h0M343.3,1698.3h0M349.2,1702.0h0M567.4,1698.6h0M306.8,1706.1h0M524.9,1702.6h0M352.7,1700.8h0M444.2,1732.8h0M532.4,1698.2h0M379.0,1693.2h0M425.7,1694.4h0M590.2,1691.9h0M380.8,1693.6h0M318.1,1720.5h0M535.1,1693.6h0M609.8,1710.7h0M514.3,1710.1h0M594.8,1688.8h0M348.5,1690.9h0M592.4,1703.8h0M442.6,1695.2h0M354.0,1696.1h0M504.0,1705.8h0M418.5,1705.2h0M403.0,1719.0h0M326.7,1687.2h0M421.3,1695.8h0M370.2,1701.2h0M620.1,1706.1h0M374.6,1694.1h0M599.4,1687.6h0M347.1,1688.0h0M488.4,1693.3h0M465.5,1708.3h0M527.6,1705.3h0M548.2,1697.1h0M451.2,1709.6h0M504.2,1735.7h0M354.4,1758.6h0M394.9,1693.9h0M365.7,1698.7h0M485.6,1713.1h0M404.3,1718.8h0M649.5,1687.5h0M461.6,1758.8h0M567.0,1720.8h0M541.5,1713.6h0M637.7,1687.4h0M324.0,1741.3h0M542.8,1705.0h0M475.5,1695.0h0M591.5,1691.8h0M373.1,1737.8h0M580.1,1705.1h0M471.8,1736.3h0M593.3,1714.5h0M298.5,1712.9h0M555.7,1690.4h0M314.1,1701.8h0M561.4,1711.0h0M375.0,1710.9h0M507.2,1696.8h0M632.7,1702.3h0M408.6,1696.3h0M364.3,1689.2h0M415.4,1693.6h0M448.8,1723.5h0M590.7,1693.5h0M596.0,1695.3h0M331.5,1687.9h0M567.1,1699.6h0M530.1,1691.2h0M465.2,1686.8h0M384.7,1698.8h0M484.3,1721.5h0M551.2,1708.7h0M335.9,1709.8h0M649.2,1692.0h0M545.6,1697.1h0M511.2,1689.5h0M315.7,1705.9h0M434.0,1693.3h0M483.8,1693.4h0M338.6,1700.8h0M323.3,1739.1h0M591.6,1718.0h0M378.3,1698.9h0M406.6,1691.2h0M499.6,1706.6h0M594.4,1688.0h0M598.0,1692.7h0M339.3,1715.7h0M460.5,1698.6h0M496.4,1693.2h0M397.0,1704.5h0M345.0,1712.5h0M333.2,1716.8h0M519.2,1700.3h0M313.0,1696.1h0M496.0,1700.9h0M426.3,1693.9h0M385.6,1713.4h0M530.0,1709.3h0M507.5,1739.4h0M558.0,1702.0h0M458.7,1697.7h0M653.1,1697.4h0M438.0,1688.7h0M331.9,1706.6h0M527.2,1731.5h0M367.9,1705.6h0M380.0,1700.4h0M589.7,1689.7h0M648.4,1687.1h0M356.4,1695.9h0M514.8,1692.9h0M551.7,1695.1h0M550.5,1695.3h0M436.1,1722.5h0M610.6,1692.2h0M467.3,1698.8h0M434.9,1689.1h0M370.5,1696.7h0M581.6,1703.9h0M640.6,1720.5h0M560.9,1701.3h0M388.7,1686.9h0M346.7,1692.2h0M653.0,1690.7h0M449.5,1690.1h0M564.8,1694.5h0M308.7,1705.4h0M464.0,1702.0h0M313.2,1755.4h0M578.1,1716.5h0M549.8,1747.2h0M559.1,1689.3h0M419.0,1689.2h0M550.7,1689.9h0M569.6,1693.5h0M424.5,1695.3h0M420.6,1696.5h0M417.7,1705.0h0M538.3,1726.2h0M329.8,1689.9h0M495.3,1688.2h0M532.2,1704.9h0M539.8,1689.1h0M477.0,1706.8h0M314.4,1701.0h0M432.2,1713.1h0M549.9,1695.6h0M515.5,1699.0h0M299.6,1720.5h0M645.5,1687.1h0M499.2,1688.4h0M491.3,1688.8h0M637.3,1701.9h0M521.0,1704.7h0M566.0,1687.0h0M411.2,1689.0h0M489.8,1695.4h0M331.3,1719.9h0M389.6,1714.6h0M564.5,1704.5h0M385.8,1688.3h0M315.9,1693.9h0M314.5,1721.0h0M542.6,1697.8h0M305.4,1716.5h0M562.1,1695.0h0M407.5,1694.8h0M323.2,1706.5h0M523.9,1688.9h0M352.7,1708.4h0M505.0,1723.9h0M316.9,1733.7h0M348.4,1714.7h0M630.0,1705.1h0M321.4,1717.3h0M337.7,1690.3h0M485.5,1707.7h0M537.3,1694.4h0M392.8,1705.1h0M532.6,1717.1h0M604.5,1709.9h0M475.5,1718.3h0M412.9,1709.1h0M484.4,1705.3h0M441.7,1691.1h0M579.0,1710.7h0M354.4,1756.0h0M497.3,1692.6h0M404.1,1687.0h0M553.5,1689.9h0M516.5,1733.5h0M447.9,1689.1h0M433.3,1714.6h0M319.0,1693.1h0M301.8,1707.5h0M513.5,1714.7h0M514.8,1700.8h0M372.6,1692.7h0M392.8,1698.0h0M303.3,1710.1h0M441.8,1691.3h0M436.3,1712.9h0M537.8,1694.4h0M520.7,1707.8h0M541.4,1696.7h0M308.4,1718.1h0M366.7,1689.8h0M329.5,1725.0h0M336.0,1697.5h0M417.6,1688.3h0M345.4,1696.8h0M541.6,1693.3h0M347.4,1695.8h0M576.8,1717.6h0M392.5,1718.8h0M354.6,1705.0h0M477.7,1757.2h0M643.9,1695.1h0M582.2,1712.2h0M496.8,1696.8h0M501.6,1690.5h0M317.5,1699.4h0M404.9,1699.4h0M527.7,1690.1h0M397.5,1702.2h0M572.7,1699.3h0M464.9,1690.0h0M352.5,1689.1h0M310.8,1722.2h0M364.9,1691.3h0M370.8,1729.8h0M366.7,1725.3h0M310.1,1707.3h0M626.4,1703.0h0M512.2,1698.4h0M529.4,1700.9h0M639.6,1690.1h0M494.7,1688.6h0M544.6,1690.5h0M548.0,1705.8h0M330.1,1734.4h0M353.1,1709.9h0M360.0,1714.1h0M566.7,1746.6h0M325.4,1700.6h0M641.8,1688.7h0M382.7,1692.0h0M512.3,1703.0h0M530.4,1743.7h0M566.9,1695.7h0M424.7,1688.7h0M333.2,1716.2h0M505.9,1687.8h0M403.8,1717.9h0M327.0,1698.5h0M300.6,1704.7h0M434.6,1723.7h0M609.1,1691.5h0M340.0,1715.3h0M567.1,1686.8h0M570.2,1721.2h0M380.1,1692.0h0M601.3,1701.9h0M588.5,1698.8h0M463.2,1709.2h0M533.8,1701.4h0M430.5,1691.4h0M599.1,1710.6h0M518.6,1693.1h0M509.5,1744.0h0M654.5,1689.2h0M332.8,1692.2h0M456.6,1738.6h0M451.6,1691.9h0M332.2,1695.8h0M320.7,1692.4h0M572.4,1725.8h0M375.6,1687.0h0M401.6,1718.8h0M593.2,1695.4h0M344.9,1689.8h0M365.0,1697.0h0M527.1,1707.5h0M398.1,1744.9h0M313.7,1701.9h0M503.8,1702.0h0M536.1,1723.3h0M397.5,1688.3h0M451.5,1704.8h0M387.6,1690.0h0M373.8,1696.9h0M360.3,1711.1h0M354.8,1714.5h0M436.1,1693.3h0M484.5,1694.0h0M320.7,1693.7h0M379.3,1717.1h0M663.8,1696.7h0M345.4,1705.0h0M298.4,1711.0h0M383.3,1686.9h0M444.7,1688.0h0M551.0,1687.4h0M415.4,1691.9h0M630.5,1696.0h0M443.2,1690.9h0M485.1,1691.0h0M435.1,1753.2h0M575.3,1698.7h0M596.0,1692.0h0M540.5,1689.8h0M593.1,1694.7h0M595.9,1695.4h0M406.9,1699.0h0M452.3,1694.6h0M402.3,1697.7h0M580.9,1695.8h0M467.9,1695.7h0M631.6,1688.1h0M518.1,1688.3h0M358.6,1715.4h0M586.9,1691.9h0M614.5,1688.7h0M487.3,1704.3h0M345.8,1711.7h0M558.8,1700.3h0M526.8,1698.3h0M360.1,1688.7h0M515.2,1707.2h0M517.2,1705.1h0M380.8,1688.1h0M378.1,1695.5h0M552.4,1687.4h0M449.1,1714.5h0M479.2,1703.2h0M518.7,1688.6h0M367.1,1691.1h0M541.2,1694.0h0M313.9,1697.7h0M649.6,1692.4h0M495.4,1698.5h0M470.3,1693.5h0M477.3,1691.8h0M658.8,1701.4h0M649.4,1697.8h0M524.7,1692.1h0M507.8,1689.5h0M480.3,1703.3h0M554.2,1688.6h0M492.4,1702.2h0M492.9,1690.1h0M454.5,1701.8h0M443.1,1715.5h0M354.5,1712.1h0M400.1,1736.4h0M350.4,1701.2h0M362.6,1697.9h0M308.9,1699.4h0M559.3,1687.9h0M373.5,1695.8h0M604.8,1717.0h0M494.7,1689.9h0M456.9,1717.9h0M380.3,1745.4h0M331.7,1700.2h0M389.7,1739.9h0M562.5,1701.9h0M313.4,1717.8h0M472.4,1687.8h0M616.5,1701.1h0M333.1,1690.8h0M455.8,1690.7h0M469.5,1746.4h0M459.5,1711.1h0M523.1,1688.1h0M507.7,1705.0h0M339.3,1727.4h0M470.0,1686.9h0M311.0,1706.9h0M554.9,1710.4h0M458.0,1695.7h0M337.2,1698.2h0M419.7,1696.8h0M457.7,1699.0h0M585.2,1694.9h0M456.0,1713.1h0M445.4,1690.3h0M364.0,1705.5h0M392.2,1693.2h0M327.2,1692.4h0M517.6,1704.7h0M623.5,1696.0h0M300.9,1707.3h0M370.1,1688.1h0M659.8,1694.2h0M454.7,1707.2h0M618.5,1718.9h0M581.3,1703.1h0M392.2,1718.2h0M359.5,1690.5h0M453.8,1692.8h0M626.7,1694.8h0M552.9,1695.3h0M487.7,1717.1h0M345.4,1698.0h0M452.6,1687.2h0M422.7,1690.1h0M562.9,1692.2h0M600.3,1689.7h0M600.3,1701.6h0M386.4,1718.3h0M369.7,1713.8h0M592.3,1703.8h0M339.1,1710.2h0M431.5,1700.4h0M597.3,1689.9h0M378.8,1690.9h0M496.4,1690.9h0M414.0,1688.2h0M541.3,1694.5h0M329.3,1687.7h0M496.4,1688.5h0M575.4,1702.2h0M578.7,1705.3h0M328.3,1697.5h0M530.5,1723.5h0M362.7,1728.2h0M367.3,1693.1h0M548.5,1700.5h0M455.9,1687.9h0M389.1,1717.2h0M554.1,1716.3h0M405.5,1694.1h0M498.7,1738.9h0M458.0,1711.7h0M428.9,1708.6h0M362.8,1707.7h0M573.2,1702.0h0M380.1,1719.4h0M358.0,1698.2h0M597.8,1690.8h0M551.0,1726.1h0M519.9,1703.8h0M313.9,1701.7h0M644.5,1694.8h0M519.1,1707.7h0M518.7,1694.8h0M448.0,1694.8h0M491.2,1694.3h0M658.7,1690.8h0M486.8,1704.0h0M434.2,1703.9h0M511.9,1755.1h0M549.2,1692.5h0M345.1,1686.8h0M606.8,1688.7h0M353.2,1696.9h0M393.1,1705.2h0M479.0,1693.2h0M300.0,1713.4h0M425.1,1703.0h0M528.4,1689.7h0M359.2,1717.5h0M614.0,1716.5h0M522.2,1689.6h0M340.8,1706.4h0M463.9,1692.9h0M420.1,1741.9h0M439.6,1713.8h0M398.9,1707.8h0M429.3,1687.0h0M478.1,1691.9h0M367.8,1757.3h0M309.4,1708.3h0M528.2,1706.0h0M510.3,1728.2h0M370.3,1721.9h0M581.6,1693.7h0M435.6,1707.3h0M521.0,1709.2h0M638.7,1756.2h0M369.2,1701.0h0M318.6,1693.6h0M352.6,1698.2h0M381.1,1695.2h0M463.7,1695.0h0M664.8,1699.9h0M411.7,1692.5h0M494.8,1708.8h0M309.0,1724.6h0M381.4,1694.3h0M521.7,1725.5h0M503.9,1698.6h0M508.3,1687.8h0M390.0,1690.0h0M563.8,1699.4h0M435.9,1727.3h0M599.5,1704.2h0M389.0,1695.3h0M435.4,1730.3h0M361.2,1715.9h0M413.4,1704.2h0M391.1,1691.2h0M423.7,1688.0h0M340.0,1720.8h0M385.5,1687.6h0M515.5,1691.7h0M573.3,1724.5h0M380.0,1704.2h0M302.7,1715.8h0M475.9,1697.2h0M323.0,1720.7h0M488.2,1697.9h0M558.3,1691.3h0M323.7,1692.0h0M358.0,1708.7h0M625.2,1701.1h0M461.0,1708.8h0M542.2,1720.5h0M436.1,1726.3h0M494.0,1711.5h0M321.7,1689.6h0M587.6,1715.4h0M533.4,1705.5h0M324.9,1687.7h0M592.6,1696.6h0M401.4,1706.5h0M402.3,1701.6h0M398.8,1706.7h0M645.9,1710.4h0M313.4,1698.6h0M473.8,1689.1h0M404.5,1701.8h0M326.2,1689.8h0M430.2,1705.6h0M554.8,1703.6h0M346.9,1692.8h0M578.4,1700.0h0M459.5,1722.1h0M365.9,1741.1h0M456.5,1691.8h0M335.1,1728.5h0M397.2,1691.2h0M396.0,1690.9h0M443.8,1708.1h0M532.0,1703.6h0M309.0,1699.5h0M267.7,1734.9h0M321.6,1745.8h0M308.3,1725.5h0M262.4,1743.9h0M318.5,1732.7h0M273.5,1736.6h0M317.6,1728.6h0M305.9,1705.2h0M280.2,1720.5h0M289.2,1721.1h0M330.0,1719.5h0M298.2,1723.2h0M247.2,1752.0h0M330.5,1691.0h0M312.8,1734.8h0M246.1,1757.3h0M283.1,1743.6h0M330.7,1690.2h0M323.4,1702.0h0M289.6,1713.2h0M325.1,1695.8h0M247.3,1746.3h0M274.0,1728.0h0M284.2,1747.6h0M246.7,1756.3h0M274.9,1741.4h0M272.4,1745.0h0M312.7,1710.5h0M271.5,1736.3h0M245.3,1746.5h0M330.5,1735.8h0M318.1,1713.3h0M321.8,1688.6h0M286.2,1716.2h0M272.6,1731.6h0M299.4,1709.8h0M271.9,1734.4h0M309.4,1719.9h0M305.5,1719.6h0M327.8,1700.4h0M246.6,1751.9h0M326.7,1715.1h0M259.4,1741.4h0M267.5,1744.8h0M250.3,1756.8h0M316.3,1692.9h0M260.7,1741.0h0M269.8,1744.5h0M260.8,1734.7h0M259.4,1753.8h0M299.9,1709.2h0M270.8,1749.8h0M284.3,1739.6h0M274.4,1725.4h0M260.4,1750.0h0M309.8,1711.5h0M328.9,1691.5h0M316.6,1742.3h0M330.6,1686.8h0M323.6,1695.8h0M233.8,1940.5h0M265.8,1826.7h0M229.5,1812.8h0M291.9,1813.9h0M274.6,1799.2h0M233.5,1784.8h0M336.7,1790.2h0M301.8,1782.7h0M325.5,1774.4h0M343.3,1772.8h0M256.7,1773.4h0M262.6,1771.0h0M276.7,1767.0h0M250.0,1760.6h0M403.3,1765.6h0M253.3,1747.8h0M772.1,1772.7h0M653.5,1793.0h0M690.8,1721.8h0M677.0,1735.6h0M669.8,1709.3h0M669.5,1719.4h0M661.8,1729.8h0M646.9,1734.6h0M639.1,1739.6h0M544.8,1743.1h0M544.8,1747.9h0M556.8,1743.9h0M562.6,1756.4h0M572.5,1751.4h0" stroke="#5b87c5" stroke-width="9.4" stroke-linecap="round" fill="none"/><path d="M359.0,1555.4h0M357.0,1538.1h0M299.7,1544.6h0M447.8,1532.2h0M394.9,1549.7h0M378.0,1547.0h0M371.8,1574.1h0M442.3,1555.3h0M289.3,1514.3h0M258.0,1498.2h0M372.2,1575.6h0M457.0,1574.1h0M362.3,1565.3h0M478.9,1531.6h0M357.0,1486.1h0M345.3,1572.2h0M442.2,1559.1h0M363.2,1545.9h0M351.3,1562.7h0M361.6,1546.7h0M277.7,1500.1h0M350.5,1563.3h0M385.2,1559.8h0M307.8,1493.4h0M446.6,1575.8h0M518.0,1555.0h0M290.6,1527.9h0M511.7,1569.6h0M339.8,1545.5h0M398.0,1529.4h0M481.6,1551.7h0M381.8,1575.3h0M318.9,1566.3h0M277.6,1518.2h0M285.4,1471.5h0M416.8,1558.3h0M360.1,1522.9h0M268.0,1504.2h0M278.8,1528.5h0M358.7,1566.6h0M428.7,1531.4h0M534.4,1554.9h0M479.8,1572.7h0M279.6,1540.6h0M474.4,1575.2h0M348.5,1563.5h0M467.3,1564.6h0M502.1,1537.6h0M380.1,1564.6h0M492.4,1572.9h0M289.5,1534.9h0M420.6,1564.9h0M344.8,1575.1h0M363.4,1526.5h0M349.8,1566.3h0M452.2,1548.4h0M305.1,1559.1h0M419.8,1558.8h0M358.8,1570.9h0M332.6,1525.4h0M417.1,1570.7h0M444.6,1545.7h0M447.0,1541.0h0M511.9,1550.5h0M524.5,1512.1h0M345.4,1572.9h0M397.8,1567.4h0M382.8,1557.8h0M329.8,1524.8h0M483.1,1535.8h0M522.3,1529.3h0M436.2,1566.4h0M473.6,1536.8h0M514.0,1567.7h0M531.9,1573.0h0M285.2,1528.4h0M459.3,1537.1h0M390.4,1568.3h0M295.2,1518.0h0M457.5,1564.2h0M396.5,1489.1h0M421.0,1565.5h0M302.1,1558.4h0M329.4,1549.3h0M341.6,1555.8h0M448.2,1571.3h0M476.2,1536.9h0M338.0,1562.4h0M446.8,1564.7h0M335.6,1567.9h0M306.3,1504.9h0M340.0,1475.3h0M495.8,1540.4h0M390.3,1564.1h0M516.9,1572.9h0M404.7,1560.1h0M263.9,1529.4h0M315.0,1545.2h0M502.4,1562.1h0M464.0,1527.3h0M367.4,1568.6h0M314.2,1552.1h0M395.1,1570.5h0M403.6,1570.8h0M308.1,1560.4h0M412.7,1540.1h0M498.9,1573.6h0M373.0,1553.5h0M467.7,1527.1h0M353.2,1565.7h0M445.9,1561.2h0M279.0,1517.5h0M477.8,1515.9h0M510.9,1500.5h0M355.5,1498.7h0M391.5,1561.7h0M346.8,1546.9h0M404.2,1566.1h0M413.5,1549.2h0M478.7,1569.1h0M358.0,1564.9h0M492.0,1570.7h0M293.8,1551.6h0M329.6,1565.2h0M490.4,1541.7h0M450.1,1560.2h0M280.2,1532.5h0M527.6,1574.1h0M348.7,1565.5h0M464.3,1573.9h0M349.1,1498.2h0M370.3,1563.4h0M455.2,1525.3h0M548.1,1538.6h0M316.3,1530.4h0M472.2,1549.7h0M338.5,1559.1h0M453.7,1527.6h0M283.4,1531.8h0M504.1,1553.2h0M308.8,1547.5h0M364.2,1568.5h0M441.0,1574.0h0M508.8,1571.5h0M282.6,1503.9h0M296.6,1552.4h0M436.7,1563.6h0M317.2,1564.4h0M494.2,1558.5h0M476.1,1551.1h0M386.3,1559.7h0M343.2,1574.9h0M423.9,1478.2h0M509.8,1528.1h0M400.5,1496.8h0M547.8,1566.7h0M283.8,1545.4h0M510.4,1558.7h0M492.3,1573.9h0M470.5,1575.0h0M388.8,1567.8h0M517.6,1568.3h0M341.8,1557.4h0M316.0,1554.1h0M324.5,1503.8h0M273.9,1532.2h0M343.8,1551.5h0M370.5,1573.5h0M308.8,1545.2h0M495.6,1568.3h0M362.2,1562.9h0M520.9,1574.8h0M538.5,1541.2h0M484.6,1543.9h0M288.9,1530.1h0M435.4,1518.8h0M359.2,1555.6h0M450.5,1571.4h0M358.5,1559.3h0M298.0,1545.4h0M438.9,1574.3h0M502.6,1554.5h0M270.8,1522.1h0M319.4,1571.6h0M464.4,1572.4h0M388.7,1550.3h0M476.7,1559.5h0M541.5,1551.8h0M511.3,1562.3h0M464.1,1562.4h0M368.3,1560.0h0M381.1,1544.0h0M311.6,1528.2h0M538.2,1540.8h0M505.7,1563.9h0M359.2,1563.4h0M409.0,1555.0h0M447.5,1554.9h0M434.9,1543.2h0M346.7,1559.3h0M370.9,1573.0h0M500.4,1494.3h0M482.7,1570.2h0M334.1,1561.2h0M315.2,1541.0h0M474.0,1540.0h0M397.2,1571.4h0M366.7,1558.0h0M315.2,1492.7h0M394.0,1534.5h0M337.8,1522.6h0M452.1,1548.9h0M306.7,1559.2h0M411.1,1568.0h0M389.6,1527.9h0M332.9,1559.0h0M510.2,1541.1h0M321.0,1566.6h0M340.1,1572.6h0M341.1,1570.5h0M318.3,1545.4h0M479.6,1557.9h0M417.6,1563.4h0M314.6,1568.6h0M383.6,1563.5h0M267.0,1523.0h0M420.8,1569.1h0M436.3,1560.6h0M441.1,1568.7h0M478.2,1572.1h0M333.5,1557.3h0M485.0,1575.7h0M413.7,1571.8h0M506.8,1536.6h0M325.4,1571.0h0M505.9,1574.8h0M350.1,1568.3h0M292.7,1485.5h0M276.3,1536.7h0M377.8,1547.7h0M338.8,1551.3h0M530.2,1553.0h0M275.4,1501.3h0M268.6,1520.9h0M310.5,1537.5h0M392.4,1555.6h0M341.8,1551.6h0M296.2,1519.2h0M326.0,1574.5h0M436.7,1553.5h0M267.5,1527.4h0M309.5,1537.8h0M369.8,1539.0h0M520.5,1536.7h0M327.4,1549.7h0M300.8,1512.3h0M539.8,1571.7h0M522.7,1557.3h0M380.9,1561.1h0M359.2,1539.9h0M497.8,1561.9h0M350.4,1550.1h0M393.4,1535.3h0M361.8,1537.1h0M358.8,1544.5h0M323.3,1550.4h0M377.6,1536.6h0M386.1,1558.6h0M450.7,1568.8h0M294.7,1542.8h0M426.0,1557.1h0M452.8,1541.6h0M491.0,1567.6h0M361.5,1567.2h0M290.5,1545.7h0M457.2,1563.2h0M307.7,1563.1h0M380.0,1552.7h0M321.3,1548.2h0M378.1,1557.4h0M471.0,1538.8h0M378.8,1541.2h0M302.6,1528.9h0M498.0,1565.1h0M407.7,1565.1h0M327.9,1539.4h0M319.3,1565.3h0M345.9,1557.1h0M304.8,1513.3h0M323.9,1564.3h0M370.5,1553.7h0M317.7,1542.8h0M414.4,1531.0h0M419.4,1560.7h0M446.5,1564.9h0M424.7,1531.0h0M425.2,1572.5h0M360.3,1568.5h0M283.2,1531.2h0M303.6,1551.2h0M421.3,1513.7h0M391.4,1555.8h0M363.3,1544.6h0M446.6,1564.1h0M509.5,1557.4h0M273.2,1509.5h0M282.9,1544.3h0M300.7,1542.5h0M470.5,1570.9h0M435.6,1551.9h0M424.7,1552.5h0M301.5,1556.0h0M414.6,1507.1h0M307.8,1557.0h0M504.4,1562.3h0M304.8,1480.8h0M287.4,1524.8h0M339.4,1558.7h0M423.5,1562.5h0M447.1,1536.8h0M360.1,1546.3h0M284.7,1534.5h0M436.0,1572.5h0M484.0,1532.4h0M459.8,1540.7h0M457.6,1554.6h0M399.8,1564.1h0M350.6,1572.3h0M353.6,1515.5h0M405.1,1563.0h0M292.4,1541.6h0M332.4,1574.5h0M301.2,1545.7h0M314.8,1539.7h0M316.6,1551.6h0M422.3,1559.1h0M476.4,1503.0h0M466.2,1556.4h0M327.2,1574.4h0M510.8,1575.6h0M329.8,1571.5h0M329.8,1575.7h0M411.0,1574.5h0M445.2,1557.9h0M475.2,1557.9h0M303.1,1555.6h0M402.9,1554.9h0M516.1,1575.8h0M302.3,1533.0h0M304.9,1557.8h0M335.3,1575.0h0M494.7,1562.0h0M380.2,1568.9h0M331.2,1557.9h0M546.2,1552.7h0M477.9,1574.6h0M439.1,1552.7h0M463.8,1551.1h0M343.8,1572.4h0M378.2,1535.7h0M397.9,1545.1h0M441.7,1574.4h0M502.4,1572.1h0M353.5,1555.3h0M292.4,1496.0h0M317.4,1561.0h0M424.7,1570.8h0M495.5,1544.1h0M396.6,1528.6h0M366.1,1559.7h0M397.6,1569.8h0M395.8,1465.2h0M426.1,1563.4h0M434.2,1475.7h0M366.8,1515.1h0M516.6,1574.3h0M319.6,1564.3h0M393.2,1563.7h0M421.2,1571.1h0M298.3,1521.1h0M258.7,1514.7h0M423.7,1567.5h0M377.0,1520.0h0M368.8,1572.0h0M372.9,1563.4h0M488.6,1555.2h0M447.0,1560.2h0M290.3,1549.6h0M370.1,1565.6h0M344.4,1455.1h0M345.9,1573.6h0M364.8,1566.3h0M308.0,1553.9h0M357.5,1559.5h0M406.6,1575.5h0M414.9,1557.3h0M418.6,1548.6h0M417.7,1570.5h0M371.2,1573.5h0M532.5,1575.6h0M398.1,1553.2h0M317.2,1524.3h0M474.0,1570.1h0M271.6,1488.8h0M399.5,1571.7h0M449.5,1524.0h0M398.3,1551.1h0M402.7,1538.7h0M384.9,1564.8h0M368.2,1570.1h0M323.9,1572.9h0M393.1,1557.7h0M477.8,1498.1h0M531.2,1574.3h0M276.3,1518.5h0M434.2,1571.6h0M288.4,1543.8h0M530.8,1544.6h0M325.8,1562.0h0M493.1,1553.6h0M440.0,1562.0h0M316.2,1557.3h0M398.0,1550.0h0M537.8,1543.2h0M305.9,1559.6h0M408.8,1493.9h0M478.0,1547.9h0M332.1,1571.1h0M270.5,1499.8h0M319.1,1504.8h0M298.3,1540.8h0M490.0,1568.3h0M288.8,1545.0h0M359.8,1554.2h0M447.3,1561.6h0M467.0,1570.9h0M290.7,1526.9h0M510.5,1574.5h0M348.1,1569.5h0M272.5,1464.1h0M362.3,1531.1h0M371.2,1554.5h0M485.9,1546.1h0M396.2,1569.1h0M511.3,1553.6h0M409.2,1543.5h0M305.8,1561.6h0M533.2,1529.5h0M485.2,1555.8h0M509.5,1570.0h0M272.1,1504.0h0M526.9,1547.9h0M385.8,1566.6h0M325.7,1509.1h0M473.3,1528.5h0M452.8,1507.0h0M333.5,1555.8h0M362.1,1569.4h0M503.4,1565.6h0M421.2,1573.9h0M315.3,1566.5h0M317.0,1541.9h0M464.3,1552.8h0M354.0,1568.4h0M303.4,1541.5h0M541.9,1565.3h0M338.1,1517.1h0M301.4,1547.0h0M269.7,1504.0h0M331.6,1537.0h0M288.8,1536.4h0M460.0,1554.6h0M463.1,1569.5h0M402.4,1553.5h0M330.4,1572.1h0M296.9,1530.5h0M390.1,1575.0h0M356.9,1566.7h0M350.6,1522.6h0M486.9,1551.5h0M366.7,1509.2h0M527.1,1575.6h0M435.8,1483.5h0M448.1,1564.2h0M406.3,1565.6h0M322.3,1563.8h0M525.2,1557.3h0M351.9,1560.8h0M525.8,1538.6h0M520.5,1563.3h0M351.2,1550.3h0M369.6,1458.4h0M349.9,1569.7h0M335.7,1571.0h0M337.6,1525.7h0M307.5,1559.8h0M377.2,1552.6h0M535.0,1543.1h0M398.3,1540.9h0M457.9,1502.3h0M357.8,1558.2h0M468.0,1565.6h0M436.6,1565.0h0M348.6,1566.4h0M299.5,1541.1h0M526.3,1561.5h0M355.1,1573.3h0M369.4,1549.3h0M440.9,1556.8h0M287.3,1518.8h0M504.3,1563.6h0M413.2,1558.0h0M385.5,1563.8h0M536.6,1570.2h0M353.1,1559.8h0M454.7,1560.2h0M423.7,1553.0h0M481.3,1568.1h0M465.3,1543.2h0M543.7,1575.7h0M275.6,1519.4h0M462.6,1562.6h0M465.4,1573.0h0M528.6,1571.8h0M300.4,1553.3h0M309.6,1559.5h0M309.6,1564.1h0M289.5,1544.1h0M384.8,1535.5h0M478.5,1574.7h0M428.7,1573.7h0M342.2,1559.6h0M265.7,1506.7h0M463.4,1564.7h0M292.1,1543.7h0M256.6,1466.9h0M405.5,1515.8h0M479.9,1556.7h0M481.6,1534.9h0M480.8,1539.3h0M328.4,1548.9h0M371.0,1573.1h0M494.4,1567.7h0M547.0,1564.9h0M285.2,1546.7h0M349.3,1559.3h0M464.3,1564.5h0M258.1,1489.4h0M321.4,1537.7h0M358.7,1531.5h0M416.9,1526.9h0M360.4,1521.1h0M454.6,1556.0h0M368.6,1529.8h0M417.0,1494.9h0M381.7,1508.3h0M272.7,1528.1h0M403.6,1532.1h0M328.7,1572.2h0M298.0,1535.2h0M399.9,1574.1h0M427.5,1567.2h0M357.2,1559.9h0M318.1,1562.5h0M312.5,1509.4h0M265.7,1531.6h0M388.2,1504.3h0M525.5,1560.4h0M298.9,1529.4h0M292.4,1529.6h0M375.0,1533.1h0M443.4,1553.0h0M473.5,1568.6h0M396.7,1561.5h0M429.0,1560.6h0M381.8,1573.7h0M318.0,1532.1h0M440.7,1550.5h0M367.6,1536.5h0M339.0,1562.3h0M455.6,1574.4h0M383.4,1571.9h0M516.1,1575.5h0M418.5,1558.4h0M302.7,1550.6h0M456.3,1530.9h0M283.9,1532.7h0M358.5,1573.6h0M356.9,1560.1h0M318.0,1568.8h0M437.8,1560.4h0M278.7,1528.6h0M378.6,1558.7h0M331.7,1558.2h0M378.8,1572.9h0M370.8,1573.5h0M481.9,1563.0h0M386.5,1513.2h0M350.3,1574.3h0M332.2,1551.7h0M438.6,1569.9h0M523.5,1555.5h0M541.1,1574.7h0M393.0,1565.4h0M394.1,1575.6h0M519.3,1563.7h0M520.9,1563.1h0M418.9,1563.7h0M386.0,1527.5h0M511.0,1572.8h0M432.7,1575.1h0M344.7,1570.5h0M321.2,1548.2h0M297.6,1536.1h0M249.9,1517.8h0M419.5,1573.3h0M544.3,1572.4h0M288.0,1521.1h0M338.6,1554.9h0M448.5,1545.8h0M475.2,1573.3h0M294.2,1552.0h0M516.6,1567.4h0M398.9,1569.8h0M364.4,1515.0h0M276.9,1538.5h0M376.8,1561.2h0M323.8,1556.5h0M294.4,1545.2h0M441.8,1529.1h0M324.3,1575.0h0M421.3,1570.9h0M421.2,1528.1h0M321.6,1551.0h0M499.6,1566.3h0M453.3,1557.5h0M350.2,1566.8h0M382.2,1542.3h0M518.9,1535.9h0M340.2,1565.9h0M271.5,1517.0h0M295.0,1552.6h0M449.9,1558.3h0M318.5,1533.6h0M493.5,1495.7h0M358.0,1543.0h0M326.0,1547.0h0M291.0,1541.0h0M309.8,1563.4h0M403.3,1573.1h0M373.1,1570.4h0M302.9,1525.2h0M332.9,1556.6h0M322.8,1565.0h0M320.9,1565.0h0M280.2,1514.5h0M372.0,1564.6h0M508.7,1566.0h0M358.4,1571.7h0M350.7,1561.1h0M346.8,1532.3h0M325.2,1556.3h0M393.4,1565.5h0M483.1,1554.4h0M320.6,1507.5h0M360.1,1550.7h0M397.1,1573.8h0M509.6,1564.6h0M476.0,1574.4h0M349.8,1573.9h0M294.5,1500.5h0M328.2,1570.5h0M375.1,1542.8h0M295.7,1553.3h0M328.3,1566.1h0M455.3,1572.2h0M341.2,1560.5h0M308.8,1562.8h0M290.4,1533.1h0M464.0,1571.6h0M438.3,1569.8h0M353.7,1572.4h0M437.0,1553.7h0M379.3,1548.1h0M254.1,1523.6h0M269.5,1534.0h0M353.9,1566.1h0M288.9,1532.6h0M446.9,1550.2h0M321.0,1561.6h0M332.7,1501.0h0M402.4,1564.5h0M318.5,1571.4h0M407.3,1570.0h0M535.1,1567.7h0M317.2,1555.5h0M353.7,1539.4h0M359.2,1498.4h0M286.6,1522.8h0M301.9,1536.5h0M385.7,1548.0h0M504.6,1562.1h0M267.1,1475.5h0M504.0,1572.9h0M386.0,1545.0h0M423.8,1570.6h0M304.8,1560.1h0M300.3,1542.4h0M292.9,1532.2h0M345.3,1509.6h0M405.7,1572.5h0M330.6,1562.9h0M396.1,1505.3h0M443.4,1572.2h0M347.6,1527.8h0M516.1,1535.8h0M487.8,1513.9h0M264.1,1523.1h0M312.5,1548.7h0M331.5,1543.5h0M321.8,1572.9h0M309.1,1541.5h0M391.1,1538.1h0M450.9,1536.6h0M356.0,1545.4h0M389.1,1570.4h0M524.7,1526.7h0M320.4,1556.5h0M317.4,1568.2h0M268.1,1530.9h0M318.9,1566.3h0M320.7,1565.4h0M393.3,1557.1h0M361.2,1552.4h0M340.7,1566.1h0M278.6,1532.6h0M514.0,1552.4h0M499.7,1552.4h0M520.8,1575.2h0M387.1,1568.6h0M411.2,1557.4h0M390.8,1557.1h0M351.7,1557.5h0M384.2,1534.6h0M299.2,1523.3h0M468.3,1551.0h0M353.8,1571.5h0M505.6,1566.5h0M348.6,1558.0h0M449.5,1546.8h0M470.9,1571.0h0M401.1,1562.1h0M404.3,1572.0h0M407.3,1575.2h0M265.2,1521.4h0M456.9,1568.0h0M363.4,1545.2h0M427.5,1558.1h0M285.2,1542.7h0M327.8,1562.2h0M432.2,1573.9h0M292.9,1551.5h0M405.3,1540.1h0M369.5,1563.0h0M502.0,1569.3h0M305.1,1558.3h0M275.6,1525.0h0M412.3,1531.8h0M395.3,1533.0h0M477.3,1513.3h0M257.3,1514.2h0M427.4,1525.8h0M321.1,1567.1h0M485.5,1572.2h0M337.9,1556.4h0M280.1,1470.8h0M312.3,1516.7h0M294.9,1549.1h0M306.2,1551.5h0M432.4,1569.4h0M529.2,1571.9h0M487.0,1542.2h0M387.3,1561.0h0M315.9,1556.3h0M290.4,1543.9h0M302.9,1559.3h0M391.4,1575.2h0M503.2,1562.7h0M282.0,1517.5h0M349.3,1574.4h0M397.6,1562.0h0M388.8,1574.4h0M339.4,1549.8h0M347.4,1562.9h0M315.1,1567.8h0M461.5,1561.1h0M538.0,1490.9h0M417.0,1529.2h0M297.0,1530.6h0M350.3,1570.9h0M449.7,1563.4h0M301.1,1523.8h0M450.6,1539.7h0M287.7,1543.4h0M535.8,1571.7h0M297.2,1511.5h0M283.2,1520.4h0M328.3,1555.4h0M284.2,1544.9h0M291.8,1547.1h0M351.8,1519.1h0M442.0,1494.7h0M398.0,1503.8h0M276.6,1532.0h0M374.9,1539.1h0M340.2,1546.4h0M306.6,1538.9h0M308.8,1560.9h0M338.7,1558.1h0M300.2,1551.6h0M423.4,1558.7h0M414.8,1496.8h0M285.2,1541.6h0M377.8,1563.4h0M510.4,1573.0h0M455.7,1518.7h0M368.2,1569.3h0M414.8,1572.2h0M403.8,1554.2h0M284.0,1531.7h0M324.7,1502.6h0M472.9,1566.8h0M261.7,1480.7h0M516.0,1574.7h0M461.9,1568.9h0M505.1,1569.8h0M293.1,1476.8h0M303.4,1552.8h0M275.8,1501.6h0M358.8,1558.9h0M426.4,1526.0h0M464.8,1558.4h0M333.9,1553.8h0M472.5,1560.7h0M296.6,1549.6h0M382.9,1560.9h0M301.6,1506.5h0M287.9,1547.1h0M507.0,1573.9h0M451.2,1558.9h0M376.0,1496.4h0M535.1,1558.6h0M376.8,1532.1h0M310.9,1564.1h0M512.2,1500.5h0M387.0,1557.9h0M533.7,1542.2h0M300.3,1522.3h0M380.1,1570.2h0M356.4,1508.4h0M421.5,1561.6h0M327.8,1566.0h0M367.2,1541.4h0M488.7,1568.6h0M397.8,1563.2h0M322.4,1569.1h0M290.4,1517.3h0M453.0,1493.3h0M389.8,1497.4h0M464.5,1531.7h0M274.0,1521.4h0M440.1,1547.5h0M516.0,1571.9h0M506.5,1536.4h0M273.8,1537.9h0M257.7,1495.3h0M260.9,1521.8h0M309.6,1453.3h0M471.3,1562.0h0M539.4,1573.8h0M438.1,1566.4h0M514.4,1533.1h0M298.3,1553.1h0M428.0,1557.8h0M302.7,1547.5h0M368.8,1529.9h0M453.0,1575.8h0M353.4,1564.5h0M364.3,1555.6h0M311.9,1560.1h0M467.8,1566.1h0M367.3,1531.6h0M469.6,1569.3h0M356.7,1568.9h0M450.6,1518.8h0M383.1,1557.6h0M389.8,1530.8h0M261.9,1523.7h0M383.3,1552.6h0M310.5,1516.2h0M346.9,1567.8h0M503.5,1565.0h0M445.5,1575.7h0M504.0,1555.1h0M325.3,1557.3h0M288.6,1519.7h0M500.1,1546.2h0M421.8,1569.9h0M332.0,1541.9h0M395.2,1570.3h0M325.5,1574.2h0M518.8,1564.9h0M292.4,1546.1h0M506.3,1554.6h0M318.3,1570.2h0M297.0,1530.9h0M279.2,1526.2h0M289.8,1527.5h0M283.9,1514.6h0M524.1,1537.7h0M507.8,1557.8h0M378.7,1572.2h0M378.2,1564.3h0M423.7,1533.5h0M488.1,1567.6h0M418.7,1547.8h0M407.7,1569.9h0M373.4,1562.2h0M329.5,1567.3h0M328.1,1574.3h0M343.6,1571.2h0M352.6,1562.0h0M292.9,1549.4h0M394.9,1574.8h0M394.3,1541.8h0M508.6,1558.9h0M430.7,1570.4h0M278.7,1536.3h0M285.2,1521.3h0M356.6,1521.0h0M325.3,1553.3h0M381.6,1522.8h0M520.8,1561.2h0M429.7,1555.6h0M418.3,1512.4h0M394.9,1556.5h0M282.6,1531.2h0M318.6,1554.3h0M470.4,1540.3h0M298.2,1553.9h0M348.3,1494.8h0M283.3,1537.0h0M365.6,1575.5h0M358.5,1572.9h0M364.3,1541.8h0M423.9,1570.5h0M275.2,1515.2h0M289.0,1470.1h0M458.7,1504.8h0M279.7,1542.2h0M331.6,1575.5h0M285.4,1508.9h0M391.0,1569.4h0M305.4,1558.5h0M301.7,1553.9h0M357.7,1573.4h0M337.0,1553.7h0M315.3,1566.1h0M453.2,1563.2h0M322.1,1513.3h0M296.6,1544.3h0M475.9,1553.9h0M313.4,1567.0h0M459.8,1570.0h0M405.0,1564.7h0M355.9,1558.3h0M339.0,1561.8h0M283.9,1542.1h0M270.2,1528.8h0M410.9,1574.3h0M510.0,1559.1h0M326.7,1538.3h0M311.6,1449.9h0M494.8,1571.4h0M537.1,1547.6h0M398.0,1491.1h0M493.8,1569.0h0M442.8,1566.4h0M285.8,1545.8h0M488.2,1539.4h0M452.7,1552.5h0M507.6,1568.9h0M431.6,1548.2h0M379.2,1571.4h0M508.5,1556.2h0M517.3,1545.2h0M319.9,1566.6h0M271.8,1514.8h0M433.9,1566.0h0M429.9,1564.3h0M366.2,1544.4h0M321.9,1532.1h0M382.8,1541.3h0M446.9,1547.7h0M413.9,1573.7h0M539.1,1571.9h0M346.3,1552.8h0M472.5,1530.3h0M356.4,1569.2h0M546.7,1568.5h0M276.0,1538.7h0M477.4,1573.5h0M475.2,1540.1h0M317.2,1560.8h0M364.8,1555.4h0M323.7,1564.5h0M255.3,1510.9h0M286.1,1538.0h0M311.7,1554.3h0M489.8,1550.0h0M272.8,1504.4h0M460.6,1546.1h0M523.4,1574.4h0M398.1,1530.4h0M269.8,1510.3h0M393.0,1573.1h0M447.7,1554.8h0M541.0,1553.8h0M457.7,1564.9h0M401.9,1539.5h0M527.2,1573.3h0M292.7,1481.4h0M374.9,1561.5h0M354.6,1509.9h0M339.6,1478.5h0M516.6,1564.7h0M373.4,1557.2h0M474.7,1574.1h0M401.3,1554.6h0M294.2,1549.2h0M423.4,1534.4h0M445.4,1534.4h0M532.0,1564.2h0M442.8,1560.4h0M420.0,1560.4h0M285.9,1527.3h0M499.8,1543.6h0M356.2,1568.8h0M292.5,1544.6h0M359.7,1572.8h0M294.4,1537.7h0M453.7,1514.3h0M426.1,1570.0h0M486.2,1573.8h0M348.2,1547.5h0M477.4,1567.3h0M447.2,1570.3h0M386.8,1556.9h0M368.5,1539.6h0M323.8,1559.2h0M356.1,1534.6h0M275.8,1516.4h0M412.6,1554.3h0M311.4,1558.0h0M442.5,1571.7h0M305.3,1543.7h0M326.9,1571.3h0M272.8,1535.6h0M371.8,1554.5h0M314.9,1562.3h0M428.8,1563.2h0M399.8,1546.0h0M313.8,1537.6h0M387.8,1561.0h0M384.7,1511.9h0M346.8,1542.0h0M441.1,1564.8h0M401.1,1568.6h0M352.0,1540.5h0M445.8,1563.2h0M326.1,1560.4h0M398.0,1563.7h0M407.4,1536.8h0M317.2,1567.8h0M296.2,1552.0h0M458.7,1575.6h0M326.6,1567.3h0M416.8,1564.6h0M390.6,1540.6h0M313.0,1558.3h0M403.0,1552.9h0M346.7,1562.8h0M435.9,1571.2h0M336.9,1569.1h0M295.1,1509.6h0M313.7,1550.6h0M283.9,1540.6h0M429.6,1567.1h0M309.6,1545.3h0M325.8,1567.0h0M365.3,1573.6h0M282.6,1491.9h0M348.7,1569.3h0M431.9,1571.6h0M297.1,1537.4h0M278.0,1493.1h0M341.6,1558.9h0M424.2,1574.5h0M384.4,1562.2h0M524.5,1558.4h0M276.5,1540.2h0M499.6,1519.9h0M295.4,1504.8h0M392.7,1548.2h0M439.9,1542.2h0M322.1,1559.5h0M309.1,1557.4h0M311.5,1549.4h0M464.3,1567.6h0M312.7,1554.4h0M344.4,1569.7h0M289.6,1507.7h0M399.1,1570.5h0M390.8,1536.3h0M444.5,1554.4h0M419.9,1562.1h0M377.5,1569.3h0M385.5,1536.5h0M456.4,1478.9h0M378.8,1571.2h0M450.7,1569.9h0M389.7,1551.5h0M440.3,1558.4h0M453.9,1573.9h0M328.8,1569.1h0M444.2,1522.4h0M510.2,1570.4h0M344.2,1573.4h0M390.3,1558.5h0M371.5,1569.8h0M422.7,1573.4h0M376.7,1572.5h0M425.7,1559.4h0M401.3,1551.6h0M482.5,1575.6h0M378.8,1540.6h0M491.3,1570.9h0M316.5,1562.4h0M417.5,1552.1h0M508.8,1542.8h0M435.3,1548.4h0M321.3,1503.7h0M374.9,1575.3h0M276.0,1524.1h0M326.1,1569.4h0M500.3,1573.3h0M344.4,1564.6h0M382.9,1562.5h0M328.8,1575.6h0M392.7,1570.0h0M444.9,1564.0h0M496.0,1506.9h0M296.4,1502.4h0M294.8,1553.3h0M356.2,1496.1h0M284.5,1502.9h0M281.7,1537.3h0M426.3,1566.1h0M441.5,1574.2h0M376.1,1559.1h0M513.5,1561.4h0M536.1,1575.3h0M311.8,1530.1h0M302.3,1550.9h0M344.9,1570.2h0M373.7,1561.4h0M315.4,1552.6h0M409.4,1556.6h0M336.8,1560.9h0M387.0,1568.8h0M345.7,1569.0h0M371.6,1565.9h0M447.4,1498.5h0M543.4,1555.2h0M326.2,1534.9h0M313.6,1562.9h0M437.2,1547.2h0M347.4,1536.2h0M324.5,1536.9h0M330.0,1559.5h0M319.1,1559.0h0M546.2,1567.4h0M501.1,1567.0h0M326.7,1568.7h0M351.8,1560.7h0M267.8,1510.4h0M524.8,1516.6h0M488.7,1561.8h0M404.2,1558.1h0M322.8,1574.8h0M531.7,1558.5h0M320.2,1532.3h0M294.3,1547.3h0M547.9,1546.4h0M437.6,1552.5h0M349.1,1559.0h0M472.8,1519.6h0M291.4,1534.8h0M327.2,1572.6h0M376.5,1566.5h0M371.7,1560.7h0M540.6,1539.0h0M384.4,1558.2h0M361.7,1571.1h0M464.4,1575.2h0M352.7,1514.2h0M388.6,1521.6h0M410.8,1562.7h0M499.7,1563.9h0M269.0,1522.2h0M356.3,1558.8h0M381.7,1564.7h0M529.7,1559.0h0M275.1,1532.3h0M369.9,1548.7h0M449.6,1565.8h0M462.4,1545.9h0M277.6,1530.6h0M302.6,1550.9h0M442.0,1567.8h0M495.1,1575.3h0M338.0,1555.2h0M495.5,1509.1h0M445.5,1566.2h0M430.1,1571.3h0M390.8,1573.4h0M485.9,1573.4h0M468.7,1572.5h0M413.1,1568.8h0M440.6,1561.1h0M378.7,1574.1h0M298.8,1491.0h0M352.9,1555.1h0M366.5,1550.5h0M396.2,1559.0h0M341.3,1569.1h0M415.3,1571.5h0M284.6,1541.5h0M399.9,1570.6h0M475.2,1552.6h0M418.4,1559.8h0M306.7,1540.6h0M470.1,1560.7h0M331.3,1534.2h0M394.0,1554.7h0M354.0,1566.0h0M322.3,1558.9h0M317.3,1542.8h0M524.1,1563.0h0M353.1,1525.3h0M268.1,1470.2h0M387.4,1571.6h0M506.4,1564.0h0M355.1,1573.2h0M359.5,1563.0h0M294.8,1540.0h0M475.9,1513.6h0M445.1,1572.4h0M508.6,1573.7h0M338.0,1572.7h0M413.9,1550.5h0M405.5,1573.8h0M526.5,1565.3h0M292.2,1491.1h0M391.8,1548.1h0M351.2,1527.9h0M400.4,1560.5h0M352.8,1575.6h0M519.8,1515.2h0M357.5,1539.7h0M274.9,1532.1h0M318.1,1529.8h0M509.8,1524.9h0M385.0,1574.1h0M491.4,1556.7h0M345.2,1574.5h0M386.7,1556.4h0M325.0,1560.1h0M364.6,1573.3h0M370.5,1553.6h0M289.2,1480.5h0M278.1,1496.8h0M544.6,1558.5h0M353.2,1552.9h0M389.3,1539.4h0M412.5,1549.7h0M320.0,1569.1h0M304.6,1547.3h0M477.5,1549.9h0M409.3,1565.5h0M390.1,1572.8h0M304.6,1545.6h0M263.1,1529.3h0M399.7,1569.5h0M400.4,1468.8h0M398.9,1565.5h0M356.0,1567.8h0M516.5,1573.2h0M358.9,1525.1h0M411.8,1564.6h0M302.4,1510.8h0M545.8,1569.3h0M430.3,1566.9h0M277.2,1474.4h0M404.2,1562.9h0M333.0,1567.2h0M287.7,1543.4h0M412.1,1566.8h0M420.3,1574.4h0M278.1,1541.4h0M416.5,1562.0h0M317.8,1566.2h0M308.7,1550.6h0M289.4,1545.7h0M277.1,1525.7h0M294.1,1552.3h0M370.5,1563.5h0M479.3,1570.4h0M394.5,1550.0h0M352.9,1521.0h0M373.2,1522.1h0M376.6,1569.5h0M376.8,1572.8h0M374.2,1481.1h0M316.4,1565.7h0M346.1,1574.4h0M367.9,1558.0h0M490.9,1551.1h0M382.7,1569.9h0M332.1,1475.3h0M312.2,1473.0h0M292.7,1508.2h0M328.6,1546.5h0M475.8,1568.5h0M302.7,1550.6h0M321.5,1541.9h0M278.8,1518.7h0M464.5,1569.6h0M536.5,1534.0h0M349.7,1572.2h0M365.6,1575.2h0M277.2,1532.9h0M388.4,1571.7h0M422.6,1573.4h0M342.6,1551.2h0M287.9,1504.1h0M428.1,1541.5h0M448.9,1571.6h0M291.0,1525.9h0M425.8,1571.1h0M406.0,1564.2h0M431.3,1559.8h0M279.5,1537.5h0M423.5,1560.0h0M425.0,1567.2h0M485.6,1497.6h0M369.6,1559.1h0M543.7,1573.5h0M444.9,1573.6h0M273.0,1514.0h0M284.7,1545.7h0M311.8,1561.4h0M395.4,1546.4h0M443.4,1573.0h0M319.9,1520.1h0M436.3,1562.4h0M333.3,1559.5h0M421.4,1565.1h0M347.0,1575.8h0M300.4,1510.9h0M367.0,1525.5h0M320.6,1544.7h0M365.2,1524.3h0M498.7,1569.0h0M434.1,1552.8h0M404.9,1546.1h0M286.8,1473.0h0M389.0,1566.2h0M294.5,1545.3h0M379.0,1546.1h0M342.6,1571.2h0M380.9,1476.9h0M326.0,1558.2h0M359.9,1573.1h0M351.6,1556.0h0M471.4,1574.8h0M353.2,1464.1h0M386.5,1558.9h0M279.2,1487.7h0M288.8,1517.8h0M358.6,1474.6h0M285.4,1546.8h0M300.0,1543.6h0M368.9,1557.6h0M313.1,1553.3h0M368.6,1570.4h0M418.3,1545.1h0M455.1,1573.3h0M465.4,1559.3h0M260.1,1501.0h0M280.4,1531.8h0M539.6,1567.4h0M269.6,1508.2h0M625.5,1540.9h0M645.7,1568.1h0M672.9,1568.1h0M671.0,1562.4h0M640.2,1547.4h0M563.3,1565.5h0M669.6,1572.0h0M563.0,1565.2h0M613.4,1566.1h0M561.0,1528.0h0M594.9,1572.3h0M604.4,1548.6h0M648.2,1563.4h0M643.5,1561.6h0M657.8,1572.8h0M579.8,1570.0h0M579.7,1554.4h0M553.1,1540.9h0M560.0,1555.3h0M608.1,1541.3h0M600.4,1552.1h0M637.9,1545.5h0M605.9,1560.9h0M651.1,1550.9h0M661.6,1570.6h0M635.0,1551.7h0M641.8,1556.3h0M569.8,1574.5h0M647.9,1563.6h0M658.8,1534.1h0M554.4,1566.8h0M600.3,1571.8h0M623.7,1563.2h0M643.0,1547.0h0M671.0,1575.3h0M615.2,1567.1h0M568.7,1518.9h0M651.3,1538.8h0M552.5,1562.6h0M604.1,1565.3h0M616.1,1568.7h0M575.0,1566.4h0M643.6,1573.0h0M570.2,1526.2h0M571.4,1573.8h0M563.1,1560.3h0M602.0,1566.4h0M618.3,1535.8h0M606.2,1513.6h0M609.4,1573.9h0M670.8,1575.1h0M632.1,1563.5h0M602.4,1574.2h0M585.6,1566.1h0M588.2,1561.1h0M619.2,1568.3h0M626.4,1568.6h0M614.4,1540.2h0M652.1,1538.9h0M551.5,1529.4h0M657.0,1529.6h0M626.0,1575.7h0M668.1,1554.0h0M645.1,1575.8h0M594.3,1574.5h0M638.9,1558.9h0M621.7,1568.8h0M660.4,1557.8h0M575.2,1559.1h0M606.6,1573.5h0M647.8,1547.7h0M567.5,1573.3h0M575.6,1571.5h0M583.0,1516.0h0M582.3,1572.1h0M562.7,1543.3h0M552.7,1568.7h0M636.1,1567.7h0M632.0,1555.7h0M582.7,1569.2h0M620.8,1574.0h0M645.3,1571.6h0M616.3,1563.1h0M585.7,1570.2h0M624.4,1533.6h0M614.4,1506.3h0M589.8,1564.3h0M631.1,1535.4h0M642.3,1558.6h0M665.5,1562.2h0M282.3,1270.5h0M367.1,1302.2h0M379.6,1323.3h0M519.8,1323.0h0M380.1,1362.2h0M283.4,1382.2h0M465.1,1400.0h0M440.1,1406.7h0M426.8,1409.9h0M404.9,1416.6h0M390.0,1426.4h0M282.6,1411.8h0M296.4,1414.7h0M301.8,1419.8h0M324.7,1422.4h0M239.1,1418.7h0M368.7,1422.4h0M369.2,1427.2h0M373.7,1434.1h0M493.4,1431.7h0M459.3,1443.0h0M607.7,1461.6h0M548.0,1465.3h0M702.3,1442.4h0M626.1,1458.9h0M653.0,1458.7h0M639.1,1469.9h0M719.4,1475.5h0M899.0,1477.3h0M709.2,1503.2h0M750.3,1525.6h0M695.4,1522.6h0M646.1,1517.6h0M664.0,1531.7h0M690.6,1550.4h0M694.6,1555.7h0M669.8,1564.0h0M241.0,1441.0h0M250.0,1436.0h0M258.0,1441.0h0M255.0,1453.0h0M251.0,1464.0h0M272.0,1428.0h0M269.0,1442.0h0M289.0,1439.0h0M248.0,1476.0h0M260.0,1470.0h0M237.0,1476.0h0M243.0,1482.0h0M240.0,1492.0h0M242.0,1504.0h0M244.0,1510.0h0" stroke="#e21f26" stroke-width="9.4" stroke-linecap="round" fill="none"/><line x1="174.2" x2="928.5" y1="1576.5" y2="1576.5" stroke="#e21f26" stroke-width="1.7" stroke-dasharray="7.6 7.1"/><line x1="174.2" x2="928.5" y1="1685.6" y2="1685.6" stroke="#e21f26" stroke-width="1.7" stroke-dasharray="7.6 7.1"/><text x="691.5" y="1357.9" font-size="45.7" font-weight="bold" fill="#e21f26" text-anchor="middle" >synaptically</text><text x="676" y="1413.9" font-size="45.7" font-weight="bold" fill="#e21f26" text-anchor="middle" >enriched</text><text transform="translate(88,1623) rotate(-90)" font-size="53.4" font-weight="bold" fill="#000" text-anchor="middle">enrichment (log2FC)</text><text x="531.5" y="2076.6" font-size="53.6" font-weight="bold" fill="#000" text-anchor="middle" >baseMean (log2)</text><text x="1106.5" y="1231" font-size="60" font-weight="bold" fill="#000" text-anchor="start" >E</text><rect x="1375.4" y="1360.1" width="67.9" height="399.2" fill="#5bb8e4"/><rect x="1382.1" y="1366.7" width="54.5" height="392.6" fill="#4a8fca"/><text x="1408.8" y="1352.1" font-size="29.8" font-weight="normal" fill="#231f20" text-anchor="middle" >1.3 E-3</text><rect x="1477.2" y="1437.1" width="67.7" height="322.2" fill="#5bb8e4"/><rect x="1483.9" y="1443.7" width="54.3" height="315.6" fill="#4a8fca"/><text x="1511.5" y="1426.7" font-size="29.8" font-weight="normal" fill="#231f20" text-anchor="middle" >6.9 E-6</text><rect x="1578.7" y="1493.9" width="67.7" height="265.4" fill="#5bb8e4"/><rect x="1585.4" y="1500.5" width="54.3" height="258.8" fill="#4a8fca"/><text x="1616.7" y="1481.9" font-size="29.8" font-weight="normal" fill="#231f20" text-anchor="middle" >2.4 E-9</text><rect x="1680.5" y="1549.9" width="67.3" height="209.4" fill="#5bb8e4"/><rect x="1687.2" y="1556.5" width="53.9" height="202.8" fill="#4a8fca" stroke="#1a1a1a" stroke-width="0.8"/><text x="1715" y="1538.9" font-size="29.8" font-weight="normal" fill="#231f20" text-anchor="middle" >6.9 E-7</text><line x1="1342" x2="1342" y1="1259.9" y2="1761.3" stroke="#000" stroke-width="4.2"/><line x1="1323.1" x2="1778.4" y1="1759.3" y2="1759.3" stroke="#000" stroke-width="4"/><text x="1309.5" y="1769.6" font-size="42.7" font-weight="bold" fill="#231f20" text-anchor="end" >0</text><line x1="1323.1" x2="1342" y1="1634.8" y2="1634.8" stroke="#000" stroke-width="4"/><text x="1309.5" y="1645.05" font-size="42.7" font-weight="bold" fill="#231f20" text-anchor="end" >1</text><line x1="1323.1" x2="1342" y1="1510.2" y2="1510.2" stroke="#000" stroke-width="4"/><text x="1309.5" y="1520.5" font-size="42.7" font-weight="bold" fill="#231f20" text-anchor="end" >2</text><line x1="1323.1" x2="1342" y1="1385.7" y2="1385.7" stroke="#000" stroke-width="4"/><text x="1309.5" y="1395.95" font-size="42.7" font-weight="bold" fill="#231f20" text-anchor="end" >3</text><line x1="1323.1" x2="1342" y1="1261.1" y2="1261.1" stroke="#000" stroke-width="4"/><text x="1309.5" y="1271.3999999999999" font-size="42.7" font-weight="bold" fill="#231f20" text-anchor="end" >4</text><line x1="1407.8" x2="1407.8" y1="1759.3" y2="1777.6" stroke="#000" stroke-width="4"/><line x1="1510" x2="1510" y1="1759.3" y2="1777.6" stroke="#000" stroke-width="4"/><line x1="1612" x2="1612" y1="1759.3" y2="1777.6" stroke="#000" stroke-width="4"/><line x1="1713.8" x2="1713.8" y1="1759.3" y2="1777.6" stroke="#000" stroke-width="4"/><text transform="translate(1234.6,1508) rotate(-90)" font-size="45.5" font-weight="bold" fill="#000" text-anchor="middle">GO enrichment</text><text transform="translate(1410,1812) rotate(-29.5)" font-size="41.5" font-weight="bold" fill="#000" text-anchor="end">Sm-like proteins</text><text transform="translate(1523,1812) rotate(-29.5)" font-size="41.5" font-weight="bold" fill="#000" text-anchor="end">ribosome subunit</text><text transform="translate(1629,1812) rotate(-29.5)" font-size="41.5" font-weight="bold" fill="#000" text-anchor="end">mitochondrial part</text><text transform="translate(1735,1812) rotate(-29.5)" font-size="41.5" font-weight="bold" fill="#000" text-anchor="end">extracellular part</text>
</svg>
</body></html>
